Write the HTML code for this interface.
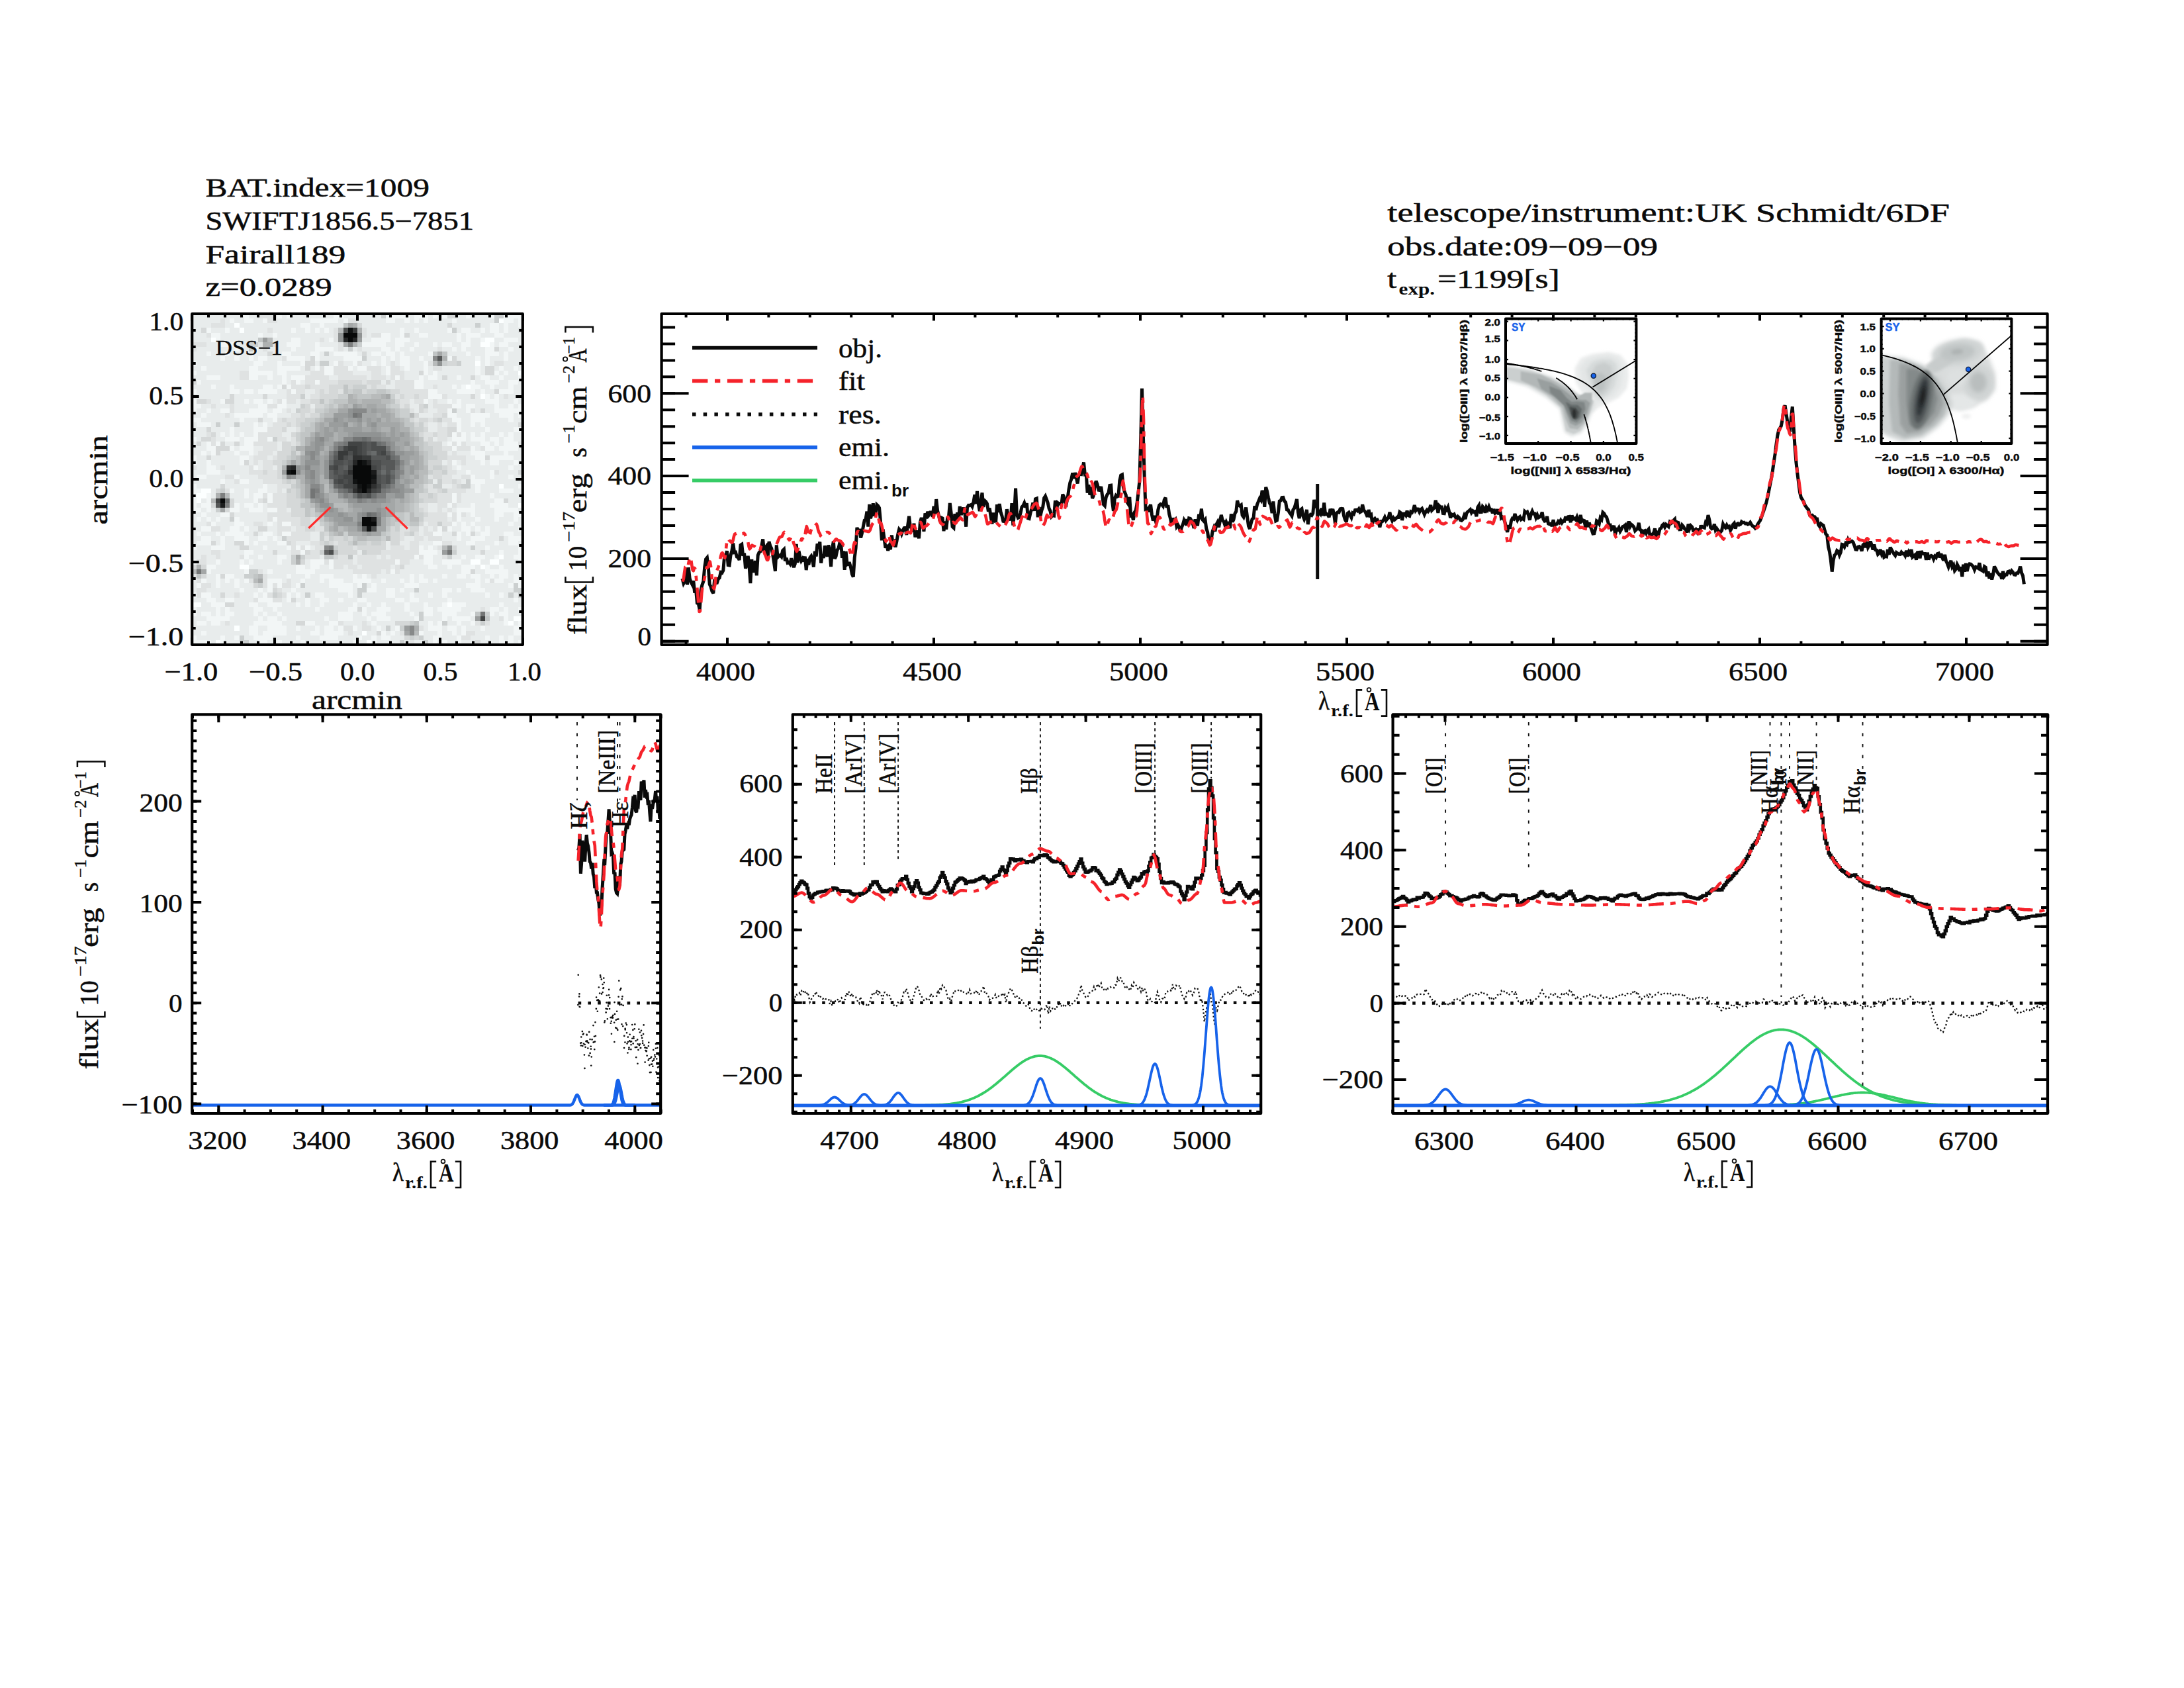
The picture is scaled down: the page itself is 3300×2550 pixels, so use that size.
<!DOCTYPE html>
<html><head><meta charset="utf-8"><title>spectrum</title>
<style>html,body{margin:0;padding:0;background:#fff}svg{display:block}</style>
</head><body>
<svg width="3300" height="2550" viewBox="0 0 3300 2550" font-family="Liberation Serif, serif" fill="#0a0a0a">
<rect width="3300" height="2550" fill="#fff"/>
<g shape-rendering="crispEdges">
<rect x="290.2" y="474" width="499.6" height="500" fill="#e8ecec"/>
<g transform="translate(290.2 474) scale(7.13714 7.14286)">
<path d="M65 1h1v1h-1zM9 2h1v1h-1zM10 3h1v1h-1zM4 5h1v1h-1zM62 5h2v1h-2zM61 6h2v1h-2zM60 10h1v1h-1zM69 12h1v1h-1zM58 15h1v1h-1zM61 17h1v1h-1zM65 36h1v1h-1zM2 37h2v1h-2zM1 38h2v1h-2zM1 39h1v1h-1zM69 40h1v1h-1zM65 51h1v1h-1zM59 52h2v1h-2zM63 52h2v1h-2zM10 53h2v1h-2zM61 53h1v1h-1zM0 61h2v1h-2zM54 61h1v1h-1zM68 64h2v1h-2zM67 65h1v1h-1zM9 66h1v1h-1zM36 67h1v1h-1zM5 69h1v1h-1zM37 69h1v1h-1z" fill="#fcffff"/>
<path d="M11 0h1v1h-1zM18 0h1v1h-1zM20 0h1v1h-1zM30 0h2v1h-2zM41 0h5v1h-5zM47 0h3v1h-3zM51 0h1v1h-1zM53 0h1v1h-1zM58 0h1v1h-1zM63 0h1v1h-1zM66 0h4v1h-4zM8 1h1v1h-1zM11 1h2v1h-2zM15 1h1v1h-1zM25 1h6v1h-6zM32 1h1v1h-1zM41 1h2v1h-2zM45 1h1v1h-1zM47 1h1v1h-1zM49 1h1v1h-1zM55 1h1v1h-1zM66 1h2v1h-2zM69 1h1v1h-1zM23 2h2v1h-2zM27 2h1v1h-1zM63 2h2v1h-2zM66 2h1v1h-1zM69 2h1v1h-1zM3 3h1v1h-1zM7 3h1v1h-1zM21 3h1v1h-1zM24 3h1v1h-1zM26 3h1v1h-1zM28 3h1v1h-1zM44 3h1v1h-1zM47 3h1v1h-1zM54 3h1v1h-1zM57 3h2v1h-2zM61 3h1v1h-1zM63 3h2v1h-2zM66 3h1v1h-1zM4 4h2v1h-2zM14 4h1v1h-1zM17 4h1v1h-1zM40 4h2v1h-2zM44 4h1v1h-1zM48 4h2v1h-2zM56 4h1v1h-1zM58 4h3v1h-3zM64 4h2v1h-2zM5 5h1v1h-1zM21 5h2v1h-2zM29 5h1v1h-1zM38 5h4v1h-4zM43 5h3v1h-3zM56 5h1v1h-1zM58 5h1v1h-1zM61 5h1v1h-1zM66 5h3v1h-3zM6 6h3v1h-3zM20 6h3v1h-3zM26 6h1v1h-1zM36 6h5v1h-5zM43 6h2v1h-2zM47 6h1v1h-1zM51 6h1v1h-1zM53 6h2v1h-2zM57 6h2v1h-2zM63 6h1v1h-1zM65 6h2v1h-2zM9 7h1v1h-1zM13 7h1v1h-1zM21 7h1v1h-1zM26 7h4v1h-4zM40 7h2v1h-2zM43 7h1v1h-1zM46 7h1v1h-1zM55 7h1v1h-1zM57 7h1v1h-1zM62 7h2v1h-2zM67 7h1v1h-1zM3 8h1v1h-1zM7 8h1v1h-1zM19 8h2v1h-2zM25 8h2v1h-2zM30 8h5v1h-5zM38 8h2v1h-2zM41 8h2v1h-2zM44 8h1v1h-1zM50 8h1v1h-1zM58 8h1v1h-1zM62 8h3v1h-3zM66 8h1v1h-1zM6 9h1v1h-1zM9 9h1v1h-1zM12 9h1v1h-1zM14 9h2v1h-2zM20 9h4v1h-4zM26 9h1v1h-1zM32 9h4v1h-4zM40 9h1v1h-1zM42 9h1v1h-1zM44 9h2v1h-2zM48 9h1v1h-1zM54 9h1v1h-1zM60 9h1v1h-1zM62 9h1v1h-1zM66 9h1v1h-1zM0 10h1v1h-1zM13 10h2v1h-2zM18 10h1v1h-1zM23 10h1v1h-1zM30 10h1v1h-1zM34 10h1v1h-1zM38 10h1v1h-1zM40 10h1v1h-1zM44 10h2v1h-2zM49 10h1v1h-1zM62 10h1v1h-1zM2 11h1v1h-1zM12 11h2v1h-2zM18 11h5v1h-5zM26 11h1v1h-1zM28 11h2v1h-2zM33 11h1v1h-1zM35 11h2v1h-2zM41 11h1v1h-1zM45 11h1v1h-1zM49 11h1v1h-1zM60 11h1v1h-1zM65 11h1v1h-1zM68 11h1v1h-1zM0 12h1v1h-1zM12 12h5v1h-5zM18 12h2v1h-2zM28 12h2v1h-2zM41 12h1v1h-1zM49 12h1v1h-1zM51 12h1v1h-1zM60 12h1v1h-1zM64 12h1v1h-1zM66 12h1v1h-1zM3 13h3v1h-3zM12 13h2v1h-2zM16 13h1v1h-1zM19 13h1v1h-1zM21 13h3v1h-3zM43 13h1v1h-1zM48 13h1v1h-1zM50 13h2v1h-2zM56 13h1v1h-1zM61 13h2v1h-2zM65 13h1v1h-1zM69 13h1v1h-1zM1 14h1v1h-1zM19 14h1v1h-1zM22 14h1v1h-1zM26 14h1v1h-1zM47 14h2v1h-2zM59 14h1v1h-1zM62 14h3v1h-3zM67 14h2v1h-2zM4 15h1v1h-1zM8 15h1v1h-1zM15 15h2v1h-2zM18 15h1v1h-1zM20 15h1v1h-1zM47 15h2v1h-2zM55 15h1v1h-1zM57 15h1v1h-1zM59 15h2v1h-2zM63 15h1v1h-1zM67 15h1v1h-1zM0 16h1v1h-1zM8 16h2v1h-2zM11 16h2v1h-2zM14 16h4v1h-4zM21 16h1v1h-1zM50 16h2v1h-2zM56 16h4v1h-4zM61 16h1v1h-1zM65 16h3v1h-3zM50 17h3v1h-3zM62 17h1v1h-1zM64 17h1v1h-1zM0 18h1v1h-1zM6 18h1v1h-1zM11 18h1v1h-1zM13 18h2v1h-2zM16 18h1v1h-1zM19 18h1v1h-1zM49 18h1v1h-1zM54 18h1v1h-1zM56 18h1v1h-1zM62 18h3v1h-3zM68 18h1v1h-1zM0 19h2v1h-2zM14 19h2v1h-2zM18 19h2v1h-2zM55 19h2v1h-2zM58 19h2v1h-2zM64 19h1v1h-1zM67 19h1v1h-1zM69 19h1v1h-1zM0 20h1v1h-1zM3 20h1v1h-1zM6 20h2v1h-2zM12 20h4v1h-4zM17 20h2v1h-2zM54 20h1v1h-1zM58 20h1v1h-1zM64 20h6v1h-6zM2 21h1v1h-1zM9 21h6v1h-6zM16 21h2v1h-2zM54 21h2v1h-2zM59 21h4v1h-4zM65 21h3v1h-3zM69 21h1v1h-1zM0 22h2v1h-2zM10 22h1v1h-1zM17 22h1v1h-1zM55 22h2v1h-2zM59 22h3v1h-3zM67 22h1v1h-1zM1 23h3v1h-3zM13 23h1v1h-1zM15 23h1v1h-1zM56 23h1v1h-1zM59 23h1v1h-1zM61 23h1v1h-1zM8 24h1v1h-1zM13 24h3v1h-3zM56 24h1v1h-1zM62 24h1v1h-1zM68 24h2v1h-2zM6 25h1v1h-1zM8 25h1v1h-1zM10 25h1v1h-1zM13 25h1v1h-1zM55 25h1v1h-1zM57 25h1v1h-1zM59 25h1v1h-1zM61 25h1v1h-1zM65 25h1v1h-1zM67 25h1v1h-1zM0 26h1v1h-1zM7 26h3v1h-3zM11 26h3v1h-3zM16 26h1v1h-1zM55 26h3v1h-3zM59 26h3v1h-3zM63 26h2v1h-2zM66 26h2v1h-2zM3 27h1v1h-1zM5 27h1v1h-1zM11 27h2v1h-2zM54 27h1v1h-1zM56 27h1v1h-1zM61 27h2v1h-2zM64 27h1v1h-1zM66 27h3v1h-3zM3 28h2v1h-2zM8 28h1v1h-1zM10 28h3v1h-3zM55 28h1v1h-1zM59 28h1v1h-1zM62 28h2v1h-2zM65 28h4v1h-4zM2 29h1v1h-1zM4 29h1v1h-1zM9 29h1v1h-1zM12 29h1v1h-1zM59 29h3v1h-3zM66 29h1v1h-1zM0 30h1v1h-1zM10 30h2v1h-2zM60 30h2v1h-2zM63 30h5v1h-5zM0 31h1v1h-1zM3 31h1v1h-1zM10 31h1v1h-1zM55 31h1v1h-1zM61 31h1v1h-1zM63 31h2v1h-2zM68 31h1v1h-1zM3 32h2v1h-2zM13 32h1v1h-1zM56 32h1v1h-1zM67 32h1v1h-1zM3 33h3v1h-3zM58 33h1v1h-1zM63 33h1v1h-1zM1 34h2v1h-2zM9 34h1v1h-1zM59 34h1v1h-1zM63 34h1v1h-1zM67 34h1v1h-1zM6 35h1v1h-1zM10 35h2v1h-2zM59 35h3v1h-3zM0 36h1v1h-1zM15 36h1v1h-1zM60 36h1v1h-1zM69 36h1v1h-1zM0 37h2v1h-2zM8 37h1v1h-1zM11 37h1v1h-1zM14 37h2v1h-2zM60 37h1v1h-1zM65 37h3v1h-3zM0 38h1v1h-1zM3 38h1v1h-1zM11 38h1v1h-1zM13 38h2v1h-2zM16 38h1v1h-1zM55 38h1v1h-1zM63 38h1v1h-1zM0 39h1v1h-1zM3 39h1v1h-1zM13 39h1v1h-1zM16 39h1v1h-1zM55 39h1v1h-1zM64 39h2v1h-2zM0 40h1v1h-1zM2 40h2v1h-2zM9 40h1v1h-1zM11 40h2v1h-2zM14 40h1v1h-1zM54 40h1v1h-1zM59 40h1v1h-1zM63 40h4v1h-4zM0 41h2v1h-2zM3 41h1v1h-1zM8 41h2v1h-2zM12 41h3v1h-3zM16 41h2v1h-2zM56 41h4v1h-4zM64 41h5v1h-5zM2 42h1v1h-1zM6 42h2v1h-2zM54 42h1v1h-1zM56 42h1v1h-1zM59 42h1v1h-1zM64 42h2v1h-2zM68 42h2v1h-2zM1 43h1v1h-1zM3 43h1v1h-1zM5 43h1v1h-1zM9 43h1v1h-1zM17 43h1v1h-1zM56 43h1v1h-1zM60 43h1v1h-1zM64 43h1v1h-1zM68 43h1v1h-1zM4 44h1v1h-1zM9 44h2v1h-2zM16 44h1v1h-1zM19 44h2v1h-2zM55 44h1v1h-1zM57 44h1v1h-1zM59 44h1v1h-1zM67 44h1v1h-1zM2 45h2v1h-2zM8 45h2v1h-2zM11 45h1v1h-1zM52 45h1v1h-1zM54 45h1v1h-1zM57 45h2v1h-2zM60 45h1v1h-1zM62 45h1v1h-1zM69 45h1v1h-1zM1 46h1v1h-1zM5 46h1v1h-1zM7 46h4v1h-4zM15 46h2v1h-2zM19 46h2v1h-2zM51 46h2v1h-2zM56 46h1v1h-1zM58 46h1v1h-1zM61 46h2v1h-2zM66 46h2v1h-2zM2 47h2v1h-2zM6 47h1v1h-1zM9 47h3v1h-3zM14 47h2v1h-2zM17 47h1v1h-1zM56 47h1v1h-1zM59 47h3v1h-3zM67 47h3v1h-3zM1 48h3v1h-3zM6 48h1v1h-1zM11 48h1v1h-1zM13 48h1v1h-1zM18 48h2v1h-2zM51 48h2v1h-2zM58 48h2v1h-2zM64 48h1v1h-1zM67 48h2v1h-2zM0 49h1v1h-1zM4 49h3v1h-3zM15 49h1v1h-1zM20 49h1v1h-1zM22 49h1v1h-1zM24 49h1v1h-1zM48 49h1v1h-1zM50 49h1v1h-1zM62 49h1v1h-1zM69 49h1v1h-1zM11 50h2v1h-2zM23 50h1v1h-1zM48 50h4v1h-4zM65 50h1v1h-1zM69 50h1v1h-1zM11 51h1v1h-1zM14 51h1v1h-1zM18 51h2v1h-2zM47 51h1v1h-1zM49 51h2v1h-2zM57 51h1v1h-1zM60 51h2v1h-2zM64 51h1v1h-1zM68 51h2v1h-2zM0 52h1v1h-1zM5 52h1v1h-1zM10 52h1v1h-1zM12 52h1v1h-1zM18 52h1v1h-1zM25 52h3v1h-3zM29 52h1v1h-1zM43 52h1v1h-1zM49 52h2v1h-2zM53 52h4v1h-4zM69 52h1v1h-1zM3 53h2v1h-2zM22 53h2v1h-2zM25 53h2v1h-2zM29 53h1v1h-1zM50 53h2v1h-2zM54 53h1v1h-1zM57 53h3v1h-3zM62 53h1v1h-1zM65 53h1v1h-1zM3 54h1v1h-1zM11 54h1v1h-1zM16 54h1v1h-1zM22 54h4v1h-4zM42 54h1v1h-1zM57 54h2v1h-2zM62 54h5v1h-5zM5 55h1v1h-1zM7 55h2v1h-2zM20 55h1v1h-1zM24 55h1v1h-1zM27 55h3v1h-3zM34 55h1v1h-1zM36 55h1v1h-1zM46 55h1v1h-1zM48 55h1v1h-1zM53 55h1v1h-1zM56 55h2v1h-2zM59 55h2v1h-2zM63 55h1v1h-1zM65 55h2v1h-2zM68 55h1v1h-1zM2 56h1v1h-1zM5 56h1v1h-1zM7 56h1v1h-1zM9 56h1v1h-1zM11 56h1v1h-1zM16 56h3v1h-3zM23 56h1v1h-1zM27 56h1v1h-1zM29 56h3v1h-3zM34 56h4v1h-4zM40 56h1v1h-1zM44 56h1v1h-1zM46 56h1v1h-1zM48 56h2v1h-2zM51 56h1v1h-1zM60 56h1v1h-1zM62 56h1v1h-1zM64 56h2v1h-2zM68 56h2v1h-2zM1 57h1v1h-1zM5 57h1v1h-1zM9 57h1v1h-1zM16 57h1v1h-1zM18 57h1v1h-1zM22 57h1v1h-1zM29 57h5v1h-5zM35 57h1v1h-1zM38 57h1v1h-1zM45 57h3v1h-3zM58 57h3v1h-3zM67 57h1v1h-1zM69 57h1v1h-1zM10 58h1v1h-1zM14 58h1v1h-1zM16 58h1v1h-1zM21 58h1v1h-1zM31 58h3v1h-3zM37 58h2v1h-2zM41 58h2v1h-2zM44 58h1v1h-1zM53 58h2v1h-2zM56 58h1v1h-1zM59 58h3v1h-3zM0 59h1v1h-1zM2 59h2v1h-2zM13 59h1v1h-1zM15 59h1v1h-1zM20 59h1v1h-1zM22 59h1v1h-1zM26 59h2v1h-2zM33 59h1v1h-1zM41 59h2v1h-2zM46 59h1v1h-1zM50 59h1v1h-1zM53 59h1v1h-1zM62 59h1v1h-1zM65 59h1v1h-1zM3 60h2v1h-2zM7 60h2v1h-2zM14 60h3v1h-3zM20 60h1v1h-1zM24 60h1v1h-1zM27 60h2v1h-2zM31 60h1v1h-1zM35 60h2v1h-2zM43 60h2v1h-2zM46 60h2v1h-2zM54 60h1v1h-1zM68 60h1v1h-1zM4 61h3v1h-3zM12 61h2v1h-2zM16 61h3v1h-3zM22 61h1v1h-1zM24 61h1v1h-1zM27 61h1v1h-1zM34 61h1v1h-1zM37 61h1v1h-1zM40 61h1v1h-1zM45 61h1v1h-1zM49 61h1v1h-1zM53 61h1v1h-1zM55 61h3v1h-3zM65 61h1v1h-1zM0 62h1v1h-1zM5 62h1v1h-1zM7 62h1v1h-1zM13 62h2v1h-2zM17 62h1v1h-1zM26 62h1v1h-1zM33 62h2v1h-2zM36 62h1v1h-1zM39 62h3v1h-3zM45 62h1v1h-1zM49 62h2v1h-2zM52 62h5v1h-5zM63 62h2v1h-2zM66 62h1v1h-1zM69 62h1v1h-1zM0 63h1v1h-1zM2 63h2v1h-2zM5 63h1v1h-1zM7 63h2v1h-2zM13 63h1v1h-1zM15 63h1v1h-1zM18 63h1v1h-1zM31 63h3v1h-3zM36 63h1v1h-1zM38 63h3v1h-3zM46 63h1v1h-1zM49 63h2v1h-2zM53 63h3v1h-3zM59 63h1v1h-1zM63 63h1v1h-1zM65 63h2v1h-2zM3 64h5v1h-5zM14 64h1v1h-1zM16 64h2v1h-2zM19 64h1v1h-1zM28 64h1v1h-1zM31 64h3v1h-3zM37 64h1v1h-1zM39 64h3v1h-3zM47 64h1v1h-1zM53 64h1v1h-1zM55 64h4v1h-4zM66 64h1v1h-1zM1 65h2v1h-2zM4 65h2v1h-2zM13 65h6v1h-6zM24 65h2v1h-2zM29 65h2v1h-2zM38 65h1v1h-1zM50 65h1v1h-1zM52 65h1v1h-1zM56 65h1v1h-1zM59 65h1v1h-1zM66 65h1v1h-1zM69 65h1v1h-1zM12 66h2v1h-2zM16 66h4v1h-4zM22 66h1v1h-1zM26 66h1v1h-1zM28 66h2v1h-2zM31 66h1v1h-1zM34 66h1v1h-1zM39 66h1v1h-1zM43 66h1v1h-1zM50 66h3v1h-3zM54 66h2v1h-2zM57 66h1v1h-1zM61 66h1v1h-1zM68 66h2v1h-2zM2 67h1v1h-1zM12 67h2v1h-2zM15 67h5v1h-5zM25 67h2v1h-2zM28 67h4v1h-4zM40 67h1v1h-1zM42 67h1v1h-1zM48 67h1v1h-1zM52 67h1v1h-1zM55 67h1v1h-1zM57 67h1v1h-1zM68 67h2v1h-2zM0 68h1v1h-1zM6 68h1v1h-1zM9 68h1v1h-1zM13 68h4v1h-4zM22 68h1v1h-1zM27 68h4v1h-4zM35 68h1v1h-1zM38 68h1v1h-1zM40 68h2v1h-2zM51 68h2v1h-2zM56 68h1v1h-1zM62 68h1v1h-1zM65 68h1v1h-1zM67 68h1v1h-1zM0 69h4v1h-4zM6 69h1v1h-1zM14 69h2v1h-2zM18 69h1v1h-1zM23 69h1v1h-1zM34 69h1v1h-1zM38 69h1v1h-1zM51 69h1v1h-1zM53 69h1v1h-1zM56 69h1v1h-1zM65 69h3v1h-3zM69 69h1v1h-1z" fill="#f2f6f6"/>
<path d="M14 0h4v1h-4zM6 1h1v1h-1zM16 1h2v1h-2zM33 1h2v1h-2zM4 2h3v1h-3zM16 3h1v1h-1zM30 3h1v1h-1zM36 3h1v1h-1zM69 3h1v1h-1zM3 4h1v1h-1zM30 4h1v1h-1zM36 4h1v1h-1zM38 4h2v1h-2zM27 5h1v1h-1zM30 5h1v1h-1zM0 6h3v1h-3zM14 6h1v1h-1zM17 6h1v1h-1zM31 6h1v1h-1zM0 7h1v1h-1zM15 7h1v1h-1zM31 7h1v1h-1zM35 7h1v1h-1zM52 7h1v1h-1zM19 9h1v1h-1zM31 10h1v1h-1zM35 10h1v1h-1zM42 10h1v1h-1zM50 10h1v1h-1zM64 10h2v1h-2zM27 11h1v1h-1zM30 11h3v1h-3zM37 11h3v1h-3zM42 11h2v1h-2zM51 11h2v1h-2zM10 12h2v1h-2zM25 12h3v1h-3zM30 12h4v1h-4zM38 12h2v1h-2zM42 12h3v1h-3zM10 13h2v1h-2zM24 13h5v1h-5zM31 13h6v1h-6zM38 13h3v1h-3zM42 13h1v1h-1zM44 13h1v1h-1zM21 14h1v1h-1zM24 14h2v1h-2zM27 14h4v1h-4zM36 14h1v1h-1zM43 14h4v1h-4zM21 15h3v1h-3zM25 15h4v1h-4zM37 15h1v1h-1zM39 15h2v1h-2zM43 15h4v1h-4zM51 15h1v1h-1zM20 16h1v1h-1zM22 16h2v1h-2zM26 16h1v1h-1zM28 16h1v1h-1zM31 16h1v1h-1zM44 16h6v1h-6zM20 17h3v1h-3zM25 17h2v1h-2zM43 17h1v1h-1zM45 17h2v1h-2zM48 17h2v1h-2zM53 17h1v1h-1zM66 17h1v1h-1zM3 18h1v1h-1zM18 18h1v1h-1zM20 18h2v1h-2zM23 18h2v1h-2zM44 18h2v1h-2zM47 18h2v1h-2zM51 18h1v1h-1zM4 19h1v1h-1zM8 19h1v1h-1zM16 19h2v1h-2zM44 19h1v1h-1zM51 19h4v1h-4zM8 20h1v1h-1zM20 20h1v1h-1zM25 20h1v1h-1zM46 20h1v1h-1zM49 20h1v1h-1zM52 20h2v1h-2zM59 20h1v1h-1zM7 21h1v1h-1zM21 21h2v1h-2zM24 21h1v1h-1zM51 21h2v1h-2zM18 22h1v1h-1zM20 22h2v1h-2zM47 22h1v1h-1zM50 22h1v1h-1zM53 22h2v1h-2zM17 23h3v1h-3zM21 23h1v1h-1zM49 23h1v1h-1zM52 23h1v1h-1zM54 23h2v1h-2zM16 24h3v1h-3zM22 24h1v1h-1zM52 24h2v1h-2zM3 25h1v1h-1zM14 25h5v1h-5zM49 25h2v1h-2zM52 25h2v1h-2zM56 25h1v1h-1zM4 26h1v1h-1zM14 26h2v1h-2zM18 26h2v1h-2zM21 26h1v1h-1zM49 26h1v1h-1zM52 26h2v1h-2zM4 27h1v1h-1zM13 27h5v1h-5zM21 27h1v1h-1zM55 27h1v1h-1zM57 27h1v1h-1zM69 27h1v1h-1zM15 28h3v1h-3zM53 28h2v1h-2zM56 28h3v1h-3zM61 28h1v1h-1zM14 29h3v1h-3zM55 29h1v1h-1zM13 30h3v1h-3zM17 30h1v1h-1zM54 30h4v1h-4zM13 31h1v1h-1zM15 31h2v1h-2zM54 31h1v1h-1zM57 31h1v1h-1zM0 32h1v1h-1zM6 32h1v1h-1zM12 32h1v1h-1zM15 32h2v1h-2zM54 32h1v1h-1zM12 33h3v1h-3zM16 33h2v1h-2zM54 33h2v1h-2zM64 33h1v1h-1zM7 34h2v1h-2zM14 34h4v1h-4zM50 34h1v1h-1zM53 34h2v1h-2zM57 34h2v1h-2zM9 35h1v1h-1zM15 35h4v1h-4zM53 35h2v1h-2zM56 35h1v1h-1zM18 36h3v1h-3zM50 36h1v1h-1zM55 36h1v1h-1zM7 37h1v1h-1zM18 37h1v1h-1zM50 37h2v1h-2zM54 37h4v1h-4zM15 38h1v1h-1zM17 38h3v1h-3zM52 38h3v1h-3zM56 38h1v1h-1zM14 39h1v1h-1zM17 39h3v1h-3zM52 39h3v1h-3zM56 39h1v1h-1zM16 40h4v1h-4zM48 40h2v1h-2zM52 40h2v1h-2zM55 40h1v1h-1zM18 41h2v1h-2zM49 41h1v1h-1zM52 41h1v1h-1zM54 41h1v1h-1zM16 42h5v1h-5zM50 42h4v1h-4zM55 42h1v1h-1zM57 42h1v1h-1zM16 43h1v1h-1zM18 43h5v1h-5zM25 43h1v1h-1zM49 43h5v1h-5zM55 43h1v1h-1zM3 44h1v1h-1zM13 44h2v1h-2zM18 44h1v1h-1zM21 44h2v1h-2zM25 44h2v1h-2zM50 44h2v1h-2zM53 44h2v1h-2zM4 45h2v1h-2zM18 45h3v1h-3zM22 45h2v1h-2zM26 45h2v1h-2zM44 45h2v1h-2zM49 45h1v1h-1zM51 45h1v1h-1zM18 46h1v1h-1zM21 46h4v1h-4zM44 46h1v1h-1zM47 46h1v1h-1zM49 46h2v1h-2zM20 47h5v1h-5zM28 47h1v1h-1zM44 47h1v1h-1zM47 47h2v1h-2zM50 47h3v1h-3zM21 48h1v1h-1zM25 48h2v1h-2zM30 48h1v1h-1zM46 48h2v1h-2zM53 48h2v1h-2zM21 49h1v1h-1zM23 49h1v1h-1zM26 49h2v1h-2zM34 49h1v1h-1zM42 49h3v1h-3zM46 49h2v1h-2zM52 49h1v1h-1zM4 50h2v1h-2zM21 50h2v1h-2zM25 50h2v1h-2zM40 50h8v1h-8zM2 51h1v1h-1zM5 51h1v1h-1zM10 51h1v1h-1zM24 51h3v1h-3zM31 51h2v1h-2zM35 51h4v1h-4zM40 51h1v1h-1zM42 51h5v1h-5zM48 51h1v1h-1zM53 51h1v1h-1zM1 52h2v1h-2zM28 52h1v1h-1zM30 52h4v1h-4zM35 52h8v1h-8zM44 52h2v1h-2zM30 53h2v1h-2zM33 53h2v1h-2zM36 53h6v1h-6zM43 53h1v1h-1zM14 54h1v1h-1zM34 54h6v1h-6zM41 54h1v1h-1zM43 54h1v1h-1zM0 55h1v1h-1zM15 55h1v1h-1zM38 55h1v1h-1zM1 56h1v1h-1zM12 56h1v1h-1zM15 56h1v1h-1zM20 56h1v1h-1zM63 56h1v1h-1zM2 57h2v1h-2zM15 57h1v1h-1zM17 57h1v1h-1zM19 57h2v1h-2zM1 58h2v1h-2zM18 58h1v1h-1zM1 59h1v1h-1zM9 59h1v1h-1zM16 59h1v1h-1zM19 59h1v1h-1zM13 60h1v1h-1zM17 60h2v1h-2zM61 62h1v1h-1zM65 64h1v1h-1zM7 65h1v1h-1zM31 65h1v1h-1zM36 65h1v1h-1zM60 65h1v1h-1zM62 65h1v1h-1zM32 66h2v1h-2zM36 66h2v1h-2zM48 66h1v1h-1zM33 67h1v1h-1zM44 67h1v1h-1zM58 67h2v1h-2zM57 68h2v1h-2zM46 69h1v1h-1z" fill="#dfe2e2"/>
<path d="M54 0h2v1h-2zM35 2h1v1h-1zM54 2h1v1h-1zM2 3h1v1h-1zM45 4h1v1h-1zM64 7h1v1h-1zM16 8h1v1h-1zM36 8h1v1h-1zM25 9h1v1h-1zM55 9h1v1h-1zM24 10h2v1h-2zM54 10h2v1h-2zM24 11h1v1h-1zM62 11h2v1h-2zM48 12h1v1h-1zM62 12h2v1h-2zM53 13h1v1h-1zM59 13h1v1h-1zM0 14h1v1h-1zM31 14h5v1h-5zM37 14h3v1h-3zM41 14h1v1h-1zM19 15h1v1h-1zM24 15h1v1h-1zM29 15h3v1h-3zM33 15h1v1h-1zM38 15h1v1h-1zM27 16h1v1h-1zM29 16h2v1h-2zM36 16h1v1h-1zM42 16h2v1h-2zM64 16h1v1h-1zM8 17h1v1h-1zM15 17h1v1h-1zM27 17h4v1h-4zM44 17h1v1h-1zM47 17h1v1h-1zM59 17h1v1h-1zM1 18h2v1h-2zM7 18h2v1h-2zM25 18h2v1h-2zM28 18h1v1h-1zM43 18h1v1h-1zM24 19h1v1h-1zM26 19h2v1h-2zM45 19h1v1h-1zM48 19h1v1h-1zM23 20h2v1h-2zM48 20h1v1h-1zM61 20h1v1h-1zM23 21h1v1h-1zM25 21h2v1h-2zM47 21h1v1h-1zM53 21h1v1h-1zM14 22h1v1h-1zM19 22h1v1h-1zM22 22h2v1h-2zM46 22h1v1h-1zM48 22h2v1h-2zM51 22h1v1h-1zM20 23h1v1h-1zM22 23h1v1h-1zM47 23h1v1h-1zM69 23h1v1h-1zM3 24h1v1h-1zM19 24h1v1h-1zM49 24h1v1h-1zM54 24h2v1h-2zM4 25h1v1h-1zM21 25h1v1h-1zM48 25h1v1h-1zM51 25h1v1h-1zM54 25h1v1h-1zM2 26h2v1h-2zM50 26h1v1h-1zM1 27h1v1h-1zM6 27h1v1h-1zM9 27h1v1h-1zM19 27h2v1h-2zM22 27h1v1h-1zM50 27h3v1h-3zM5 28h3v1h-3zM19 28h2v1h-2zM51 28h2v1h-2zM5 29h1v1h-1zM18 29h3v1h-3zM22 29h1v1h-1zM51 29h3v1h-3zM3 30h1v1h-1zM18 30h2v1h-2zM52 30h2v1h-2zM62 30h1v1h-1zM11 31h1v1h-1zM17 31h2v1h-2zM50 31h3v1h-3zM18 32h1v1h-1zM50 32h1v1h-1zM53 32h1v1h-1zM15 33h1v1h-1zM18 33h1v1h-1zM51 33h2v1h-2zM69 33h1v1h-1zM18 34h1v1h-1zM51 34h2v1h-2zM19 35h1v1h-1zM21 35h1v1h-1zM55 35h1v1h-1zM6 36h1v1h-1zM49 36h1v1h-1zM56 36h1v1h-1zM5 37h1v1h-1zM21 37h1v1h-1zM52 37h1v1h-1zM20 38h2v1h-2zM48 38h2v1h-2zM51 38h1v1h-1zM8 39h1v1h-1zM15 39h1v1h-1zM20 39h3v1h-3zM49 39h3v1h-3zM66 39h1v1h-1zM4 40h1v1h-1zM8 40h1v1h-1zM20 40h3v1h-3zM7 41h1v1h-1zM21 41h3v1h-3zM48 41h1v1h-1zM8 42h1v1h-1zM21 42h3v1h-3zM49 42h1v1h-1zM23 43h2v1h-2zM26 43h1v1h-1zM23 44h2v1h-2zM44 44h1v1h-1zM48 44h1v1h-1zM14 45h2v1h-2zM24 45h2v1h-2zM42 45h1v1h-1zM46 45h2v1h-2zM53 45h1v1h-1zM13 46h1v1h-1zM28 46h1v1h-1zM42 46h2v1h-2zM45 46h1v1h-1zM55 46h1v1h-1zM59 46h1v1h-1zM30 47h2v1h-2zM33 47h1v1h-1zM42 47h2v1h-2zM65 47h1v1h-1zM4 48h1v1h-1zM9 48h2v1h-2zM20 48h1v1h-1zM27 48h1v1h-1zM29 48h1v1h-1zM31 48h2v1h-2zM37 48h1v1h-1zM40 48h1v1h-1zM42 48h2v1h-2zM10 49h2v1h-2zM31 49h3v1h-3zM35 49h6v1h-6zM55 49h1v1h-1zM17 50h1v1h-1zM24 50h1v1h-1zM31 50h4v1h-4zM37 50h3v1h-3zM61 50h1v1h-1zM30 51h1v1h-1zM23 52h1v1h-1zM0 53h1v1h-1zM2 53h1v1h-1zM44 53h1v1h-1zM59 54h1v1h-1zM2 55h1v1h-1zM6 55h1v1h-1zM13 57h1v1h-1zM17 58h1v1h-1zM6 59h1v1h-1zM18 59h1v1h-1zM21 60h1v1h-1zM7 61h2v1h-2zM35 62h1v1h-1zM22 65h2v1h-2zM43 65h3v1h-3zM39 67h1v1h-1zM45 68h1v1h-1zM47 68h1v1h-1zM60 69h1v1h-1z" fill="#d5d8d8"/>
<path d="M40 0h1v1h-1zM64 0h2v1h-2zM64 1h1v1h-1zM60 2h1v1h-1zM55 3h1v1h-1zM12 6h2v1h-2zM35 6h1v1h-1zM12 7h1v1h-1zM33 7h1v1h-1zM28 8h1v1h-1zM36 9h1v1h-1zM27 10h2v1h-2zM53 10h1v1h-1zM56 10h1v1h-1zM34 15h3v1h-3zM33 16h1v1h-1zM37 16h2v1h-2zM41 16h1v1h-1zM23 17h1v1h-1zM31 17h2v1h-2zM42 17h1v1h-1zM29 18h1v1h-1zM23 19h1v1h-1zM28 19h1v1h-1zM30 19h1v1h-1zM42 19h2v1h-2zM49 19h1v1h-1zM22 20h1v1h-1zM26 20h2v1h-2zM44 20h2v1h-2zM55 20h1v1h-1zM44 21h2v1h-2zM24 22h2v1h-2zM52 22h1v1h-1zM5 23h1v1h-1zM9 23h1v1h-1zM23 23h2v1h-2zM48 23h1v1h-1zM23 24h1v1h-1zM47 24h2v1h-2zM22 25h1v1h-1zM17 26h1v1h-1zM22 26h1v1h-1zM49 27h1v1h-1zM21 28h1v1h-1zM49 28h2v1h-2zM50 29h1v1h-1zM20 30h1v1h-1zM50 30h2v1h-2zM19 31h1v1h-1zM51 32h2v1h-2zM50 33h1v1h-1zM53 33h1v1h-1zM20 35h1v1h-1zM50 35h1v1h-1zM52 35h1v1h-1zM58 35h1v1h-1zM21 36h1v1h-1zM51 36h2v1h-2zM57 36h2v1h-2zM6 37h1v1h-1zM20 37h1v1h-1zM22 37h1v1h-1zM49 37h1v1h-1zM53 37h1v1h-1zM22 38h1v1h-1zM50 38h1v1h-1zM23 39h1v1h-1zM48 39h1v1h-1zM47 40h1v1h-1zM5 41h1v1h-1zM25 41h1v1h-1zM47 41h1v1h-1zM25 42h1v1h-1zM45 42h1v1h-1zM47 42h2v1h-2zM8 43h1v1h-1zM45 43h1v1h-1zM48 43h1v1h-1zM27 44h1v1h-1zM43 44h1v1h-1zM45 44h1v1h-1zM52 44h1v1h-1zM43 45h1v1h-1zM27 46h1v1h-1zM32 46h1v1h-1zM41 46h1v1h-1zM46 46h1v1h-1zM19 47h1v1h-1zM27 47h1v1h-1zM29 47h1v1h-1zM32 47h1v1h-1zM40 47h1v1h-1zM28 48h1v1h-1zM33 48h1v1h-1zM35 48h2v1h-2zM38 48h2v1h-2zM30 49h1v1h-1zM59 49h1v1h-1zM27 50h1v1h-1zM36 50h1v1h-1zM55 50h1v1h-1zM21 51h1v1h-1zM23 51h1v1h-1zM54 51h1v1h-1zM21 52h1v1h-1zM12 54h2v1h-2zM11 55h2v1h-2zM14 57h1v1h-1zM23 57h1v1h-1zM36 57h1v1h-1zM68 57h1v1h-1zM35 58h2v1h-2zM47 58h1v1h-1zM68 58h2v1h-2zM17 59h1v1h-1zM24 59h1v1h-1zM35 59h1v1h-1zM67 59h1v1h-1zM69 59h1v1h-1zM48 63h1v1h-1zM62 63h1v1h-1zM48 64h1v1h-1zM46 65h1v1h-1zM53 65h1v1h-1zM61 65h1v1h-1zM41 66h1v1h-1zM44 66h1v1h-1zM10 68h1v1h-1zM46 68h1v1h-1zM48 68h1v1h-1zM10 69h2v1h-2zM44 69h1v1h-1zM49 69h1v1h-1z" fill="#cbcfcf"/>
<path d="M32 2h1v1h-1zM14 5h1v1h-1zM51 8h1v1h-1zM53 8h1v1h-1zM32 15h1v1h-1zM32 16h1v1h-1zM34 16h2v1h-2zM39 16h2v1h-2zM35 17h3v1h-3zM27 18h1v1h-1zM30 18h3v1h-3zM42 18h1v1h-1zM29 19h1v1h-1zM41 19h1v1h-1zM28 20h1v1h-1zM43 20h1v1h-1zM27 21h1v1h-1zM43 21h1v1h-1zM26 22h1v1h-1zM45 22h1v1h-1zM25 23h1v1h-1zM45 23h2v1h-2zM24 24h2v1h-2zM46 24h1v1h-1zM23 25h2v1h-2zM47 25h1v1h-1zM23 26h1v1h-1zM48 26h1v1h-1zM23 27h1v1h-1zM47 27h2v1h-2zM48 28h1v1h-1zM21 29h1v1h-1zM49 29h1v1h-1zM21 30h1v1h-1zM49 30h1v1h-1zM49 31h1v1h-1zM19 34h1v1h-1zM49 34h1v1h-1zM22 35h1v1h-1zM49 35h1v1h-1zM22 36h1v1h-1zM48 36h1v1h-1zM47 37h2v1h-2zM47 38h1v1h-1zM24 39h1v1h-1zM47 39h1v1h-1zM23 40h2v1h-2zM46 40h1v1h-1zM24 41h1v1h-1zM46 41h1v1h-1zM24 42h1v1h-1zM26 42h1v1h-1zM43 42h2v1h-2zM27 43h1v1h-1zM42 43h1v1h-1zM44 43h1v1h-1zM28 44h1v1h-1zM42 44h1v1h-1zM46 44h2v1h-2zM28 45h1v1h-1zM41 45h1v1h-1zM29 46h1v1h-1zM40 46h1v1h-1zM34 47h1v1h-1zM37 47h3v1h-3zM28 51h2v1h-2zM33 51h1v1h-1zM1 55h1v1h-1zM13 55h1v1h-1zM60 63h1v1h-1zM62 64h1v1h-1zM47 65h1v1h-1z" fill="#c1c5c5"/>
<path d="M31 3h1v1h-1zM16 5h1v1h-1zM51 10h1v1h-1zM34 17h1v1h-1zM38 17h2v1h-2zM35 18h1v1h-1zM40 18h2v1h-2zM31 19h1v1h-1zM33 19h1v1h-1zM29 20h2v1h-2zM42 20h1v1h-1zM28 21h2v1h-2zM46 21h1v1h-1zM27 22h1v1h-1zM44 22h1v1h-1zM46 25h1v1h-1zM47 26h1v1h-1zM23 29h1v1h-1zM48 29h1v1h-1zM22 30h1v1h-1zM20 31h1v1h-1zM22 31h1v1h-1zM49 32h1v1h-1zM48 33h2v1h-2zM48 34h1v1h-1zM47 35h2v1h-2zM23 36h1v1h-1zM28 36h1v1h-1zM46 36h2v1h-2zM23 37h1v1h-1zM28 37h1v1h-1zM7 38h1v1h-1zM23 38h1v1h-1zM46 38h1v1h-1zM4 39h1v1h-1zM46 39h1v1h-1zM25 40h1v1h-1zM30 40h3v1h-3zM45 40h1v1h-1zM32 41h1v1h-1zM45 41h1v1h-1zM27 42h1v1h-1zM46 42h1v1h-1zM41 43h1v1h-1zM43 43h1v1h-1zM46 43h2v1h-2zM29 44h1v1h-1zM41 44h1v1h-1zM31 45h1v1h-1zM30 46h1v1h-1zM35 47h2v1h-2zM41 47h1v1h-1zM34 48h1v1h-1zM53 49h1v1h-1zM30 50h1v1h-1zM0 54h1v1h-1zM14 55h1v1h-1zM13 56h1v1h-1zM47 67h1v1h-1z" fill="#b8bbbb"/>
<path d="M34 2h1v1h-1zM35 3h1v1h-1zM15 6h2v1h-2zM34 6h1v1h-1zM53 9h1v1h-1zM33 17h1v1h-1zM40 17h1v1h-1zM33 18h2v1h-2zM36 18h4v1h-4zM32 19h1v1h-1zM36 19h1v1h-1zM39 19h2v1h-2zM41 20h1v1h-1zM39 21h1v1h-1zM42 21h1v1h-1zM40 22h1v1h-1zM42 22h2v1h-2zM26 23h1v1h-1zM28 23h1v1h-1zM33 23h1v1h-1zM36 23h1v1h-1zM44 23h1v1h-1zM26 24h1v1h-1zM40 24h2v1h-2zM44 24h2v1h-2zM25 25h1v1h-1zM30 25h1v1h-1zM24 26h1v1h-1zM30 26h1v1h-1zM46 26h1v1h-1zM24 27h1v1h-1zM46 27h1v1h-1zM22 28h2v1h-2zM28 28h1v1h-1zM45 28h1v1h-1zM47 28h1v1h-1zM27 29h1v1h-1zM48 30h1v1h-1zM46 31h1v1h-1zM48 31h1v1h-1zM19 32h1v1h-1zM48 32h1v1h-1zM47 33h1v1h-1zM22 34h2v1h-2zM27 34h1v1h-1zM46 34h1v1h-1zM23 35h1v1h-1zM27 35h2v1h-2zM5 38h1v1h-1zM29 38h2v1h-2zM45 38h1v1h-1zM29 39h3v1h-3zM43 39h1v1h-1zM45 39h1v1h-1zM43 40h2v1h-2zM26 41h1v1h-1zM31 41h1v1h-1zM33 41h1v1h-1zM43 41h2v1h-2zM28 43h1v1h-1zM29 45h1v1h-1zM32 45h1v1h-1zM31 46h1v1h-1zM33 46h3v1h-3zM22 52h1v1h-1zM1 53h1v1h-1zM47 66h1v1h-1z" fill="#aeb1b1"/>
<path d="M33 2h1v1h-1zM32 6h1v1h-1zM52 8h1v1h-1zM41 17h1v1h-1zM35 19h1v1h-1zM37 19h2v1h-2zM31 20h2v1h-2zM37 20h1v1h-1zM39 20h2v1h-2zM36 21h3v1h-3zM40 21h2v1h-2zM28 22h2v1h-2zM32 22h1v1h-1zM36 22h1v1h-1zM38 22h1v1h-1zM41 22h1v1h-1zM27 23h1v1h-1zM34 23h1v1h-1zM39 23h5v1h-5zM27 24h1v1h-1zM29 24h1v1h-1zM31 24h1v1h-1zM36 24h2v1h-2zM39 24h1v1h-1zM43 24h1v1h-1zM27 25h1v1h-1zM31 25h2v1h-2zM41 25h1v1h-1zM43 25h1v1h-1zM45 25h1v1h-1zM25 26h1v1h-1zM29 26h1v1h-1zM31 26h1v1h-1zM44 26h2v1h-2zM28 27h2v1h-2zM43 27h2v1h-2zM44 28h1v1h-1zM46 28h1v1h-1zM28 29h1v1h-1zM47 29h1v1h-1zM23 30h1v1h-1zM27 30h1v1h-1zM46 30h2v1h-2zM21 31h1v1h-1zM23 31h1v1h-1zM27 31h1v1h-1zM47 31h1v1h-1zM27 32h1v1h-1zM45 32h1v1h-1zM47 32h1v1h-1zM23 33h1v1h-1zM27 33h1v1h-1zM45 33h1v1h-1zM45 34h1v1h-1zM47 34h1v1h-1zM44 35h1v1h-1zM46 35h1v1h-1zM24 36h1v1h-1zM45 36h1v1h-1zM24 37h1v1h-1zM29 37h1v1h-1zM24 38h1v1h-1zM28 38h1v1h-1zM32 39h1v1h-1zM42 39h1v1h-1zM44 39h1v1h-1zM26 40h1v1h-1zM33 40h1v1h-1zM40 40h3v1h-3zM6 41h1v1h-1zM27 41h1v1h-1zM34 41h2v1h-2zM41 41h2v1h-2zM33 42h2v1h-2zM41 42h2v1h-2zM29 43h1v1h-1zM34 43h1v1h-1zM40 43h1v1h-1zM30 44h1v1h-1zM40 44h1v1h-1zM30 45h1v1h-1zM33 45h2v1h-2zM39 45h2v1h-2zM36 46h1v1h-1zM38 46h2v1h-2zM22 51h1v1h-1zM2 54h1v1h-1zM14 56h1v1h-1zM45 67h1v1h-1z" fill="#a4a7a7"/>
<path d="M15 5h1v1h-1zM35 5h1v1h-1zM34 19h1v1h-1zM38 20h1v1h-1zM30 21h3v1h-3zM31 22h1v1h-1zM33 22h2v1h-2zM37 22h1v1h-1zM39 22h1v1h-1zM29 23h3v1h-3zM35 23h1v1h-1zM37 23h1v1h-1zM28 24h1v1h-1zM30 24h1v1h-1zM32 24h4v1h-4zM38 24h1v1h-1zM42 24h1v1h-1zM26 25h1v1h-1zM28 25h2v1h-2zM33 25h1v1h-1zM40 25h1v1h-1zM42 25h1v1h-1zM44 25h1v1h-1zM28 26h1v1h-1zM42 26h2v1h-2zM25 27h1v1h-1zM45 27h1v1h-1zM24 28h2v1h-2zM27 28h1v1h-1zM29 28h1v1h-1zM43 28h1v1h-1zM45 29h2v1h-2zM24 30h1v1h-1zM26 30h1v1h-1zM28 30h1v1h-1zM44 30h2v1h-2zM45 31h1v1h-1zM23 32h1v1h-1zM25 32h2v1h-2zM46 32h1v1h-1zM19 33h1v1h-1zM26 33h1v1h-1zM46 33h1v1h-1zM26 34h1v1h-1zM44 34h1v1h-1zM24 35h1v1h-1zM26 35h1v1h-1zM45 35h1v1h-1zM27 36h1v1h-1zM29 36h1v1h-1zM27 37h1v1h-1zM45 37h2v1h-2zM41 38h2v1h-2zM25 39h1v1h-1zM28 39h1v1h-1zM41 39h1v1h-1zM29 40h1v1h-1zM34 40h6v1h-6zM28 41h1v1h-1zM30 41h1v1h-1zM36 41h3v1h-3zM40 41h1v1h-1zM28 42h3v1h-3zM32 42h1v1h-1zM40 42h1v1h-1zM30 43h2v1h-2zM31 44h4v1h-4zM37 46h1v1h-1zM53 50h1v1h-1zM60 64h1v1h-1zM45 66h1v1h-1z" fill="#9a9d9d"/>
<path d="M31 4h1v1h-1zM35 4h1v1h-1zM31 5h1v1h-1zM52 10h1v1h-1zM33 20h1v1h-1zM33 21h1v1h-1zM30 22h1v1h-1zM35 22h1v1h-1zM32 23h1v1h-1zM38 23h1v1h-1zM34 25h6v1h-6zM26 26h1v1h-1zM40 26h2v1h-2zM26 27h2v1h-2zM42 27h1v1h-1zM26 28h1v1h-1zM42 28h1v1h-1zM24 29h1v1h-1zM26 29h1v1h-1zM43 29h2v1h-2zM24 31h3v1h-3zM28 31h1v1h-1zM22 32h1v1h-1zM28 32h1v1h-1zM44 32h1v1h-1zM24 33h1v1h-1zM28 33h1v1h-1zM21 34h1v1h-1zM24 34h1v1h-1zM28 34h1v1h-1zM25 35h1v1h-1zM43 35h1v1h-1zM43 36h2v1h-2zM30 37h1v1h-1zM44 37h1v1h-1zM27 38h1v1h-1zM31 38h1v1h-1zM43 38h2v1h-2zM26 39h1v1h-1zM33 39h2v1h-2zM37 39h1v1h-1zM39 39h2v1h-2zM27 40h2v1h-2zM29 41h1v1h-1zM39 41h1v1h-1zM31 42h1v1h-1zM35 42h1v1h-1zM32 43h2v1h-2zM35 43h1v1h-1zM35 45h1v1h-1zM54 49h1v1h-1z" fill="#909393"/>
<path d="M51 9h1v1h-1zM34 20h3v1h-3zM27 26h1v1h-1zM32 26h2v1h-2zM38 26h2v1h-2zM30 27h1v1h-1zM41 27h1v1h-1zM25 29h1v1h-1zM25 30h1v1h-1zM44 31h1v1h-1zM24 32h1v1h-1zM22 33h1v1h-1zM25 33h1v1h-1zM44 33h1v1h-1zM20 34h1v1h-1zM25 34h1v1h-1zM29 35h1v1h-1zM25 36h2v1h-2zM42 37h2v1h-2zM26 38h1v1h-1zM33 38h1v1h-1zM27 39h1v1h-1zM36 39h1v1h-1zM38 39h1v1h-1zM36 42h1v1h-1zM39 42h1v1h-1zM28 49h1v1h-1zM46 66h1v1h-1zM46 67h1v1h-1z" fill="#878989"/>
<path d="M33 6h1v1h-1zM35 21h1v1h-1zM31 27h1v1h-1zM30 28h1v1h-1zM29 29h1v1h-1zM43 33h1v1h-1zM43 34h1v1h-1zM42 36h1v1h-1zM26 37h1v1h-1zM41 37h1v1h-1zM6 38h1v1h-1zM32 38h1v1h-1zM39 38h2v1h-2zM35 39h1v1h-1zM7 40h1v1h-1zM39 43h1v1h-1zM35 44h1v1h-1zM39 44h1v1h-1zM29 49h1v1h-1z" fill="#7d7f7f"/>
<path d="M34 21h1v1h-1zM34 26h2v1h-2zM37 26h1v1h-1zM32 27h1v1h-1zM40 27h1v1h-1zM41 28h1v1h-1zM42 29h1v1h-1zM29 30h1v1h-1zM43 30h1v1h-1zM43 32h1v1h-1zM25 37h1v1h-1zM31 37h1v1h-1zM40 37h1v1h-1zM25 38h1v1h-1zM38 42h1v1h-1zM54 50h1v1h-1zM1 54h1v1h-1zM61 63h1v1h-1z" fill="#737575"/>
<path d="M36 26h1v1h-1zM39 27h1v1h-1zM38 29h1v1h-1zM42 30h1v1h-1zM29 31h1v1h-1zM43 31h1v1h-1zM40 33h1v1h-1zM42 33h1v1h-1zM42 35h1v1h-1zM41 36h1v1h-1zM32 37h1v1h-1zM34 38h1v1h-1zM38 38h1v1h-1zM7 39h1v1h-1zM37 42h1v1h-1z" fill="#696c6c"/>
<path d="M31 28h1v1h-1zM30 29h1v1h-1zM37 29h1v1h-1zM41 29h1v1h-1zM32 32h1v1h-1zM40 32h1v1h-1zM29 33h1v1h-1zM29 34h1v1h-1zM42 34h1v1h-1zM30 36h1v1h-1zM40 36h1v1h-1zM28 50h1v1h-1z" fill="#606262"/>
<path d="M52 9h1v1h-1zM37 27h1v1h-1zM37 28h1v1h-1zM30 30h1v1h-1zM33 30h1v1h-1zM38 30h3v1h-3zM32 31h1v1h-1zM40 31h3v1h-3zM31 32h1v1h-1zM41 32h2v1h-2zM31 33h1v1h-1zM39 33h1v1h-1zM41 33h1v1h-1zM30 34h1v1h-1zM40 34h1v1h-1zM40 35h1v1h-1zM31 36h1v1h-1zM33 37h1v1h-1zM36 38h1v1h-1zM5 40h1v1h-1zM36 45h1v1h-1z" fill="#565858"/>
<path d="M32 3h1v1h-1zM36 27h1v1h-1zM38 27h1v1h-1zM36 28h1v1h-1zM38 28h3v1h-3zM33 29h1v1h-1zM36 29h1v1h-1zM39 29h1v1h-1zM32 30h1v1h-1zM41 30h1v1h-1zM30 31h2v1h-2zM33 31h1v1h-1zM38 31h2v1h-2zM29 32h1v1h-1zM39 32h1v1h-1zM30 33h1v1h-1zM32 33h1v1h-1zM31 34h1v1h-1zM39 34h1v1h-1zM41 34h1v1h-1zM30 35h1v1h-1zM32 35h1v1h-1zM39 35h1v1h-1zM41 35h1v1h-1zM39 37h1v1h-1zM35 38h1v1h-1zM37 38h1v1h-1zM38 45h1v1h-1zM29 50h1v1h-1z" fill="#4c4e4e"/>
<path d="M33 27h3v1h-3zM32 28h1v1h-1zM35 28h1v1h-1zM35 29h1v1h-1zM40 29h1v1h-1zM30 32h1v1h-1zM33 32h1v1h-1zM38 32h1v1h-1zM32 34h2v1h-2zM31 35h1v1h-1zM33 35h1v1h-1zM32 36h2v1h-2zM39 36h1v1h-1zM38 37h1v1h-1zM5 39h1v1h-1zM61 64h1v1h-1z" fill="#424444"/>
<path d="M34 3h1v1h-1zM33 28h2v1h-2zM31 29h2v1h-2zM34 29h1v1h-1zM31 30h1v1h-1zM36 30h2v1h-2zM34 36h1v1h-1z" fill="#383a3a"/>
<path d="M34 30h2v1h-2zM20 32h1v1h-1zM33 33h1v1h-1zM38 36h1v1h-1zM34 37h1v1h-1z" fill="#2f3030"/>
<path d="M32 5h1v1h-1zM34 5h1v1h-1zM34 31h1v1h-1zM37 31h1v1h-1zM21 32h1v1h-1zM37 37h1v1h-1z" fill="#252626"/>
<path d="M38 33h1v1h-1zM38 35h1v1h-1zM35 37h1v1h-1zM6 40h1v1h-1zM38 43h1v1h-1z" fill="#1b1c1c"/>
<path d="M33 3h1v1h-1zM36 31h1v1h-1zM20 33h1v1h-1zM38 34h1v1h-1zM34 35h1v1h-1zM35 36h1v1h-1zM37 36h1v1h-1zM37 45h1v1h-1z" fill="#111313"/>
<path d="M32 4h3v1h-3zM33 5h1v1h-1zM35 31h1v1h-1zM34 32h4v1h-4zM21 33h1v1h-1zM34 33h4v1h-4zM34 34h4v1h-4zM35 35h3v1h-3zM36 36h1v1h-1zM36 37h1v1h-1zM6 39h1v1h-1zM36 43h2v1h-2zM36 44h3v1h-3z" fill="#080909"/>
</g></g>
<line x1="466.3" y1="797.8" x2="499.5" y2="766.1" stroke="#ff2a2a" stroke-width="3.2" />
<line x1="582.6" y1="766.1" x2="615.8" y2="798.7" stroke="#ff2a2a" stroke-width="3.2" />
<path d="M290 974v-10.5M290 474v10.5M415 974v-10.5M415 474v10.5M540 974v-10.5M540 474v10.5M665 974v-10.5M665 474v10.5M790 974v-10.5M790 474v10.5" stroke="#000" stroke-width="4" fill="none"/>
<path d="M290 974v-5.5M290 474v5.5M315 974v-5.5M315 474v5.5M340 974v-5.5M340 474v5.5M365 974v-5.5M365 474v5.5M390 974v-5.5M390 474v5.5M415 974v-5.5M415 474v5.5M440 974v-5.5M440 474v5.5M465 974v-5.5M465 474v5.5M490 974v-5.5M490 474v5.5M515 974v-5.5M515 474v5.5M540 974v-5.5M540 474v5.5M565 974v-5.5M565 474v5.5M590 974v-5.5M590 474v5.5M615 974v-5.5M615 474v5.5M640 974v-5.5M640 474v5.5M665 974v-5.5M665 474v5.5M690 974v-5.5M690 474v5.5M715 974v-5.5M715 474v5.5M740 974v-5.5M740 474v5.5M765 974v-5.5M765 474v5.5M790 974v-5.5M790 474v5.5" stroke="#000" stroke-width="4" fill="none"/>
<path d="M290.2 974h10.5M789.8 974h-10.5M290.2 849h10.5M789.8 849h-10.5M290.2 724h10.5M789.8 724h-10.5M290.2 599h10.5M789.8 599h-10.5M290.2 474h10.5M789.8 474h-10.5" stroke="#000" stroke-width="4" fill="none"/>
<path d="M290.2 974h5.5M789.8 974h-5.5M290.2 949h5.5M789.8 949h-5.5M290.2 924h5.5M789.8 924h-5.5M290.2 899h5.5M789.8 899h-5.5M290.2 874h5.5M789.8 874h-5.5M290.2 849h5.5M789.8 849h-5.5M290.2 824h5.5M789.8 824h-5.5M290.2 799h5.5M789.8 799h-5.5M290.2 774h5.5M789.8 774h-5.5M290.2 749h5.5M789.8 749h-5.5M290.2 724h5.5M789.8 724h-5.5M290.2 699h5.5M789.8 699h-5.5M290.2 674h5.5M789.8 674h-5.5M290.2 649h5.5M789.8 649h-5.5M290.2 624h5.5M789.8 624h-5.5M290.2 599h5.5M789.8 599h-5.5M290.2 574h5.5M789.8 574h-5.5M290.2 549h5.5M789.8 549h-5.5M290.2 524h5.5M789.8 524h-5.5M290.2 499h5.5M789.8 499h-5.5M290.2 474h5.5M789.8 474h-5.5" stroke="#000" stroke-width="4" fill="none"/>
<rect x="290.2" y="474" width="499.6" height="500" fill="none" stroke="#000" stroke-width="4.2" stroke-linejoin="round"/>
<path d="M1031 874.1L1032.9 881.4L1034.7 878.2L1036.6 857.5L1038.5 883.4L1040.3 857.3L1042.2 874.1L1044.1 879.6L1046 883.1L1047.8 877.4L1049.7 895.4L1051.6 891.5L1053.4 911L1055.3 911.9L1057.2 921L1059.1 891.3L1060.9 883.8L1062.8 878.4L1064.7 856.8L1066.6 844.5L1068.4 842.4L1070.3 857.1L1072.2 882.7L1074 886.5L1075.9 893.3L1077.8 896.2L1079.7 875.6L1081.5 880.6L1083.4 880.4L1085.3 874.4L1087.1 873.1L1089 864.5L1090.9 865.4L1092.8 861.7L1094.6 840.6L1096.5 840.5L1098.4 832.3L1100.2 853.7L1102.1 854.1L1104 838.8L1105.9 832L1107.7 820.6L1109.6 834.7L1111.5 834.2L1113.4 841.1L1115.2 841.8L1117.1 846.1L1119 823.4L1120.8 822.3L1122.7 839.5L1124.6 835.8L1126.5 858.7L1128.3 853.7L1130.2 839.9L1132.1 855.6L1133.9 881.1L1135.8 845.1L1137.7 864.7L1139.6 859.7L1141.4 847.2L1143.3 869.4L1145.2 838.8L1147 834.5L1148.9 833L1150.8 824.4L1152.7 814.6L1154.5 832.9L1156.4 827.4L1158.3 824.8L1160.2 840.9L1162 818.3L1163.9 824.9L1165.8 828.5L1167.6 837.7L1169.5 849.7L1171.4 862.8L1173.3 823.4L1175.1 841.8L1177 840L1178.9 838.7L1180.7 840.9L1182.6 831.7L1184.5 829.9L1186.4 847.6L1188.2 843L1190.1 850.3L1192 849.6L1193.8 852L1195.7 843.4L1197.6 850.5L1199.5 857L1201.3 851.8L1203.2 821.8L1205.1 850L1207 832.2L1208.8 841.3L1210.7 847.1L1212.6 844.1L1214.4 848.1L1216.3 840.7L1218.2 861.1L1220.1 844.1L1221.9 853.4L1223.8 842.5L1225.7 840.1L1227.5 845.1L1229.4 856.6L1231.3 832.9L1233.2 840.5L1235 821.5L1236.9 828.3L1238.8 818.6L1240.6 850.7L1242.5 837.5L1244.4 843L1246.3 824.5L1248.1 835L1250 840.7L1251.9 823.5L1253.8 832.9L1255.6 856L1257.5 828.7L1259.4 817.3L1261.2 844.2L1263.1 840.4L1265 830.9L1266.9 828.4L1268.7 820.7L1270.6 820.4L1272.5 842.8L1274.3 832.4L1276.2 860.8L1278.1 833.1L1280 852.5L1281.8 851L1283.7 851L1285.6 857.5L1287.4 867.2L1289.3 871.6L1291.2 842.8L1293.1 827.8L1294.9 797L1296.8 802.3L1298.7 799L1300.6 812.4L1302.4 805.8L1304.3 795.7L1306.2 786L1308 785L1309.9 772.6L1311.8 795.6L1313.7 762L1315.5 783.2L1317.4 775.2L1319.3 760.2L1321.1 779.4L1323 776.3L1324.9 762.5L1326.8 764.3L1328.6 767.4L1330.5 787.7L1332.4 816.3L1334.2 799.7L1336.1 814L1338 827.7L1339.9 822.9L1341.7 831.8L1343.6 825.7L1345.5 830.1L1347.4 808.5L1349.2 821.5L1351.1 814.6L1353 826.6L1354.8 818.2L1356.7 807.3L1358.6 799.5L1360.5 801.7L1362.3 806.4L1364.2 801L1366.1 797.7L1367.9 797.5L1369.8 808L1371.7 793.2L1373.6 779.9L1375.4 795.9L1377.3 797.8L1379.2 803.5L1381 790.8L1382.9 811.5L1384.8 803.4L1386.7 803.4L1388.5 813.4L1390.4 788.9L1392.3 782.1L1394.2 791.5L1396 802.8L1397.9 775.4L1399.8 783.3L1401.6 772.8L1403.5 777.6L1405.4 774L1407.3 773.9L1409.1 780.6L1411 764.8L1412.9 776.2L1414.7 754.1L1416.6 771.4L1418.5 779.2L1420.4 787.7L1422.2 782L1424.1 782.9L1426 802.3L1427.8 787.6L1429.7 799.7L1431.6 782.4L1433.5 780.3L1435.3 760L1437.2 775.2L1439.1 795.6L1441 797.4L1442.8 776.2L1444.7 786.8L1446.6 774.3L1448.4 783.3L1450.3 765.1L1452.2 777.9L1454.1 773.4L1455.9 766.7L1457.8 773.9L1459.7 795.7L1461.5 766.8L1463.4 763.3L1465.3 763.4L1467.2 762.5L1469 765.2L1470.9 758.9L1472.8 747.4L1474.6 761.1L1476.5 742L1478.4 761.1L1480.3 772.2L1482.1 759.1L1484 744.4L1485.9 765.8L1487.8 756.1L1489.6 757.8L1491.5 760.9L1493.4 772.7L1495.2 767.5L1497.1 780.4L1499 791.6L1500.9 774.4L1502.7 785.4L1504.6 788.9L1506.5 762.3L1508.3 773.8L1510.2 761L1512.1 773.6L1514 779.4L1515.8 787.3L1517.7 787.6L1519.6 786.3L1521.4 769.3L1523.3 778.3L1525.2 780L1527.1 786.3L1528.9 760.1L1530.8 793.6L1532.7 774.3L1534.6 737.7L1536.4 777L1538.3 782.4L1540.2 781.4L1542 775.1L1543.9 766.2L1545.8 764L1547.7 759.9L1549.5 766.5L1551.4 760.3L1553.3 782.9L1555.1 783.5L1557 774.9L1558.9 768.3L1560.8 759.4L1562.6 771.8L1564.5 753.8L1566.4 753.1L1568.2 781.3L1570.1 766.2L1572 779.5L1573.9 771.1L1575.7 766.2L1577.6 752.5L1579.5 749.5L1581.4 754.4L1583.2 759.4L1585.1 768.2L1587 772.1L1588.8 780.4L1590.7 778.5L1592.6 779L1594.5 756.3L1596.3 771.7L1598.2 759.5L1600.1 760.9L1601.9 760.4L1603.8 763.4L1605.7 746.9L1607.6 750.5L1609.4 758.4L1611.3 760.9L1613.2 751.8L1615 739.2L1616.9 729L1618.8 723.8L1620.7 714.6L1622.5 723L1624.4 714.2L1626.3 721.7L1628.2 730.4L1630 717L1631.9 716.2L1633.8 716.6L1635.6 709.3L1637.5 698.5L1639.4 717.1L1641.3 716.9L1643.1 744.5L1645 732.4L1646.9 747.8L1648.7 735.4L1650.6 752.9L1652.5 748.2L1654.4 732.6L1656.2 726.7L1658.1 731.8L1660 740.3L1661.8 740.5L1663.7 735.1L1665.6 748.8L1667.5 762.1L1669.3 764L1671.2 751.1L1673.1 746.9L1675 744.9L1676.8 733.4L1678.7 733.1L1680.6 757.4L1682.4 771.9L1684.3 753.4L1686.2 748.5L1688.1 750.2L1689.9 749.2L1691.8 726L1693.7 718L1695.5 717.1L1697.4 736.4L1699.3 743.1L1701.2 747.6L1703 758.5L1704.9 761.5L1706.8 751L1708.6 778.8L1710.5 777.6L1712.4 785.6L1714.3 773.7L1716.1 771.4L1718 760.7L1719.9 744.9L1721.8 727.2L1723.6 666.2L1725.5 586.8L1727.4 658.7L1729.2 721.1L1731.1 769.1L1733 768.4L1734.9 773.2L1736.7 766.9L1738.6 762.4L1740.5 777.9L1742.3 786.6L1744.2 779.1L1746.1 786.5L1748 783.5L1749.8 770.3L1751.7 763.1L1753.6 761.6L1755.4 762.1L1757.3 764.5L1759.2 755.2L1761.1 751.8L1762.9 766.7L1764.8 763.3L1766.7 776.7L1768.6 783.8L1770.4 793.3L1772.3 782.8L1774.2 786.7L1776 784.8L1777.9 795.6L1779.8 792.8L1781.7 796.4L1783.5 803.7L1785.4 796.9L1787.3 792.3L1789.1 785.8L1791 789.3L1792.9 784.4L1794.8 794L1796.6 782.9L1798.5 783.4L1800.4 786.6L1802.2 790.7L1804.1 797.9L1806 784.3L1807.9 792.1L1809.7 792.2L1811.6 777L1813.5 784.2L1815.4 768.6L1817.2 785.3L1819.1 787.4L1821 785L1822.8 798.6L1824.7 804.2L1826.6 818.1L1828.5 820.3L1830.3 814.1L1832.2 802.3L1834.1 797.3L1835.9 802.7L1837.8 792.6L1839.7 789L1841.6 796.4L1843.4 787.2L1845.3 777.9L1847.2 785.8L1849 787.8L1850.9 793.4L1852.8 788.6L1854.7 792.9L1856.5 791L1858.4 798L1860.3 776.4L1862.2 788.4L1864 785L1865.9 775.8L1867.8 772.6L1869.6 756.2L1871.5 763.1L1873.4 764.4L1875.3 762.9L1877.1 778.4L1879 781.1L1880.9 774.3L1882.7 766.5L1884.6 780.8L1886.5 794.6L1888.4 799L1890.2 790.8L1892.1 784.1L1894 782.8L1895.8 764.4L1897.7 770.6L1899.6 761.9L1901.5 757.4L1903.3 753L1905.2 755.5L1907.1 741L1909 747.6L1910.8 765.8L1912.7 736L1914.6 742.2L1916.4 751.5L1918.3 760L1920.2 762.9L1922.1 775.1L1923.9 757.5L1925.8 775.6L1927.7 787.1L1929.5 786.2L1931.4 774.4L1933.3 757L1935.2 756.2L1937 751.6L1938.9 751.4L1940.8 757.2L1942.6 758.8L1944.5 770L1946.4 770.4L1948.3 774.2L1950.1 776.4L1952 779.4L1953.9 770.1L1955.8 767.5L1957.6 761.5L1959.5 754L1961.4 773.8L1963.2 783.1L1965.1 770.3L1967 768.7L1968.9 779.8L1970.7 784.3L1972.6 779.8L1974.5 769.9L1976.3 792.1L1978.2 779.9L1980.1 777.4L1982 778.6L1983.8 775.4L1985.7 755L1987.6 767.1L1989.4 760.8L1991.3 778L1993.2 773.4L1995.1 776L1996.9 767.7L1998.8 779L2000.7 759.4L2002.6 776.9L2004.4 776.3L2006.3 777.7L2008.2 781.5L2010 768.9L2011.9 773.3L2013.8 768.9L2015.7 777.9L2017.5 791L2019.4 775.3L2021.3 773.8L2023.1 774.2L2025 768.9L2026.9 768.4L2028.8 768.7L2030.6 779.4L2032.5 785.3L2034.4 788.5L2036.2 775.6L2038.1 774.1L2040 778.2L2041.9 781.8L2043.7 775L2045.6 776.3L2047.5 770.6L2049.4 770.4L2051.2 771.7L2053.1 769L2055 773.9L2056.8 772.8L2058.7 762.3L2060.6 770.6L2062.5 772.6L2064.3 776.2L2066.2 780.8L2068.1 770.1L2069.9 778.6L2071.8 777.4L2073.7 791L2075.6 785L2077.4 783.4L2079.3 786.5L2081.2 785.5L2083 789L2084.9 796.4L2086.8 787.7L2088.7 787.7L2090.5 785.3L2092.4 781.4L2094.3 786.2L2096.2 783.8L2098 782.2L2099.9 773.7L2101.8 782.4L2103.6 786.5L2105.5 782.4L2107.4 785L2109.3 783.3L2111.1 781.3L2113 781.4L2114.9 773.6L2116.7 775L2118.6 785.9L2120.5 776.2L2122.4 776L2124.2 778.4L2126.1 771.7L2128 778.7L2129.8 779.5L2131.7 773L2133.6 774.1L2135.5 770.3L2137.3 763.1L2139.2 771.3L2141.1 769L2143 769.2L2144.8 773.4L2146.7 769.9L2148.6 768.3L2150.4 772.5L2152.3 777.1L2154.2 772.9L2156.1 770.3L2157.9 772.6L2159.8 770L2161.7 763L2163.5 771L2165.4 769.1L2167.3 767.2L2169.2 755.8L2171 762.9L2172.9 774.9L2174.8 764.2L2176.6 766.1L2178.5 766L2180.4 775.5L2182.3 775.7L2184.1 767.3L2186 769.9L2187.9 766.1L2189.8 773.5L2191.6 782.3L2193.5 777.1L2195.4 778.4L2197.2 777L2199.1 781.1L2201 783.7L2202.9 780.4L2204.7 782.1L2206.6 785.7L2208.5 786.4L2210.3 784.7L2212.2 779.3L2214.1 784.1L2216 775.2L2217.8 773.1L2219.7 771.6L2221.6 769.8L2223.4 774.4L2225.3 771.7L2227.2 773.4L2229.1 772.8L2230.9 780.2L2232.8 766.3L2234.7 763.4L2236.6 773.6L2238.4 773.5L2240.3 765.3L2242.2 767.4L2244 774.7L2245.9 766.7L2247.8 770L2249.7 765.5L2251.5 770.2L2253.4 769.8L2255.3 775.3L2257.1 769.1L2259 775.2L2260.9 774.3L2262.8 769.4L2264.6 777.3L2266.5 770.5L2268.4 782.7L2270.2 781.4L2272.1 783.5L2274 788.9L2275.9 797.9L2277.7 803.9L2279.6 793.3L2281.5 798.6L2283.4 787.1L2285.2 783.2L2287.1 784L2289 776.2L2290.8 781.7L2292.7 785.8L2294.6 782.2L2296.5 780.7L2298.3 784.8L2300.2 783.3L2302.1 784.5L2303.9 772.7L2305.8 774.5L2307.7 773.3L2309.6 778.5L2311.4 785.6L2313.3 776.7L2315.2 772.2L2317 776.1L2318.9 776.1L2320.8 782L2322.7 777.8L2324.5 782L2326.4 780.9L2328.3 779.5L2330.2 773.7L2332 784.3L2333.9 787.2L2335.8 786.7L2337.6 780.2L2339.5 791.1L2341.4 792L2343.3 791.4L2345.1 795L2347 785.3L2348.9 794.3L2350.7 791.9L2352.6 791.6L2354.5 787.7L2356.4 789.6L2358.2 786.1L2360.1 789.7L2362 786.9L2363.8 787.2L2365.7 780.3L2367.6 785.9L2369.5 780.6L2371.3 780.3L2373.2 789.1L2375.1 778.6L2377 784.1L2378.8 783.2L2380.7 785L2382.6 781.1L2384.4 786.9L2386.3 790.8L2388.2 777.9L2390.1 787.4L2391.9 785.9L2393.8 786.6L2395.7 796.5L2397.5 786.5L2399.4 796L2401.3 789.6L2403.2 795.8L2405 800.4L2406.9 806.1L2408.8 805.8L2410.6 798.7L2412.5 786.9L2414.4 788.3L2416.3 791.2L2418.1 782.2L2420 784.6L2421.9 774.2L2423.8 775.9L2425.6 779.4L2427.5 781.1L2429.4 787.5L2431.2 793.9L2433.1 793.4L2435 799.6L2436.9 797.9L2438.7 794L2440.6 807.5L2442.5 799.6L2444.3 800.4L2446.2 797.2L2448.1 802.6L2450 799.3L2451.8 795.6L2453.7 794.8L2455.6 793.2L2457.4 803.9L2459.3 794.1L2461.2 787.7L2463.1 795.5L2464.9 792.3L2466.8 793.9L2468.7 796.1L2470.6 801.8L2472.4 800L2474.3 798.7L2476.2 789.9L2478 800.2L2479.9 801.1L2481.8 809.9L2483.7 802.4L2485.5 801.7L2487.4 805.6L2489.3 801.3L2491.1 799.3L2493 808.6L2494.9 808.8L2496.8 806.9L2498.6 805.4L2500.5 798.4L2502.4 811.2L2504.2 805L2506.1 807.1L2508 799.1L2509.9 797.9L2511.7 793.6L2513.6 791.9L2515.5 796.1L2517.4 792.3L2519.2 793.9L2521.1 795.5L2523 788.9L2524.8 790.7L2526.7 789.4L2528.6 786.3L2530.5 784.4L2532.3 796.7L2534.2 788.8L2536.1 789.5L2537.9 799.8L2539.8 799.7L2541.7 793.3L2543.6 795.5L2545.4 798.9L2547.3 800.3L2549.2 804.3L2551 791.8L2552.9 798.5L2554.8 794.1L2556.7 796L2558.5 801.6L2560.4 801.4L2562.3 799.7L2564.2 803.4L2566 798.5L2567.9 807L2569.8 795.3L2571.6 795.2L2573.5 796.6L2575.4 797.3L2577.3 789.1L2579.1 791L2581 778.2L2582.9 785.8L2584.7 796.8L2586.6 798.8L2588.5 798.1L2590.4 791.8L2592.2 800.9L2594.1 798.5L2596 801.3L2597.8 802.8L2599.7 803.6L2601.6 801.3L2603.5 791.7L2605.3 795.1L2607.2 797.2L2609.1 793.3L2611 796.4L2612.8 795.4L2614.7 801.2L2616.6 797.9L2618.4 792.5L2620.3 790.4L2622.2 798.5L2624.1 792L2625.9 790.9L2627.8 793L2629.7 792.1L2631.5 788.2L2633.4 789.7L2635.3 789.2L2637.2 791L2639 790.5L2640.9 792.2L2642.8 791.4L2644.6 789.2L2646.5 792.6L2648.4 794.8L2650.3 795.6L2652.1 797.9L2654 795.9L2655.9 792L2657.8 788.9L2659.6 786.4L2661.5 781.4L2663.4 776L2665.2 770.6L2667.1 765.2L2669 758.6L2670.9 750.6L2672.7 741.4L2674.6 731.7L2676.5 722.2L2678.3 711.9L2680.2 698.1L2682.1 685.9L2684 670.7L2685.8 658.3L2687.7 649.3L2689.6 646.9L2691.4 643.1L2693.3 633.2L2695.2 617.4L2697.1 612.3L2698.9 624.6L2700.8 637.2L2702.7 646.3L2704.6 652.6L2706.4 631L2708.3 614.3L2710.2 645.9L2712 674.1L2713.9 697.9L2715.8 714.6L2717.7 729.4L2719.5 743.9L2721.4 751.5L2723.3 754.6L2725.1 757.7L2727 762.6L2728.9 765.5L2730.8 768.2L2732.6 770.1L2734.5 778.3L2736.4 778.8L2738.2 778.3L2740.1 780.4L2742 780.7L2743.9 783.9L2745.7 783.9L2747.6 792.8L2749.5 795.5L2751.4 791.2L2753.2 792.5L2755.1 793.8L2757 800.6L2758.8 806.6L2760.7 808.6L2762.6 826.3L2764.5 833.6L2766.3 846.2L2768.2 863.6L2770.1 846.8L2771.9 838.8L2773.8 836.9L2775.7 831.8L2777.6 833.2L2779.4 838.5L2781.3 834.2L2783.2 822.5L2785 823L2786.9 826.1L2788.8 820.8L2790.7 822.4L2792.5 815.4L2794.4 819.1L2796.3 818.3L2798.2 817.4L2800 819L2801.9 824L2803.8 830L2805.6 830.2L2807.5 826.2L2809.4 825.6L2811.3 827.6L2813.1 832.4L2815 823.2L2816.9 821.5L2818.7 826.9L2820.6 818.2L2822.5 827L2824.4 823.5L2826.2 817.7L2828.1 823.2L2830 830.3L2831.8 822.5L2833.7 830.7L2835.6 831.1L2837.5 837.4L2839.3 835.7L2841.2 830.1L2843.1 836.5L2845 832L2846.8 841.7L2848.7 840.3L2850.6 840.8L2852.4 830.2L2854.3 837.8L2856.2 826.8L2858.1 830.4L2859.9 833.7L2861.8 836.9L2863.7 839.3L2865.5 834.7L2867.4 836L2869.3 837.4L2871.2 837.5L2873 834.2L2874.9 836.4L2876.8 836.2L2878.6 839.3L2880.5 831.8L2882.4 840.6L2884.3 833.8L2886.1 836.5L2888 830.1L2889.9 841.4L2891.8 839.8L2893.6 838.4L2895.5 845.6L2897.4 834.7L2899.2 834.5L2901.1 843.2L2903 832.4L2904.9 836.1L2906.7 836.6L2908.6 836.6L2910.5 845.8L2912.3 834.8L2914.2 845.3L2916.1 840.6L2918 839.4L2919.8 840.3L2921.7 844.7L2923.6 840.3L2925.4 842.1L2927.3 836.6L2929.2 835.9L2931.1 842.2L2932.9 836.5L2934.8 842.5L2936.7 846.8L2938.6 838.1L2940.4 847.3L2942.3 851.3L2944.2 856.5L2946 851.7L2947.9 847L2949.8 856.3L2951.7 853.5L2953.5 862.2L2955.4 859.7L2957.3 852.8L2959.1 856.3L2961 862.8L2962.9 856.6L2964.8 871.2L2966.6 852.8L2968.5 863.6L2970.4 851.1L2972.2 863L2974.1 855.4L2976 851.8L2977.9 852.2L2979.7 853.9L2981.6 856.3L2983.5 860.9L2985.4 856.5L2987.2 857.1L2989.1 858.4L2991 850.3L2992.8 860.8L2994.7 861.7L2996.6 863L2998.5 855.9L3000.3 857.2L3002.2 871L3004.1 863.4L3005.9 874.2L3007.8 865.9L3009.7 875.4L3011.6 868.1L3013.4 855.7L3015.3 859L3017.2 863.2L3019 866L3020.9 868.1L3022.8 868L3024.7 874.5L3026.5 863.1L3028.4 870.7L3030.3 868.2L3032.2 868.1L3034 863.6L3035.9 863L3037.8 865.5L3039.6 862.3L3041.5 864.4L3043.4 868L3045.3 868.4L3047.1 865.9L3049 866L3050.9 861.8L3052.7 855.7L3054.6 865.5L3056.5 869.6L3058.4 882.4" fill="none" stroke="#0a0a0a" stroke-width="5" stroke-linejoin="miter" stroke-miterlimit="3"/>
<path d="M1990.7 731V875.1" stroke="#0a0a0a" stroke-width="5" fill="none"/>
<path d="M1031.6 878.7L1032.9 874.2L1034.1 864.8L1035.4 856.6L1036.6 855.8L1037.8 858.6L1039.1 857.2L1040.3 851.2L1041.6 844.4L1042.8 841.3L1044.1 845.2L1045.3 853.6L1046.6 861.1L1047.8 862.2L1049.1 857.9L1050.3 859L1051.6 869.4L1052.8 882.4L1054.1 896L1055.3 911.5L1056.6 924L1057.8 923.4L1059.1 911.2L1060.3 896.3L1061.6 884L1062.8 879.1L1064.1 876.1L1065.3 869.3L1066.6 862L1067.8 857L1069 857.1L1070.3 856.1L1071.5 851.4L1072.8 848.5L1074 855.2L1075.3 868.9L1076.5 880.6L1077.8 887.8L1079 889.5L1080.3 883.8L1081.5 872.6L1082.8 863.1L1084 860.1L1085.3 857.2L1086.5 852.8L1087.8 846.8L1089 840.4L1090.3 836.1L1091.5 835.2L1092.8 837.5L1094 841.7L1095.3 842.7L1096.5 834.7L1097.8 821.9L1099 813.9L1100.2 813.8L1101.5 816L1102.7 817.1L1104 818L1105.2 819.4L1106.5 819.5L1107.7 815.9L1109 810L1110.2 806.7L1111.5 806.3L1112.7 806L1114 805.3L1115.2 804.8L1116.5 804.4L1117.7 803.8L1119 804L1120.2 805.2L1121.5 806.2L1122.7 806L1124 805.4L1125.2 806.4L1126.5 809.2L1127.7 812.3L1129 814.3L1130.2 818.4L1131.4 825.2L1132.7 829.3L1133.9 828L1135.2 824.9L1136.4 823.7L1137.7 824.5L1138.9 825L1140.2 825.3L1141.4 826.6L1142.7 829.4L1143.9 831.2L1145.2 831.7L1146.4 831.9L1147.7 832.3L1148.9 830L1150.2 824.9L1151.4 823.3L1152.7 827.2L1153.9 832.3L1155.2 836.2L1156.4 838.8L1157.7 842.2L1158.9 845.9L1160.2 845.9L1161.4 842.5L1162.6 839.4L1163.9 840.4L1165.1 843.1L1166.4 841.8L1167.6 835.3L1168.9 830L1170.1 827.8L1171.4 826.1L1172.6 823.3L1173.9 820.8L1175.1 818.2L1176.4 814.9L1177.6 812.1L1178.9 811.1L1180.1 811.1L1181.4 810.7L1182.6 808.3L1183.9 805.2L1185.1 804L1186.4 805.7L1187.6 808.7L1188.9 810.9L1190.1 812.5L1191.4 814.3L1192.6 815.7L1193.8 814.7L1195.1 811.8L1196.3 810.1L1197.6 813.4L1198.8 819.4L1200.1 822.9L1201.3 825.7L1202.6 830.3L1203.8 833L1205.1 831.1L1206.3 827L1207.6 824.4L1208.8 821.7L1210.1 817.1L1211.3 813.8L1212.6 813.9L1213.8 815.5L1215.1 815.9L1216.3 810L1217.6 800.4L1218.8 795.2L1220.1 799.4L1221.3 807.5L1222.6 811.3L1223.8 807.8L1225 802.4L1226.3 799.1L1227.5 798.5L1228.8 798.3L1230 798.4L1231.3 796.7L1232.5 793.3L1233.8 791.7L1235 795.1L1236.3 801L1237.5 804.3L1238.8 806.3L1240 809.6L1241.3 811.1L1242.5 810.1L1243.8 808.7L1245 807.6L1246.3 806.3L1247.5 804.8L1248.8 804.1L1250 804L1251.3 804L1252.5 804.5L1253.8 806.3L1255 808.9L1256.2 810.5L1257.5 812.5L1258.7 815.7L1260 817.8L1261.2 817L1262.5 815L1263.7 814.3L1265 815.3L1266.2 816.1L1267.5 816.5L1268.7 816.9L1270 817.6L1271.2 818.6L1272.5 820.3L1273.7 822.3L1275 823.7L1276.2 824.1L1277.5 824.1L1278.7 825.9L1280 827L1281.2 826.6L1282.5 827.2L1283.7 830.3L1285 835.7L1286.2 841L1287.4 840.7L1288.7 834.2L1289.9 823.7L1291.2 819.1L1292.4 821.2L1293.7 814.2L1294.9 804.4L1296.2 802.8L1297.4 802.9L1298.7 803.8L1299.9 805.3L1301.2 806.2L1302.4 805.2L1303.7 803.1L1304.9 801.9L1306.2 802L1307.4 802.1L1308.7 802.3L1309.9 802.6L1311.2 802.9L1312.4 803.1L1313.7 802.4L1314.9 800.4L1316.2 796.3L1317.4 792.9L1318.6 791L1319.9 789.3L1321.1 789.5L1322.4 786L1323.6 779.5L1324.9 774.1L1326.1 775.4L1327.4 782.3L1328.6 789L1329.9 790.2L1331.1 790L1332.4 793.9L1333.6 799.5L1334.9 805.4L1336.1 810.5L1337.4 814.7L1338.6 817.7L1339.9 816.4L1341.1 811.4L1342.4 808.2L1343.6 810.7L1344.9 815.9L1346.1 818.4L1347.4 819.4L1348.6 822.3L1349.8 823.7L1351.1 820L1352.3 813.4L1353.6 809.3L1354.8 808.5L1356.1 808L1357.3 807.3L1358.6 806.6L1359.8 806.3L1361.1 806.2L1362.3 804.5L1363.6 801.3L1364.8 799.4L1366.1 800.8L1367.3 803.8L1368.6 805.1L1369.8 804.6L1371.1 804.2L1372.3 803.7L1373.6 803.9L1374.8 805L1376.1 805.3L1377.3 800.6L1378.6 792.2L1379.8 787.7L1381 790.7L1382.3 796.2L1383.5 798.9L1384.8 796.8L1386 793.2L1387.3 790.9L1388.5 790.2L1389.8 789.5L1391 788.8L1392.3 791L1393.5 795.5L1394.8 797.8L1396 796.9L1397.3 795.6L1398.5 794.9L1399.8 794.4L1401 793.3L1402.3 792.1L1403.5 790.2L1404.8 787.4L1406 785.3L1407.3 784.5L1408.5 784.3L1409.8 783.7L1411 780L1412.2 774.1L1413.5 771L1414.7 771.8L1416 773.8L1417.2 775.5L1418.5 779.4L1419.7 785.8L1421 789.9L1422.2 791L1423.5 791.8L1424.7 792.5L1426 790.5L1427.2 785.7L1428.5 782.9L1429.7 782.4L1431 781.6L1432.2 780.8L1433.5 783.5L1434.7 789.1L1436 791.8L1437.2 790.8L1438.5 789.6L1439.7 788.8L1441 789.2L1442.2 790.4L1443.4 791L1444.7 789.8L1445.9 787.7L1447.2 786.3L1448.4 785.1L1449.7 783.3L1450.9 782.1L1452.2 782.8L1453.4 784.7L1454.7 785.4L1455.9 780.3L1457.2 771.3L1458.4 766.3L1459.7 769.1L1460.9 774.5L1462.2 777.5L1463.4 777L1464.7 776.1L1465.9 775.5L1467.2 775L1468.4 774.4L1469.7 773.8L1470.9 775.4L1472.2 778.8L1473.4 780.5L1474.6 778.7L1475.9 775.8L1477.1 774.1L1478.4 774.3L1479.6 775L1480.9 775.6L1482.1 773.1L1483.4 768.5L1484.6 766.5L1485.9 769.3L1487.1 773.5L1488.4 776.5L1489.6 780.7L1490.9 787.4L1492.1 791.5L1493.4 791.3L1494.6 789.7L1495.9 789.1L1497.1 788.9L1498.4 788L1499.6 787.5L1500.9 787L1502.1 785.8L1503.4 785.6L1504.6 787.3L1505.8 789.5L1507.1 791.2L1508.3 792.4L1509.6 793.7L1510.8 794.6L1512.1 795.7L1513.3 796.9L1514.6 797.3L1515.8 796.7L1517.1 795.6L1518.3 793.9L1519.6 791.7L1520.8 789.3L1522.1 787.1L1523.3 783.3L1524.6 778.2L1525.8 775.5L1527.1 776L1528.3 777.9L1529.6 780L1530.8 784.8L1532.1 792.1L1533.3 797L1534.6 799.8L1535.8 800.8L1537 802L1538.3 800L1539.5 795.7L1540.8 791.9L1542 788.2L1543.3 783.9L1544.5 780.6L1545.8 781.3L1547 785.1L1548.3 787.3L1549.5 784.2L1550.8 778.7L1552 775L1553.3 774.5L1554.5 774.8L1555.8 774.1L1557 771.8L1558.3 769.1L1559.5 767.1L1560.8 765.1L1562 762.7L1563.3 761.6L1564.5 760.8L1565.8 759.9L1567 761.2L1568.2 765L1569.5 769.3L1570.7 773.4L1572 780.2L1573.2 789.2L1574.5 794.7L1575.7 794.8L1577 792.6L1578.2 790.8L1579.5 787.5L1580.7 781.7L1582 777.9L1583.2 780.1L1584.5 785.5L1585.7 788L1587 784.6L1588.2 779.7L1589.5 777.2L1590.7 777.5L1592 778L1593.2 777.7L1594.5 774.9L1595.7 770.5L1597 767.5L1598.2 771.2L1599.4 779L1600.7 782.9L1601.9 777.2L1603.2 767.5L1604.4 762.4L1605.7 765.1L1606.9 769.6L1608.2 770.5L1609.4 766.6L1610.7 761.4L1611.9 757.2L1613.2 754.4L1614.4 752.2L1615.7 750.7L1616.9 749.9L1618.2 748.4L1619.4 745L1620.7 740.8L1621.9 736.2L1623.2 731.6L1624.4 726.4L1625.7 721.6L1626.9 719.8L1628.2 719L1629.4 717.9L1630.6 715.4L1631.9 711.5L1633.1 707.6L1634.4 704.6L1635.6 705L1636.9 708.7L1638.1 712.6L1639.4 714L1640.6 714.2L1641.9 715.1L1643.1 718.1L1644.4 723L1645.6 728.4L1646.9 730.1L1648.1 728.7L1649.4 727.6L1650.6 730.2L1651.9 736.1L1653.1 742.3L1654.4 746.8L1655.6 749.9L1656.9 751.9L1658.1 752.5L1659.4 753.8L1660.6 755.6L1661.8 760.1L1663.1 766.7L1664.3 770.4L1665.6 769.9L1666.8 772L1668.1 777.9L1669.3 786.4L1670.6 794L1671.8 797.3L1673.1 794.4L1674.3 788.7L1675.6 785.3L1676.8 785.7L1678.1 787.4L1679.3 786.9L1680.6 784L1681.8 780.8L1683.1 776.8L1684.3 773L1685.6 771.6L1686.8 769.7L1688.1 764.5L1689.3 758L1690.6 752.8L1691.8 753.3L1693 753.4L1694.3 745.9L1695.5 734.2L1696.8 726.6L1698 732.5L1699.3 746.3L1700.5 757.8L1701.8 762.6L1703 768.4L1704.3 780.8L1705.5 792.5L1706.8 798.3L1708 797.3L1709.3 794.8L1710.5 791.8L1711.8 787.9L1713 784.1L1714.3 781.5L1715.5 780.3L1716.8 780L1718 772L1719.3 754.4L1720.5 737L1721.8 730.7L1723 712.7L1724.2 668.3L1725.5 621L1726.7 597.5L1728 634L1729.2 703.6L1730.5 740.3L1731.7 753L1733 777.6L1734.2 790.7L1735.5 791.2L1736.7 795.1L1738 801.8L1739.2 806.2L1740.5 803.9L1741.7 797.7L1743 793.4L1744.2 793.8L1745.5 795.4L1746.7 794.7L1748 789.9L1749.2 784.1L1750.5 780.9L1751.7 781L1753 782.3L1754.2 784.4L1755.4 788.5L1756.7 794.3L1757.9 798.3L1759.2 799.5L1760.4 799.3L1761.7 798.6L1762.9 796.8L1764.2 793.7L1765.4 791.2L1766.7 791.3L1767.9 793.1L1769.2 793.4L1770.4 792.1L1771.7 791.2L1772.9 790.9L1774.2 788.8L1775.4 785.2L1776.7 784.1L1777.9 787.8L1779.2 793.5L1780.4 797.3L1781.7 799.3L1782.9 801.5L1784.2 802.9L1785.4 803.1L1786.6 803L1787.9 802.8L1789.1 801.4L1790.4 798.9L1791.6 797.4L1792.9 796.6L1794.1 795.4L1795.4 794.7L1796.6 792.8L1797.9 789.4L1799.1 787.6L1800.4 788.2L1801.6 789.4L1802.9 790.2L1804.1 792.2L1805.4 795.7L1806.6 797.7L1807.9 798.6L1809.1 800L1810.4 800.7L1811.6 801.6L1812.9 803L1814.1 803.9L1815.4 803.2L1816.6 801.8L1817.8 802.6L1819.1 806.5L1820.3 811L1821.6 814L1822.8 814.4L1824.1 815L1825.3 816.9L1826.6 820.2L1827.8 823.4L1829.1 822.7L1830.3 818.3L1831.6 812.7L1832.8 806.9L1834.1 800.5L1835.3 795.3L1836.6 793.7L1837.8 794.1L1839.1 794.6L1840.3 795.4L1841.6 798L1842.8 802.1L1844.1 804.6L1845.3 804.7L1846.6 804.1L1847.8 803.7L1849 802.5L1850.3 800.1L1851.5 797.8L1852.8 797.2L1854 797.3L1855.3 796.6L1856.5 795.1L1857.8 794.3L1859 793.6L1860.3 791.9L1861.5 789.8L1862.8 789.2L1864 791.8L1865.3 796L1866.5 799L1867.8 797.2L1869 792.7L1870.3 790.7L1871.5 791.9L1872.8 793.1L1874 794.3L1875.3 796.5L1876.5 800L1877.8 803.2L1879 805.8L1880.2 808.2L1881.5 809.6L1882.7 811.1L1884 814.9L1885.2 818.6L1886.5 819.5L1887.7 817.8L1889 814.2L1890.2 810.9L1891.5 807.8L1892.7 803.7L1894 800.2L1895.2 800L1896.5 799.4L1897.7 794.1L1899 785.3L1900.2 779.5L1901.5 782L1902.7 788.6L1904 792.3L1905.2 789L1906.5 783L1907.7 779.9L1909 780.4L1910.2 781L1911.4 781.5L1912.7 782.4L1913.9 783.6L1915.2 784.4L1916.4 783.8L1917.7 783.1L1918.9 783.8L1920.2 786.3L1921.4 789.6L1922.7 792.7L1923.9 794.6L1925.2 795.6L1926.4 796.8L1927.7 797.4L1928.9 796.4L1930.2 795.1L1931.4 795.5L1932.7 796.8L1933.9 796.1L1935.2 794.3L1936.4 793.3L1937.7 791.7L1938.9 789.8L1940.2 788.9L1941.4 788.6L1942.6 787.7L1943.9 786.1L1945.1 785.5L1946.4 788.4L1947.6 793.3L1948.9 796.3L1950.1 794.8L1951.4 791.2L1952.6 789.5L1953.9 789.9L1955.1 790L1956.4 790.1L1957.6 791.8L1958.9 795.2L1960.1 797.6L1961.4 798.1L1962.6 798.2L1963.9 799.1L1965.1 801.5L1966.4 804.7L1967.6 807L1968.9 806.7L1970.1 805L1971.4 804.2L1972.6 805L1973.8 805.9L1975.1 805.7L1976.3 805.2L1977.6 805.1L1978.8 804L1980.1 801.9L1981.3 799.6L1982.6 797.5L1983.8 796.6L1985.1 796.8L1986.3 796.6L1987.6 792.3L1988.8 785.3L1990.1 781.8L1991.3 783.7L1992.6 787.2L1993.8 789.3L1995.1 791L1996.3 793.7L1997.6 795.5L1998.8 793.5L2000.1 789.3L2001.3 787.3L2002.6 788.3L2003.8 789.5L2005 790.3L2006.3 792.1L2007.5 794.9L2008.8 796.4L2010 797.5L2011.3 799.3L2012.5 800L2013.8 798.8L2015 797L2016.3 795.6L2017.5 793.3L2018.8 789.8L2020 787.6L2021.3 789.3L2022.5 793.2L2023.8 795.4L2025 795.1L2026.3 794.6L2027.5 794.5L2028.8 794.1L2030 793.3L2031.3 793L2032.5 792.5L2033.8 791.4L2035 791.6L2036.2 792.1L2037.5 793.1L2038.7 794L2040 794.2L2041.2 794.1L2042.5 794.3L2043.7 796.4L2045 799.6L2046.2 801.5L2047.5 800.6L2048.7 798.6L2050 797.3L2051.2 797.1L2052.5 797.1L2053.7 796.9L2055 797.1L2056.2 798.2L2057.5 798.6L2058.7 798.9L2060 799.8L2061.2 800.3L2062.5 798.4L2063.7 794.7L2065 792.7L2066.2 793.8L2067.4 796L2068.7 797.1L2069.9 795.5L2071.2 792.7L2072.4 791.1L2073.7 792.9L2074.9 796.5L2076.2 798.3L2077.4 796.4L2078.7 792.9L2079.9 791.1L2081.2 790.3L2082.4 789.1L2083.7 788.5L2084.9 789L2086.2 790L2087.4 790.6L2088.7 791.2L2089.9 792.1L2091.2 792.9L2092.4 793.1L2093.7 793.1L2094.9 793.5L2096.2 794.3L2097.4 795.4L2098.6 796.3L2099.9 795.7L2101.1 794.1L2102.4 793.5L2103.6 794.7L2104.9 796.4L2106.1 797.5L2107.4 798.5L2108.6 800.3L2109.9 801.1L2111.1 800L2112.4 797.8L2113.6 796.5L2114.9 796.8L2116.1 797.4L2117.4 797.5L2118.6 797.2L2119.9 796.8L2121.1 796.5L2122.4 796.5L2123.6 797L2124.9 797.1L2126.1 797.5L2127.4 798.5L2128.6 798.9L2129.8 797.2L2131.1 794.2L2132.3 792.6L2133.6 793.2L2134.8 794.5L2136.1 795.3L2137.3 794.4L2138.6 792.6L2139.8 791.8L2141.1 793.1L2142.3 795.2L2143.6 796.6L2144.8 797.5L2146.1 798.8L2147.3 799.7L2148.6 800.6L2149.8 801.6L2151.1 802.4L2152.3 802.4L2153.6 802L2154.8 801.9L2156.1 802.5L2157.3 803.3L2158.6 803.8L2159.8 803.7L2161 803L2162.3 801.8L2163.5 800.6L2164.8 799.3L2166 797.6L2167.3 795L2168.5 791.9L2169.8 789.8L2171 787.9L2172.3 785.9L2173.5 785.1L2174.8 786.4L2176 789L2177.3 790.3L2178.5 790.7L2179.8 791.3L2181 791.6L2182.3 791.2L2183.5 790.5L2184.8 790L2186 789.1L2187.3 787.4L2188.5 786.5L2189.8 787.3L2191 788.8L2192.2 789.6L2193.5 789.7L2194.7 789.8L2196 789.8L2197.2 788.7L2198.5 786.8L2199.7 786.4L2201 788.4L2202.2 791.3L2203.5 793.6L2204.7 794.7L2206 795.2L2207.2 795.9L2208.5 797.2L2209.7 798.4L2211 798.9L2212.2 799L2213.5 799.4L2214.7 799.3L2216 798.4L2217.2 797.2L2218.5 796.2L2219.7 794L2221 790.7L2222.2 788.5L2223.4 788.8L2224.7 790.1L2225.9 790.5L2227.2 789.6L2228.4 788.5L2229.7 787.7L2230.9 787.3L2232.2 787L2233.4 786.7L2234.7 786.4L2235.9 785.8L2237.2 785.5L2238.4 785.3L2239.7 785L2240.9 784.9L2242.2 785.3L2243.4 786.2L2244.7 786.6L2245.9 787.2L2247.2 788.3L2248.4 788.8L2249.7 788.9L2250.9 788.9L2252.2 788.9L2253.4 789.5L2254.6 790.5L2255.9 791.1L2257.1 788.4L2258.4 783.5L2259.6 780.9L2260.9 781.4L2262.1 781.6L2263.4 779.7L2264.6 776.2L2265.9 772.9L2267.1 769.8L2268.4 767.9L2269.6 767.8L2270.9 770.5L2272.1 776.7L2273.4 785.5L2274.6 795.7L2275.9 806.1L2277.1 815.4L2278.4 821.9L2279.6 823.6L2280.9 820.9L2282.1 816.4L2283.4 811.2L2284.6 805.5L2285.8 800.8L2287.1 797.9L2288.3 797.4L2289.6 797.2L2290.8 799.1L2292.1 802.8L2293.3 804.6L2294.6 803.2L2295.8 800.6L2297.1 799.1L2298.3 799.5L2299.6 800.4L2300.8 800.9L2302.1 800.6L2303.3 800.1L2304.6 799.8L2305.8 799.6L2307.1 799.3L2308.3 799.1L2309.6 798.6L2310.8 797.8L2312.1 797.3L2313.3 797.8L2314.6 798.7L2315.8 799.2L2317 798.5L2318.3 797.1L2319.5 796.5L2320.8 796.1L2322 795.4L2323.3 795.1L2324.5 795.1L2325.8 795.1L2327 795.1L2328.3 794.1L2329.5 792.1L2330.8 791.1L2332 794L2333.3 799.3L2334.5 802.2L2335.8 802.3L2337 802.3L2338.3 802.3L2339.5 801.7L2340.8 800.4L2342 799.8L2343.3 800.6L2344.5 801.9L2345.8 802.6L2347 801.1L2348.2 798.3L2349.5 796.8L2350.7 798.3L2352 801.3L2353.2 802.8L2354.5 801.4L2355.7 798.8L2357 797.3L2358.2 796.4L2359.5 795L2360.7 794.1L2362 794.4L2363.2 795.3L2364.5 795.7L2365.7 795.7L2367 796L2368.2 796.1L2369.5 797.1L2370.7 799.2L2372 800.2L2373.2 799.8L2374.5 799L2375.7 798.7L2377 798L2378.2 796.7L2379.4 796.1L2380.7 794.8L2381.9 792.2L2383.2 790.9L2384.4 792.5L2385.7 795.3L2386.9 796.9L2388.2 796.9L2389.4 796.6L2390.7 796.6L2391.9 797.2L2393.2 798.2L2394.4 798.8L2395.7 798.9L2396.9 799L2398.2 799.1L2399.4 799.8L2400.7 801.1L2401.9 801.7L2403.2 799.8L2404.4 796.2L2405.7 794.2L2406.9 794.4L2408.2 794.9L2409.4 795.1L2410.6 796.8L2411.9 799.8L2413.1 801.4L2414.4 801L2415.6 800.3L2416.9 799.9L2418.1 800.4L2419.4 801.4L2420.6 801.9L2421.9 801L2423.1 799.3L2424.4 798.4L2425.6 797.1L2426.9 794.7L2428.1 793.5L2429.4 794.9L2430.6 797.7L2431.9 799.7L2433.1 800.7L2434.4 802L2435.6 803.3L2436.9 804.5L2438.1 805.7L2439.4 806.9L2440.6 809L2441.8 811.8L2443.1 813.7L2444.3 813.3L2445.6 811.7L2446.8 810.8L2448.1 810.9L2449.3 811L2450.6 810.9L2451.8 811.3L2453.1 812.2L2454.3 812.4L2455.6 811.8L2456.8 810.9L2458.1 810.3L2459.3 809.1L2460.6 807.2L2461.8 806.1L2463.1 807L2464.3 808.8L2465.6 809.8L2466.8 810L2468.1 810.2L2469.3 810.4L2470.6 809.4L2471.8 807.4L2473 806.4L2474.3 806.5L2475.5 806.6L2476.8 806.7L2478 807.7L2479.3 809.2L2480.5 810.1L2481.8 809L2483 806.5L2484.3 805.3L2485.5 807.3L2486.8 810.8L2488 812.7L2489.3 812.2L2490.5 811.3L2491.8 810.8L2493 811.2L2494.3 811.8L2495.5 812.2L2496.8 812L2498 811.8L2499.3 811.6L2500.5 812.2L2501.8 813.3L2503 813.9L2504.2 813.1L2505.5 811.6L2506.7 810.7L2508 811.4L2509.2 812.5L2510.5 812.8L2511.7 811.8L2513 810.2L2514.2 808.5L2515.5 806.9L2516.7 805.2L2518 803.2L2519.2 800.3L2520.5 796.6L2521.7 793.8L2523 791.4L2524.2 788.9L2525.5 787L2526.7 787.2L2528 788.9L2529.2 789.9L2530.5 790.1L2531.7 791L2533 792.7L2534.2 795.6L2535.4 798.8L2536.7 801.6L2537.9 803.5L2539.2 804.5L2540.4 804.8L2541.7 804.4L2542.9 803.9L2544.2 804.2L2545.4 806.3L2546.7 809L2547.9 810.2L2549.2 810.1L2550.4 810L2551.7 809.8L2552.9 810L2554.2 810.7L2555.4 810.9L2556.7 809.6L2557.9 807.7L2559.2 806.4L2560.4 805.4L2561.7 803.8L2562.9 802.7L2564.2 803.6L2565.4 805.6L2566.6 806.6L2567.9 805.3L2569.1 803.1L2570.4 801.9L2571.6 803.5L2572.9 806.7L2574.1 808.5L2575.4 808.3L2576.6 807.7L2577.9 807.6L2579.1 807.2L2580.4 806.1L2581.6 805.7L2582.9 805.1L2584.1 803.6L2585.4 802.9L2586.6 804.5L2587.9 807.1L2589.1 808.7L2590.4 808.9L2591.6 809L2592.9 809.1L2594.1 808L2595.4 805.9L2596.6 804.7L2597.8 806.1L2599.1 808.6L2600.3 810L2601.6 811.2L2602.8 813.4L2604.1 814.6L2605.3 813L2606.6 810.1L2607.8 808.5L2609.1 808.4L2610.3 808.2L2611.6 808.2L2612.8 807.7L2614.1 806.8L2615.3 806.3L2616.6 807.9L2617.8 810.9L2619.1 812.5L2620.3 811.5L2621.6 809.4L2622.8 808.3L2624.1 809.2L2625.3 810.9L2626.6 811.7L2627.8 808.5L2629 808.2L2630.3 807.8L2631.5 807.3L2632.8 806.6L2634 806.1L2635.3 805.9L2636.5 805.9L2637.8 805.8L2639 805.3L2640.3 804.8L2641.5 804.4L2642.8 804.2L2644 803.9L2645.3 803.8L2646.5 803.8L2647.8 803.6L2649 802.8L2650.3 801.6L2651.5 800.1L2652.8 798.8L2654 797.7L2655.3 797.2L2656.5 796.4L2657.8 792.1L2659 786.2L2660.2 781.9L2661.5 780.9L2662.7 777.7L2664 772.3L2665.2 766L2666.5 760.3L2667.7 756.8L2669 755.7L2670.2 751.4L2671.5 744.6L2672.7 737L2674 730.4L2675.2 726.2L2676.5 724.4L2677.7 716.8L2679 705.2L2680.2 693.7L2681.5 686.1L2682.7 684L2684 677.6L2685.2 668L2686.5 658.3L2687.7 651.7L2689 649.5L2690.2 643.9L2691.4 638.7L2692.7 636.3L2693.9 627.1L2695.2 616L2696.4 610.7L2697.7 616.5L2698.9 629.1L2700.2 641.5L2701.4 647.2L2702.7 649.7L2703.9 654.4L2705.2 657L2706.4 644.8L2707.7 625.8L2708.9 625.6L2710.2 645.6L2711.4 665.7L2712.7 672.1L2713.9 689L2715.2 709.4L2716.4 719.3L2717.7 722.9L2718.9 731.6L2720.2 741.8L2721.4 750.2L2722.6 753.7L2723.9 755.2L2725.1 758.6L2726.4 762.6L2727.6 766.1L2728.9 767.7L2730.1 768.7L2731.4 771.1L2732.6 773.9L2733.9 776.9L2735.1 779.5L2736.4 781.2L2737.6 781.7L2738.9 782.9L2740.1 784.9L2741.4 787.2L2742.6 789.6L2743.9 792L2745.1 793.8L2746.4 794.5L2747.6 795L2748.9 796.4L2750.1 798.3L2751.4 800.4L2752.6 801.7L2753.8 802.6L2755.1 804L2756.3 805L2757.6 806.1L2758.8 807.1L2760.1 808L2761.3 809.3L2762.6 811.6L2763.8 814.4L2765.1 815.7L2766.3 814.8L2767.6 813.2L2768.8 812.6L2770.1 813.3L2771.3 814.3L2772.6 815.1L2773.8 815.5L2775.1 815.8L2776.3 816L2777.6 816.2L2778.8 816.4L2780.1 816.6L2781.3 816.4L2782.6 815.9L2783.8 815.8L2785 816.4L2786.3 817.2L2787.5 817.7L2788.8 817L2790 815.5L2791.3 814.5L2792.5 814.6L2793.8 814.8L2795 814.8L2796.3 814.8L2797.5 815.1L2798.8 815.3L2800 815L2801.3 814.6L2802.5 814.3L2803.8 813.9L2805 813L2806.3 812.6L2807.5 813.4L2808.8 814.9L2810 815.7L2811.3 815.8L2812.5 816L2813.8 816.1L2815 816.5L2816.2 817.1L2817.5 817.5L2818.7 816.4L2820 814.4L2821.2 813.3L2822.5 814.1L2823.7 815.7L2825 816.5L2826.2 816.4L2827.5 816.3L2828.7 816.2L2830 816.4L2831.2 816.8L2832.5 817L2833.7 816.8L2835 816.4L2836.2 816.2L2837.5 816.3L2838.7 816.4L2840 816.5L2841.2 816.3L2842.5 815.8L2843.7 815.5L2845 815.3L2846.2 815L2847.4 814.8L2848.7 815.5L2849.9 816.8L2851.2 817.6L2852.4 816.5L2853.7 814.5L2854.9 813.5L2856.2 814.4L2857.4 815.8L2858.7 816.7L2859.9 817.4L2861.2 818.5L2862.4 819.1L2863.7 818.6L2864.9 817.4L2866.2 816.9L2867.4 817.3L2868.7 817.9L2869.9 818.3L2871.2 818.5L2872.4 819L2873.7 819.2L2874.9 818.6L2876.2 817.5L2877.4 817L2878.6 817.9L2879.9 819.5L2881.1 820.4L2882.4 819.7L2883.6 818.4L2884.9 817.6L2886.1 818L2887.4 818.7L2888.6 819L2889.9 818.9L2891.1 818.7L2892.4 818.5L2893.6 818.5L2894.9 818.4L2896.1 818.3L2897.4 818.7L2898.6 819.3L2899.9 819.6L2901.1 819.2L2902.4 818.5L2903.6 818L2904.9 818.5L2906.1 819.4L2907.4 819.9L2908.6 819L2909.8 817.4L2911.1 816.5L2912.3 816.8L2913.6 817.4L2914.8 817.7L2916.1 817.2L2917.3 816.4L2918.6 815.9L2919.8 816.4L2921.1 817.4L2922.3 818L2923.6 818.1L2924.8 818.4L2926.1 818.6L2927.3 818.4L2928.6 818.2L2929.8 818L2931.1 818.5L2932.3 819.3L2933.6 819.8L2934.8 819.9L2936.1 819.9L2937.3 820L2938.6 819.8L2939.8 819.4L2941 819.1L2942.3 819L2943.5 818.6L2944.8 818.3L2946 818.9L2947.3 820L2948.5 820.7L2949.8 820L2951 818.9L2952.3 818.3L2953.5 818.3L2954.8 818.2L2956 818.2L2957.3 818.4L2958.5 818.7L2959.8 818.9L2961 819L2962.3 819L2963.5 819.1L2964.8 819.7L2966 820.6L2967.3 821.1L2968.5 820.7L2969.8 819.9L2971 819.4L2972.2 819.2L2973.5 818.7L2974.7 818.3L2976 818.4L2977.2 818.8L2978.5 818.8L2979.7 818.1L2981 817.2L2982.2 816.6L2983.5 817.1L2984.7 818.3L2986 819L2987.2 818.6L2988.5 817.5L2989.7 816.2L2991 815.3L2992.2 814.7L2993.5 814.7L2994.7 815.5L2996 816.8L2997.2 818L2998.5 818.3L2999.7 818L3001 817.9L3002.2 818.4L3003.4 818.9L3004.7 819.3L3005.9 819L3007.2 818.5L3008.4 818.3L3009.7 818.9L3010.9 819.8L3012.2 820.5L3013.4 820.6L3014.7 820.6L3015.9 820.6L3017.2 821.1L3018.4 821.8L3019.7 822.1L3020.9 822L3022.2 821.8L3023.4 821.7L3024.7 820.7L3025.9 818.7L3027.2 817.7L3028.4 819.4L3029.7 822.4L3030.9 824.1L3032.2 824.6L3033.4 825.4L3034.6 825.9L3035.9 825.7L3037.1 825L3038.4 824.7L3039.6 824.6L3040.9 824.6L3042.1 824.6L3043.4 824.1L3044.6 823.3L3045.9 822.9L3047.1 823.1L3048.4 823.6L3049.6 823.8L3050.9 824.1L3052.1 824.6" fill="none" stroke="#f5222a" stroke-width="4.6" stroke-dasharray="23 10 8 10" stroke-linejoin="round"/>
<line x1="1046" y1="525.6" x2="1235" y2="525.6" stroke="#0a0a0a" stroke-width="5.5" />
<line x1="1046" y1="575.6" x2="1235" y2="575.6" stroke="#f5222a" stroke-width="5.5" stroke-dasharray="23.4 10.6 8.3 10.6"/>
<line x1="1046" y1="626" x2="1235" y2="626" stroke="#0a0a0a" stroke-width="5.5" stroke-dasharray="5.5 11.2"/>
<line x1="1046" y1="675.8" x2="1235" y2="675.8" stroke="#1763ea" stroke-width="5.5" />
<line x1="1046" y1="725.7" x2="1235" y2="725.7" stroke="#36cc66" stroke-width="5.5" />
<path d="M1099 974v-10.5M1099 474v10.5M1411 974v-10.5M1411 474v10.5M1723 974v-10.5M1723 474v10.5M2035 974v-10.5M2035 474v10.5M2347 974v-10.5M2347 474v10.5M2659 974v-10.5M2659 474v10.5M2971 974v-10.5M2971 474v10.5" stroke="#000" stroke-width="4" fill="none"/>
<path d="M1036.6 974v-5.5M1036.6 474v5.5M1099 974v-5.5M1099 474v5.5M1161.4 974v-5.5M1161.4 474v5.5M1223.8 974v-5.5M1223.8 474v5.5M1286.2 974v-5.5M1286.2 474v5.5M1348.6 974v-5.5M1348.6 474v5.5M1411 974v-5.5M1411 474v5.5M1473.4 974v-5.5M1473.4 474v5.5M1535.8 974v-5.5M1535.8 474v5.5M1598.2 974v-5.5M1598.2 474v5.5M1660.6 974v-5.5M1660.6 474v5.5M1723 974v-5.5M1723 474v5.5M1785.4 974v-5.5M1785.4 474v5.5M1847.8 974v-5.5M1847.8 474v5.5M1910.2 974v-5.5M1910.2 474v5.5M1972.6 974v-5.5M1972.6 474v5.5M2035 974v-5.5M2035 474v5.5M2097.4 974v-5.5M2097.4 474v5.5M2159.8 974v-5.5M2159.8 474v5.5M2222.2 974v-5.5M2222.2 474v5.5M2284.6 974v-5.5M2284.6 474v5.5M2347 974v-5.5M2347 474v5.5M2409.4 974v-5.5M2409.4 474v5.5M2471.8 974v-5.5M2471.8 474v5.5M2534.2 974v-5.5M2534.2 474v5.5M2596.6 974v-5.5M2596.6 474v5.5M2659 974v-5.5M2659 474v5.5M2721.4 974v-5.5M2721.4 474v5.5M2783.8 974v-5.5M2783.8 474v5.5M2846.2 974v-5.5M2846.2 474v5.5M2908.6 974v-5.5M2908.6 474v5.5M2971 974v-5.5M2971 474v5.5M3033.4 974v-5.5M3033.4 474v5.5" stroke="#000" stroke-width="4" fill="none"/>
<path d="M999.6 968.7h41M3093.6 968.7h-41M999.6 843.9h41M3093.6 843.9h-41M999.6 719.1h41M3093.6 719.1h-41M999.6 594.3h41M3093.6 594.3h-41" stroke="#000" stroke-width="4" fill="none"/>
<path d="M999.6 968.7h20.5M3093.6 968.7h-20.5M999.6 943.7h20.5M3093.6 943.7h-20.5M999.6 918.8h20.5M3093.6 918.8h-20.5M999.6 893.8h20.5M3093.6 893.8h-20.5M999.6 868.9h20.5M3093.6 868.9h-20.5M999.6 843.9h20.5M3093.6 843.9h-20.5M999.6 818.9h20.5M3093.6 818.9h-20.5M999.6 794h20.5M3093.6 794h-20.5M999.6 769h20.5M3093.6 769h-20.5M999.6 744.1h20.5M3093.6 744.1h-20.5M999.6 719.1h20.5M3093.6 719.1h-20.5M999.6 694.1h20.5M3093.6 694.1h-20.5M999.6 669.2h20.5M3093.6 669.2h-20.5M999.6 644.2h20.5M3093.6 644.2h-20.5M999.6 619.3h20.5M3093.6 619.3h-20.5M999.6 594.3h20.5M3093.6 594.3h-20.5M999.6 569.3h20.5M3093.6 569.3h-20.5M999.6 544.4h20.5M3093.6 544.4h-20.5M999.6 519.4h20.5M3093.6 519.4h-20.5M999.6 494.5h20.5M3093.6 494.5h-20.5" stroke="#000" stroke-width="4" fill="none"/>
<rect x="999.6" y="474" width="2094" height="500" fill="none" stroke="#000" stroke-width="4.2" stroke-linejoin="round"/>
<defs>
<filter id="b2" filterUnits="userSpaceOnUse" x="2200" y="430" width="900" height="300"><feGaussianBlur stdDeviation="2"/></filter>
<filter id="b3" filterUnits="userSpaceOnUse" x="2200" y="430" width="900" height="300"><feGaussianBlur stdDeviation="3"/></filter>
<filter id="b5" filterUnits="userSpaceOnUse" x="2200" y="430" width="900" height="300"><feGaussianBlur stdDeviation="5"/></filter>
<clipPath id="c1"><rect x="2275" y="481.5" width="197.4" height="188.5"/></clipPath>
<clipPath id="c2"><rect x="2842.6" y="481.5" width="196.8" height="188.5"/></clipPath>
</defs>
<filter id="b1" filterUnits="userSpaceOnUse" x="2200" y="430" width="900" height="300"><feGaussianBlur stdDeviation="1.2"/></filter>
<g clip-path="url(#c1)">
<path d="M2379.4 556.2L2388.7 540.8L2405.6 534.7L2430.2 531.6L2448.7 536.2L2459.5 550.1L2461 568.6L2458 587L2445.6 600.9L2430.2 608.6L2414.8 616.3L2405.6 624L2390.2 593.2L2381 577.8Z" fill="#eaecec" filter="url(#b2)"/>
<path d="M2273.2 550.9L2313.2 557.8L2344 568.6L2367.1 580.9L2382.5 593.2L2411.8 608.6L2405.6 624L2397.9 642.5L2388.7 654.8L2374.8 659.4L2364 653.3L2360.9 639.4L2356.3 617.8L2336.3 600.9L2307 584L2273.2 574.7Z" fill="#dfe2e2" filter="url(#b2)"/>
<path d="M2387.1 556.2L2396.4 543.9L2411.8 538.5L2430.2 536.2L2444.1 540.8L2451.8 553.2L2451.8 568.6L2448.7 584L2439.5 596.3L2424.1 605.5L2411.8 608.6L2402.5 593.2L2390.2 577.8Z" fill="#e3e6e6" filter="url(#b2)"/>
<path d="M2276.2 554.7L2313.2 560.1L2344 570.9L2367.1 583.2L2384 595.5L2408.7 605.5L2404.8 618.6L2397.1 637.1L2388.7 650.2L2377.9 655.6L2366.3 651L2363.3 637.1L2357.6 615.5L2336.3 597.1L2310.1 581.7L2276.2 572.4Z" fill="#cbcfcf" filter="url(#b1)"/>
<path d="M2396.4 559.3L2405.6 547L2417.9 542.4L2433.3 542.4L2442.6 550.1L2444.1 565.5L2439.5 584L2430.2 596.3L2417.9 604L2408.7 596.3L2402.5 577.8Z" fill="#d6dada" filter="url(#b2)"/>
<path d="M2297.8 560.9L2328.6 566.3L2351.7 577.8L2374.8 591.7L2384 599.4L2394.8 593.2L2405.6 593.2L2405.6 608.6L2401 624L2393.3 639.4L2384 648.6L2371.7 647.1L2365.6 633.2L2360.9 616.3L2344 599.4L2320.9 584.7L2297.8 574.7Z" fill="#b2b7b7" filter="url(#b1)"/>
<path d="M2405.6 562.4L2411.8 551.6L2424.1 547L2434.9 553.2L2436.4 568.6L2430.2 587L2421 597.8L2411.8 593.2L2407.1 577.8Z" fill="#c9cdcd" filter="url(#b2)"/>
<path d="M2408.7 568.6L2417.9 562.4L2427.2 568.6L2424.1 587L2416.4 593.2L2410.2 584Z" fill="#bcc1c1" filter="url(#b2)"/>
<path d="M2322.4 571.6L2344 577.8L2360.9 587.8L2376.3 599.4L2388.7 604L2396.4 604L2402.5 608.6L2397.9 624L2390.2 637.9L2381 643.3L2372.5 639.4L2367.1 625.5L2362.5 611.7L2348.6 599.4L2328.6 587Z" fill="#999f9f" filter="url(#b1)"/>
<path d="M2340.9 583.2L2357.9 589.4L2367.1 600.9L2374.8 607.1L2384 606.3L2394.1 607.8L2395.6 617.8L2390.2 630.9L2382.5 638.6L2374 635.6L2368.6 624L2364 613.2L2353.2 602.4L2342.5 593.2Z" fill="#7f8585" filter="url(#b1)"/>
<path d="M2365.6 607.1L2374.8 611.7L2384 611.7L2390.2 617.8L2387.1 630.2L2381 634.8L2374.8 630.2L2370.2 617.8Z" fill="#646a6a" filter="url(#b1)"/>
<path d="M2371.7 614.8L2381 616.3L2385.6 622.5L2383.3 631.7L2377.9 633.2L2374 625.5Z" fill="#474c4c" filter="url(#b1)"/>
<ellipse cx="2378.7" cy="624.8" rx="2.6" ry="6.5" fill="#2a2e2e" filter="url(#b1)"/>
</g>
<g clip-path="url(#c1)">
<path d="M2274.8 550L2277.7 550.2L2280.5 550.5L2283.3 550.8L2286.1 551.1L2289 551.4L2291.8 551.7L2294.6 552L2297.4 552.3L2300.3 552.6L2303.1 553L2305.9 553.3L2308.7 553.7L2311.6 554.1L2314.4 554.5L2317.2 554.9L2320 555.3L2322.9 555.8L2325.7 556.3L2328.5 556.7L2331.3 557.2L2334.1 557.8L2337 558.3L2339.8 558.9L2342.6 559.5L2345.4 560.1L2348.3 560.7L2351.1 561.4L2353.9 562.1L2356.7 562.9L2359.6 563.7L2362.4 564.5L2365.2 565.4L2368 566.3L2370.9 567.3L2373.7 568.3L2376.5 569.4L2379.3 570.6L2382.1 571.9L2385 573.2L2387.8 574.6L2390.6 576.1L2393.4 577.8L2396.3 579.5L2399.1 581.4L2401.9 583.5L2404.7 585.7L2407.6 588.2L2410.4 590.9L2413.2 593.8L2416 597.1L2418.9 600.7L2421.7 604.8L2424.5 609.4L2427.3 614.6L2430.2 620.5L2433 627.4L2435.8 635.4L2438.6 644.9L2441.4 656.3L2444.3 670.3" fill="none" stroke="#000" stroke-width="1.8" />
<path d="M2274.8 548.5L2275.8 548.6L2276.7 548.7L2277.6 548.9L2278.5 549L2279.4 549.2L2280.3 549.3L2281.2 549.5L2282.1 549.6L2283 549.7L2283.9 549.9L2284.9 550.1L2285.8 550.2L2286.7 550.4L2287.6 550.5L2288.5 550.7L2289.4 550.8L2290.3 551L2291.2 551.2L2292.1 551.3L2293 551.5L2294 551.7L2294.9 551.9L2295.8 552L2296.7 552.2L2297.6 552.4L2298.5 552.6L2299.4 552.8L2300.3 553L2301.2 553.2L2302.1 553.4L2303.1 553.6L2304 553.8L2304.9 554L2305.8 554.2L2306.7 554.4L2307.6 554.6L2308.5 554.8L2309.4 555.1L2310.3 555.3L2311.2 555.5L2312.1 555.8L2313.1 556L2314 556.2L2314.9 556.5L2315.8 556.7L2316.7 557L2317.6 557.2L2318.5 557.5L2319.4 557.8L2320.3 558L2321.2 558.3L2322.2 558.6L2323.1 558.9L2324 559.2L2324.9 559.4L2325.8 559.7L2326.7 560.1L2327.6 560.4L2328.5 560.7L2329.4 561" fill="none" stroke="#000" stroke-width="1.8" />
<path d="M2351.2 571L2351.8 571.3L2352.3 571.6L2352.8 572L2353.4 572.3L2353.9 572.6L2354.4 573L2355 573.3L2355.5 573.7L2356 574L2356.6 574.4L2357.1 574.7L2357.6 575.1L2358.2 575.5L2358.7 575.9L2359.2 576.2L2359.7 576.6L2360.3 577L2360.8 577.4L2361.3 577.9L2361.9 578.3L2362.4 578.7L2362.9 579.1L2363.5 579.6L2364 580L2364.5 580.5L2365.1 580.9L2365.6 581.4L2366.1 581.9L2366.7 582.4L2367.2 582.9L2367.7 583.4L2368.2 583.9L2368.8 584.4L2369.3 584.9L2369.8 585.5L2370.4 586L2370.9 586.6L2371.4 587.2L2372 587.7L2372.5 588.3L2373 588.9L2373.6 589.6L2374.1 590.2L2374.6 590.8L2375.2 591.5L2375.7 592.1L2376.2 592.8L2376.7 593.5L2377.3 594.2L2377.8 595L2378.3 595.7L2378.9 596.5L2379.4 597.2L2379.9 598L2380.5 598.8L2381 599.7L2381.5 600.5L2382.1 601.4L2382.6 602.3L2383.1 603.2" fill="none" stroke="#000" stroke-width="1.8" />
<path d="M2393.3 625.9L2393.5 626.4L2393.6 626.9L2393.8 627.4L2394 628L2394.2 628.5L2394.3 629L2394.5 629.5L2394.7 630.1L2394.8 630.6L2395 631.2L2395.2 631.7L2395.4 632.3L2395.5 632.9L2395.7 633.4L2395.9 634L2396.1 634.6L2396.2 635.2L2396.4 635.8L2396.6 636.4L2396.7 637L2396.9 637.7L2397.1 638.3L2397.3 638.9L2397.4 639.6L2397.6 640.2L2397.8 640.9L2398 641.5L2398.1 642.2L2398.3 642.9L2398.5 643.6L2398.6 644.3L2398.8 645L2399 645.7L2399.2 646.4L2399.3 647.1L2399.5 647.9L2399.7 648.6L2399.9 649.4L2400 650.2L2400.2 650.9L2400.4 651.7L2400.5 652.5L2400.7 653.3L2400.9 654.1L2401.1 655L2401.2 655.8L2401.4 656.7L2401.6 657.5L2401.8 658.4L2401.9 659.3L2402.1 660.2L2402.3 661.1L2402.4 662L2402.6 662.9L2402.8 663.9L2403 664.8L2403.1 665.8L2403.3 666.8L2403.5 667.8L2403.7 668.8" fill="none" stroke="#000" stroke-width="1.8" />
<path d="M2406.5 584.7L2472.2 544.5" fill="none" stroke="#000" stroke-width="1.8" />
</g>
<circle cx="2407.8" cy="567.8" r="3.6" fill="#1763ea" stroke="#0b1a3a" stroke-width="1.3"/>
<g clip-path="url(#c2)">
<path d="M2918.1 547.8L2936.8 522.9L2967.9 511.3L2992.9 516.7L3005.3 540.1L3014.7 563.4L3014.7 588.3L3002.2 603.9L2983.5 613.2L2960.2 619.5L2944.6 610.1L2933.7 591.4Z" fill="#d9dcdc" filter="url(#b3)"/>
<ellipse cx="2960.2" cy="607" rx="28" ry="12.5" fill="#e4e7e7" transform="rotate(0 2960.2 607)" filter="url(#b3)"/>
<ellipse cx="2971.1" cy="628.8" rx="7" ry="3.9" fill="#eff0f0" transform="rotate(0 2971.1 628.8)" filter="url(#b2)"/>
<ellipse cx="2957.8" cy="532.3" rx="39.7" ry="19.5" fill="#d0d4d4" transform="rotate(-8 2957.8 532.3)" filter="url(#b3)"/>
<path d="M2918.1 557.2L2944.6 540.1" fill="none" stroke="#c8cccc" stroke-width="18.7" stroke-linecap="round" stroke-linejoin="round" filter="url(#b2)" />
<ellipse cx="2957.8" cy="532.3" rx="26.5" ry="12.5" fill="#bfc4c4" transform="rotate(-6 2957.8 532.3)" filter="url(#b3)"/>
<ellipse cx="2957.1" cy="531.5" rx="9.3" ry="3.9" fill="#adb2b2" transform="rotate(-6 2957.1 531.5)" filter="url(#b2)"/>
<ellipse cx="2989.7" cy="577.4" rx="23.4" ry="27.2" fill="#d0d4d4" transform="rotate(0 2989.7 577.4)" filter="url(#b3)"/>
<ellipse cx="2989" cy="577.4" rx="12.5" ry="15.6" fill="#b9bebe" transform="rotate(0 2989 577.4)" filter="url(#b3)"/>
<ellipse cx="2957.1" cy="569.6" rx="14.8" ry="12.5" fill="#dde0e0" transform="rotate(0 2957.1 569.6)" filter="url(#b3)"/>
<path d="M2837.2 536.9L2874.5 540.1L2905.7 551L2929 566.5L2942.3 588.3L2950 610.1L2944.6 625.7L2929 644.4L2905.7 661.5L2874.5 666.9L2851.2 658.4L2837.2 649Z" fill="#cdd1d1" filter="url(#b3)"/>
<path d="M2855.9 543.2L2877.7 544.7L2905.7 555.6L2925.9 571.2L2938.4 591.4L2943 610.1L2936.8 627.2L2922.8 642.8L2902.6 656.8L2877.7 661.5L2859 652.1L2854.3 610.1Z" fill="#b4b9b9" filter="url(#b2)"/>
<path d="M2869.9 549.4L2890.1 551L2908.8 561.9L2922.8 575.9L2933.7 594.5L2936 610.1L2929 627.2L2916.6 641.2L2899.5 652.1L2880.8 654.5L2871.4 641.2L2868.3 594.5Z" fill="#9ba0a0" filter="url(#b2)"/>
<path d="M2880.8 557.2L2896.3 557.2L2911.9 568.1L2922.8 583.6L2927.5 602.3L2922.8 622.6L2911.9 636.6L2897.9 645.9L2885.4 642.8L2880.8 610.1Z" fill="#848a8a" filter="url(#b2)"/>
<ellipse cx="2903.3" cy="603.9" rx="16.3" ry="45.1" fill="#6c7272" transform="rotate(10 2903.3 603.9)" filter="url(#b2)"/>
<ellipse cx="2903.8" cy="603.1" rx="10.3" ry="36.6" fill="#4f5456" transform="rotate(10 2903.8 603.1)" filter="url(#b2)"/>
<ellipse cx="2904.1" cy="600.8" rx="5.9" ry="28" fill="#33373a" transform="rotate(11 2904.1 600.8)" filter="url(#b2)"/>
<ellipse cx="2904.9" cy="599.2" rx="2.6" ry="14.8" fill="#1a1c1e" transform="rotate(11 2904.9 599.2)" filter="url(#b2)"/>
</g>
<g clip-path="url(#c2)">
<path d="M2842.6 536.3L2844.5 536.7L2846.4 537.2L2848.4 537.6L2850.3 538.1L2852.2 538.6L2854.1 539.1L2856.1 539.6L2858 540.1L2859.9 540.7L2861.8 541.2L2863.8 541.8L2865.7 542.4L2867.6 543L2869.5 543.7L2871.5 544.3L2873.4 545L2875.3 545.7L2877.2 546.5L2879.2 547.2L2881.1 548L2883 548.8L2884.9 549.7L2886.9 550.5L2888.8 551.5L2890.7 552.4L2892.6 553.4L2894.6 554.4L2896.5 555.5L2898.4 556.6L2900.3 557.8L2902.3 559.1L2904.2 560.3L2906.1 561.7L2908 563.1L2910 564.6L2911.9 566.2L2913.8 567.8L2915.7 569.6L2917.7 571.4L2919.6 573.4L2921.5 575.5L2923.4 577.7L2925.4 580L2927.3 582.5L2929.2 585.2L2931.1 588L2933.1 591.1L2935 594.4L2936.9 597.9L2938.8 601.8L2940.8 606L2942.7 610.5L2944.6 615.5L2946.5 621L2948.5 627.1L2950.4 633.8L2952.3 641.3L2954.2 649.8L2956.2 659.3L2958.1 670.2" fill="none" stroke="#000" stroke-width="1.8" />
<path d="M2936.8 595.9L3039.6 506.6" fill="none" stroke="#000" stroke-width="1.8" />
</g>
<circle cx="2974.1" cy="558" r="3.6" fill="#1763ea" stroke="#0b1a3a" stroke-width="1.3"/>
<path d="M2274.8 670v-4M2274.8 481.5v4M2324.2 670v-4M2324.2 481.5v4M2373.6 670v-4M2373.6 481.5v4M2422.9 670v-4M2422.9 481.5v4M2472.2 670v-4M2472.2 481.5v4" stroke="#000" stroke-width="2.2" fill="none"/>
<path d="M2275 657.9h4M2472.4 657.9h-4M2275 629.2h4M2472.4 629.2h-4M2275 600.5h4M2472.4 600.5h-4M2275 571.8h4M2472.4 571.8h-4M2275 543.1h4M2472.4 543.1h-4M2275 514.4h4M2472.4 514.4h-4M2275 485.7h4M2472.4 485.7h-4" stroke="#000" stroke-width="2.2" fill="none"/>
<path d="M2274.9 670v-2M2274.9 481.5v2M2284.7 670v-2M2284.7 481.5v2M2294.6 670v-2M2294.6 481.5v2M2304.5 670v-2M2304.5 481.5v2M2314.3 670v-2M2314.3 481.5v2M2324.2 670v-2M2324.2 481.5v2M2334.1 670v-2M2334.1 481.5v2M2343.9 670v-2M2343.9 481.5v2M2353.8 670v-2M2353.8 481.5v2M2363.7 670v-2M2363.7 481.5v2M2373.6 670v-2M2373.6 481.5v2M2383.4 670v-2M2383.4 481.5v2M2393.3 670v-2M2393.3 481.5v2M2403.2 670v-2M2403.2 481.5v2M2413 670v-2M2413 481.5v2M2422.9 670v-2M2422.9 481.5v2M2432.8 670v-2M2432.8 481.5v2M2442.6 670v-2M2442.6 481.5v2M2452.5 670v-2M2452.5 481.5v2M2462.4 670v-2M2462.4 481.5v2M2472.2 670v-2M2472.2 481.5v2" stroke="#000" stroke-width="1.6" fill="none"/>
<path d="M2275 669.4h2M2472.4 669.4h-2M2275 663.6h2M2472.4 663.6h-2M2275 657.9h2M2472.4 657.9h-2M2275 652.2h2M2472.4 652.2h-2M2275 646.4h2M2472.4 646.4h-2M2275 640.7h2M2472.4 640.7h-2M2275 634.9h2M2472.4 634.9h-2M2275 629.2h2M2472.4 629.2h-2M2275 623.5h2M2472.4 623.5h-2M2275 617.7h2M2472.4 617.7h-2M2275 612h2M2472.4 612h-2M2275 606.2h2M2472.4 606.2h-2M2275 600.5h2M2472.4 600.5h-2M2275 594.8h2M2472.4 594.8h-2M2275 589h2M2472.4 589h-2M2275 583.3h2M2472.4 583.3h-2M2275 577.5h2M2472.4 577.5h-2M2275 571.8h2M2472.4 571.8h-2M2275 566.1h2M2472.4 566.1h-2M2275 560.3h2M2472.4 560.3h-2M2275 554.6h2M2472.4 554.6h-2M2275 548.8h2M2472.4 548.8h-2M2275 543.1h2M2472.4 543.1h-2M2275 537.4h2M2472.4 537.4h-2M2275 531.6h2M2472.4 531.6h-2M2275 525.9h2M2472.4 525.9h-2M2275 520.1h2M2472.4 520.1h-2M2275 514.4h2M2472.4 514.4h-2M2275 508.7h2M2472.4 508.7h-2M2275 502.9h2M2472.4 502.9h-2M2275 497.2h2M2472.4 497.2h-2M2275 491.4h2M2472.4 491.4h-2M2275 485.7h2M2472.4 485.7h-2" stroke="#000" stroke-width="1.6" fill="none"/>
<rect x="2275" y="481.5" width="197.4" height="188.5" fill="none" stroke="#000" stroke-width="4" stroke-linejoin="round"/>
<path d="M2856 670v-4M2856 481.5v4M2901.9 670v-4M2901.9 481.5v4M2947.8 670v-4M2947.8 481.5v4M2993.7 670v-4M2993.7 481.5v4M3039.6 670v-4M3039.6 481.5v4" stroke="#000" stroke-width="2.2" fill="none"/>
<path d="M2842.6 662.1h4M3039.4 662.1h-4M2842.6 628.3h4M3039.4 628.3h-4M2842.6 594.5h4M3039.4 594.5h-4M2842.6 560.7h4M3039.4 560.7h-4M2842.6 526.9h4M3039.4 526.9h-4M2842.6 493.1h4M3039.4 493.1h-4" stroke="#000" stroke-width="2.2" fill="none"/>
<path d="M2846.8 670v-2M2846.8 481.5v2M2856 670v-2M2856 481.5v2M2865.2 670v-2M2865.2 481.5v2M2874.4 670v-2M2874.4 481.5v2M2883.5 670v-2M2883.5 481.5v2M2892.7 670v-2M2892.7 481.5v2M2901.9 670v-2M2901.9 481.5v2M2911.1 670v-2M2911.1 481.5v2M2920.3 670v-2M2920.3 481.5v2M2929.4 670v-2M2929.4 481.5v2M2938.6 670v-2M2938.6 481.5v2M2947.8 670v-2M2947.8 481.5v2M2957 670v-2M2957 481.5v2M2966.2 670v-2M2966.2 481.5v2M2975.3 670v-2M2975.3 481.5v2M2984.5 670v-2M2984.5 481.5v2M2993.7 670v-2M2993.7 481.5v2M3002.9 670v-2M3002.9 481.5v2M3012.1 670v-2M3012.1 481.5v2M3021.2 670v-2M3021.2 481.5v2M3030.4 670v-2M3030.4 481.5v2M3039.6 670v-2M3039.6 481.5v2" stroke="#000" stroke-width="1.6" fill="none"/>
<path d="M2842.6 668.9h2M3039.4 668.9h-2M2842.6 662.1h2M3039.4 662.1h-2M2842.6 655.3h2M3039.4 655.3h-2M2842.6 648.6h2M3039.4 648.6h-2M2842.6 641.8h2M3039.4 641.8h-2M2842.6 635.1h2M3039.4 635.1h-2M2842.6 628.3h2M3039.4 628.3h-2M2842.6 621.5h2M3039.4 621.5h-2M2842.6 614.8h2M3039.4 614.8h-2M2842.6 608h2M3039.4 608h-2M2842.6 601.3h2M3039.4 601.3h-2M2842.6 594.5h2M3039.4 594.5h-2M2842.6 587.7h2M3039.4 587.7h-2M2842.6 581h2M3039.4 581h-2M2842.6 574.2h2M3039.4 574.2h-2M2842.6 567.5h2M3039.4 567.5h-2M2842.6 560.7h2M3039.4 560.7h-2M2842.6 553.9h2M3039.4 553.9h-2M2842.6 547.2h2M3039.4 547.2h-2M2842.6 540.4h2M3039.4 540.4h-2M2842.6 533.7h2M3039.4 533.7h-2M2842.6 526.9h2M3039.4 526.9h-2M2842.6 520.1h2M3039.4 520.1h-2M2842.6 513.4h2M3039.4 513.4h-2M2842.6 506.6h2M3039.4 506.6h-2M2842.6 499.9h2M3039.4 499.9h-2M2842.6 493.1h2M3039.4 493.1h-2M2842.6 486.3h2M3039.4 486.3h-2" stroke="#000" stroke-width="1.6" fill="none"/>
<rect x="2842.6" y="481.5" width="196.8" height="188.5" fill="none" stroke="#000" stroke-width="4" stroke-linejoin="round"/>
<text x="2284" y="499.8" font-size="17" textLength="20.5" lengthAdjust="spacingAndGlyphs" font-weight="bold" font-family="Liberation Sans" fill="#1763ea" stroke="#1763ea" stroke-width="0.45">SY</text>
<text x="2848.5" y="499.8" font-size="17" textLength="22" lengthAdjust="spacingAndGlyphs" font-weight="bold" font-family="Liberation Sans" fill="#1763ea" stroke="#1763ea" stroke-width="0.45">SY</text>
<text x="2267" y="492.2" font-size="14.8" textLength="23.5" lengthAdjust="spacingAndGlyphs" text-anchor="end" font-weight="bold" font-family="Liberation Sans" stroke="#0a0a0a" stroke-width="0.45">2.0</text>
<text x="2267" y="517.2" font-size="14.8" textLength="23.5" lengthAdjust="spacingAndGlyphs" text-anchor="end" font-weight="bold" font-family="Liberation Sans" stroke="#0a0a0a" stroke-width="0.45">1.5</text>
<text x="2267" y="547.6" font-size="14.8" textLength="23.5" lengthAdjust="spacingAndGlyphs" text-anchor="end" font-weight="bold" font-family="Liberation Sans" stroke="#0a0a0a" stroke-width="0.45">1.0</text>
<text x="2267" y="576.4" font-size="14.8" textLength="23.5" lengthAdjust="spacingAndGlyphs" text-anchor="end" font-weight="bold" font-family="Liberation Sans" stroke="#0a0a0a" stroke-width="0.45">0.5</text>
<text x="2267" y="605.2" font-size="14.8" textLength="23.5" lengthAdjust="spacingAndGlyphs" text-anchor="end" font-weight="bold" font-family="Liberation Sans" stroke="#0a0a0a" stroke-width="0.45">0.0</text>
<text x="2267" y="635.5" font-size="14.8" textLength="32" lengthAdjust="spacingAndGlyphs" text-anchor="end" font-weight="bold" font-family="Liberation Sans" stroke="#0a0a0a" stroke-width="0.45">−0.5</text>
<text x="2267" y="664.2" font-size="14.8" textLength="32" lengthAdjust="spacingAndGlyphs" text-anchor="end" font-weight="bold" font-family="Liberation Sans" stroke="#0a0a0a" stroke-width="0.45">−1.0</text>
<text x="2834" y="499.3" font-size="14.8" textLength="23.5" lengthAdjust="spacingAndGlyphs" text-anchor="end" font-weight="bold" font-family="Liberation Sans" stroke="#0a0a0a" stroke-width="0.45">1.5</text>
<text x="2834" y="532" font-size="14.8" textLength="23.5" lengthAdjust="spacingAndGlyphs" text-anchor="end" font-weight="bold" font-family="Liberation Sans" stroke="#0a0a0a" stroke-width="0.45">1.0</text>
<text x="2834" y="565.5" font-size="14.8" textLength="23.5" lengthAdjust="spacingAndGlyphs" text-anchor="end" font-weight="bold" font-family="Liberation Sans" stroke="#0a0a0a" stroke-width="0.45">0.5</text>
<text x="2834" y="599.7" font-size="14.8" textLength="23.5" lengthAdjust="spacingAndGlyphs" text-anchor="end" font-weight="bold" font-family="Liberation Sans" stroke="#0a0a0a" stroke-width="0.45">0.0</text>
<text x="2834" y="634" font-size="14.8" textLength="32" lengthAdjust="spacingAndGlyphs" text-anchor="end" font-weight="bold" font-family="Liberation Sans" stroke="#0a0a0a" stroke-width="0.45">−0.5</text>
<text x="2834" y="668.2" font-size="14.8" textLength="32" lengthAdjust="spacingAndGlyphs" text-anchor="end" font-weight="bold" font-family="Liberation Sans" stroke="#0a0a0a" stroke-width="0.45">−1.0</text>
<text x="2269.8" y="696.3" font-size="14.8" textLength="36" lengthAdjust="spacingAndGlyphs" text-anchor="middle" font-weight="bold" font-family="Liberation Sans" stroke="#0a0a0a" stroke-width="0.45">−1.5</text>
<text x="2319.2" y="696.3" font-size="14.8" textLength="36" lengthAdjust="spacingAndGlyphs" text-anchor="middle" font-weight="bold" font-family="Liberation Sans" stroke="#0a0a0a" stroke-width="0.45">−1.0</text>
<text x="2368.6" y="696.3" font-size="14.8" textLength="36" lengthAdjust="spacingAndGlyphs" text-anchor="middle" font-weight="bold" font-family="Liberation Sans" stroke="#0a0a0a" stroke-width="0.45">−0.5</text>
<text x="2422.9" y="696.3" font-size="14.8" textLength="23.5" lengthAdjust="spacingAndGlyphs" text-anchor="middle" font-weight="bold" font-family="Liberation Sans" stroke="#0a0a0a" stroke-width="0.45">0.0</text>
<text x="2472.2" y="696.3" font-size="14.8" textLength="23.5" lengthAdjust="spacingAndGlyphs" text-anchor="middle" font-weight="bold" font-family="Liberation Sans" stroke="#0a0a0a" stroke-width="0.45">0.5</text>
<text x="2851" y="696.3" font-size="14.8" textLength="36" lengthAdjust="spacingAndGlyphs" text-anchor="middle" font-weight="bold" font-family="Liberation Sans" stroke="#0a0a0a" stroke-width="0.45">−2.0</text>
<text x="2896.9" y="696.3" font-size="14.8" textLength="36" lengthAdjust="spacingAndGlyphs" text-anchor="middle" font-weight="bold" font-family="Liberation Sans" stroke="#0a0a0a" stroke-width="0.45">−1.5</text>
<text x="2942.8" y="696.3" font-size="14.8" textLength="36" lengthAdjust="spacingAndGlyphs" text-anchor="middle" font-weight="bold" font-family="Liberation Sans" stroke="#0a0a0a" stroke-width="0.45">−1.0</text>
<text x="2988.7" y="696.3" font-size="14.8" textLength="36" lengthAdjust="spacingAndGlyphs" text-anchor="middle" font-weight="bold" font-family="Liberation Sans" stroke="#0a0a0a" stroke-width="0.45">−0.5</text>
<text x="3039.6" y="696.3" font-size="14.8" textLength="23.5" lengthAdjust="spacingAndGlyphs" text-anchor="middle" font-weight="bold" font-family="Liberation Sans" stroke="#0a0a0a" stroke-width="0.45">0.0</text>
<text x="2373.5" y="716.3" font-size="14.5" textLength="182" lengthAdjust="spacingAndGlyphs" text-anchor="middle" font-weight="bold" font-family="Liberation Sans" stroke="#0a0a0a" stroke-width="0.45">log([NII] λ 6583/Hα)</text>
<text x="2940.5" y="716.3" font-size="14.5" textLength="176" lengthAdjust="spacingAndGlyphs" text-anchor="middle" font-weight="bold" font-family="Liberation Sans" stroke="#0a0a0a" stroke-width="0.45">log([OI] λ 6300/Hα)</text>
<text transform="translate(2216.5 576) rotate(-90)" font-size="14.5" textLength="186" lengthAdjust="spacingAndGlyphs" text-anchor="middle" font-weight="bold" font-family="Liberation Sans" stroke="#0a0a0a" stroke-width="0.45">log([OIII] λ 5007/Hβ)</text>
<text transform="translate(2782.5 576) rotate(-90)" font-size="14.5" textLength="186" lengthAdjust="spacingAndGlyphs" text-anchor="middle" font-weight="bold" font-family="Liberation Sans" stroke="#0a0a0a" stroke-width="0.45">log([OIII] λ 5007/Hβ)</text>
<defs>
<clipPath id="kp3"><rect x="290.2" y="1079.3" width="708" height="602.7"/></clipPath>
<clipPath id="kp4"><rect x="1197.8" y="1079.3" width="707.4" height="602.7"/></clipPath>
<clipPath id="kp5"><rect x="2104.6" y="1079.3" width="989.4" height="602.7"/></clipPath>
</defs>
<g clip-path="url(#kp3)">
<path d="M873.7 1472.8h0.1M873.3 1518h0.1M875.4 1501.4h0.1M875.1 1505.4h0.1M876.2 1521.3h0.1M875.6 1520.8h0.1M877.2 1575.8h0.1M877.8 1579.5h0.1M878.3 1575.2h0.1M878.2 1566.5h0.1M880.3 1580.1h0.1M879.8 1558.1h0.1M881.6 1561.5h0.1M880.8 1562.7h0.1M882.9 1593.5h0.1M881.9 1576.8h0.1M883.4 1613.9h0.1M883.6 1578h0.1M885.4 1573.1h0.1M884.5 1581.7h0.1M886.5 1562.8h0.1M886.7 1563.4h0.1M887.5 1574.1h0.1M887 1572.2h0.1M889.2 1575.4h0.1M888.3 1583.5h0.1M889.9 1594.6h0.1M890.2 1558.9h0.1M891.6 1590.9h0.1M891.5 1570.1h0.1M892.7 1580.7h0.1M892.9 1584.6h0.1M893.7 1596.5h0.1M893.2 1609.8h0.1M894.5 1570.4h0.1M894.6 1570.3h0.1M896.4 1549.1h0.1M896.6 1574.6h0.1M897.5 1574.1h0.1M897.9 1565.8h0.1M898.9 1573.6h0.1M898.2 1585.3h0.1M899.9 1565h0.1M899.4 1544.2h0.1M900.8 1523.9h0.1M901 1506.6h0.1M902.8 1527.7h0.1M902.2 1511.1h0.1M903.7 1510.3h0.1M904.1 1510.7h0.1M905 1513h0.1M904.8 1491.5h0.1M906.1 1512.4h0.1M906.1 1500.6h0.1M907.4 1475.9h0.1M907 1473.3h0.1M909 1501.4h0.1M908.8 1479.4h0.1M910.5 1487h0.1M910.5 1499h0.1M911.9 1492.4h0.1M911.4 1492.9h0.1M912.7 1484.3h0.1M912.2 1477.6h0.1M913.9 1542.3h0.1M913.3 1544.5h0.1M915.6 1523.8h0.1M915.6 1529.4h0.1M916.4 1514.6h0.1M916.8 1503.7h0.1M917.6 1524.4h0.1M917.8 1539.2h0.1M918.9 1519.6h0.1M919.5 1516h0.1M920.1 1494.9h0.1M920 1503.3h0.1M921.2 1507.1h0.1M921 1524h0.1M922.6 1537.1h0.1M922.8 1545.8h0.1M923.7 1542.8h0.1M923.9 1561.7h0.1M925.1 1535.9h0.1M925 1537.7h0.1M926.2 1533.9h0.1M926.1 1537.5h0.1M928.1 1544.7h0.1M928.3 1574h0.1M928.9 1531.9h0.1M928.5 1514.1h0.1M930.7 1540.7h0.1M930.2 1552.6h0.1M931.9 1553.6h0.1M932.1 1527.7h0.1M932.7 1539.7h0.1M933.2 1555.9h0.1M934.6 1505.7h0.1M934.2 1539.5h0.1M935.5 1514.5h0.1M935.2 1481.6h0.1M937.1 1495.5h0.1M936.3 1517.9h0.1M937.3 1494.9h0.1M938.2 1493h0.1M939.4 1547.3h0.1M939 1517.4h0.1M940.4 1505.4h0.1M939.7 1509.2h0.1M941.6 1518.9h0.1M941.2 1550.3h0.1M943 1583.1h0.1M943.2 1564.9h0.1M944.4 1574.6h0.1M944.6 1553.9h0.1M945.7 1545.5h0.1M944.7 1555.5h0.1M946.8 1548.1h0.1M947 1560.2h0.1M947.5 1576.5h0.1M948.4 1590.5h0.1M948.8 1566.6h0.1M948.8 1574h0.1M950.4 1582.6h0.1M950.3 1585h0.1M951.6 1562.7h0.1M951.2 1572.4h0.1M952.7 1573.6h0.1M953.3 1585.2h0.1M953.5 1578.2h0.1M954 1573.3h0.1M955.2 1548h0.1M955.3 1568.8h0.1M956.3 1555.9h0.1M956.6 1576.4h0.1M957.4 1566h0.1M957.5 1568.5h0.1M959.3 1547.4h0.1M958.7 1554.3h0.1M960.7 1572.3h0.1M959.8 1582.1h0.1M962.1 1581.9h0.1M961.2 1597.2h0.1M963.1 1570.6h0.1M963.4 1606.7h0.1M964.4 1586.1h0.1M963.7 1577.2h0.1M965.3 1554.8h0.1M965.8 1579.1h0.1M966.9 1577.3h0.1M966.9 1559.5h0.1M968.1 1583h0.1M967.7 1583.3h0.1M968.9 1556.9h0.1M969.2 1564.3h0.1M970.1 1568.1h0.1M971 1572.5h0.1M972 1562.1h0.1M971.1 1575.9h0.1M973.2 1578.8h0.1M972.6 1548.4h0.1M974.4 1582.6h0.1M974.6 1604.6h0.1M975.5 1587h0.1M975.2 1582.6h0.1M976.9 1587.8h0.1M976.5 1588.2h0.1M977.6 1594.7h0.1M977.4 1583.4h0.1M979.8 1580.3h0.1M979.6 1601.6h0.1M980.8 1599.3h0.1M980.2 1574.9h0.1M981.3 1609.1h0.1M981.9 1620.1h0.1M983 1598.5h0.1M983.5 1619.9h0.1M984 1607.7h0.1M984.1 1596.8h0.1M985.9 1602.7h0.1M985 1607.6h0.1M987.2 1586h0.1M986.3 1610.8h0.1M988.2 1599.5h0.1M987.5 1601.8h0.1M989.3 1593.6h0.1M989.9 1596.4h0.1M990.8 1583.8h0.1M990.9 1576.9h0.1M992.2 1599.5h0.1M991.4 1619.6h0.1M992.8 1575.7h0.1M993.3 1583h0.1M994 1612.4h0.1M994.1 1628h0.1M996.2 1594.3h0.1M995.9 1611.1h0.1M996.7 1628.2h0.1M996.5 1632.6h0.1M998.3 1608.1h0.1M998.1 1584.9h0.1" stroke="#111" stroke-width="2.6" stroke-linecap="round" fill="none"/>
<path d="M873.6 1515.2H998.2" stroke="#0a0a0a" stroke-width="4.6" fill="none" stroke-dasharray="4.6 10.2"/>
<path d="M873.6 1284.7L874.9 1280.4L876.1 1260.1L877.4 1319.8L878.6 1304.9L879.9 1269.8L881.1 1278.2L882.4 1285.1L883.7 1301.5L884.9 1277.8L886.2 1261.1L887.4 1273.7L888.7 1278.3L890 1287.9L891.2 1301.6L892.5 1303.5L893.7 1312.5L895 1303.8L896.2 1320.2L897.5 1324.3L898.8 1341.9L900 1329.8L901.3 1348.2L902.5 1348.4L903.8 1359L905 1364.5L906.3 1383.3L907.6 1377.4L908.8 1368L910.1 1341L911.3 1323.5L912.6 1302.1L913.9 1303L915.1 1277.8L916.4 1257.9L917.6 1259.7L918.9 1240.3L920.1 1222.4L921.4 1240.7L922.7 1261.1L923.9 1289.7L925.2 1288.7L926.4 1292.4L927.7 1320.4L929 1317.6L930.2 1343L931.5 1348.7L932.7 1350L934 1340.7L935.2 1323.1L936.5 1338L937.8 1305.8L939 1301.4L940.3 1285.5L941.5 1284.6L942.8 1283.4L944 1260.3L945.3 1254.2L946.6 1246.8L947.8 1252.2L949.1 1244.2L950.3 1246.4L951.6 1237.6L952.9 1233.5L954.1 1231L955.4 1220L956.6 1206.4L957.9 1207.2L959.1 1200.9L960.4 1224.7L961.7 1227.2L962.9 1215.2L964.2 1216.7L965.4 1197.6L966.7 1197.6L967.9 1208.9L969.2 1180.6L970.5 1186.8L971.7 1186.2L973 1178.5L974.2 1204.8L975.5 1193.1L976.8 1202.3L978 1201.2L979.3 1216.1L980.5 1209.2L981.8 1227.9L983 1241.2L984.3 1214.8L985.6 1221.8L986.8 1214.4L988.1 1210.2L989.3 1207.3L990.6 1195L991.9 1210.9L993.1 1203L994.4 1228.2L995.6 1221L996.9 1236.9L998.1 1214" fill="none" stroke="#0a0a0a" stroke-width="5" stroke-linejoin="miter" stroke-miterlimit="3"/>
<path d="M873.6 1300.5L874.9 1281.2L876.1 1251.3L877.4 1245L878.6 1240.7L879.9 1234.2L881.1 1227.7L882.4 1223.4L883.7 1222.3L884.9 1219.5L886.2 1215.4L887.4 1211.9L888.7 1210.7L890 1215.5L891.2 1224.3L892.5 1231.8L893.7 1234.5L895 1245L896.2 1259.9L897.5 1270.5L898.8 1277.2L900 1302L901.3 1331.2L902.5 1347.4L903.8 1355.2L905 1375.1L906.3 1394.9L907.6 1402.2L908.8 1384L910.1 1355.1L911.3 1340.1L912.6 1321.7L913.9 1286.4L915.1 1264.3L916.4 1257.5L917.6 1244.6L918.9 1240.7L920.1 1237.6L921.4 1235L922.7 1240L923.9 1253.2L925.2 1266.5L926.4 1271.7L927.7 1281.4L929 1298.9L930.2 1313.8L931.5 1318L932.7 1325.6L934 1336.3L935.2 1343.9L936.5 1338.6L937.8 1314L939 1290.7L940.3 1281.9L941.5 1253.8L942.8 1224L944 1216L945.3 1208.8L946.6 1197.8L947.8 1187.6L949.1 1183.2L950.3 1180.6L951.6 1174.6L952.9 1168L954.1 1163.8L955.4 1162.9L956.6 1160.5L957.9 1157.5L959.1 1155L960.4 1154.2L961.7 1152.4L962.9 1149.5L964.2 1146.6L965.4 1145.1L966.7 1143.6L967.9 1139.8L969.2 1135.9L970.5 1134.4L971.7 1132.8L973 1129.9L974.2 1127.4L975.5 1127L976.8 1128.2L978 1130L979.3 1131.3L980.5 1131.6L981.8 1132.6L983 1133.8L984.3 1134.4L985.6 1132.6L986.8 1127.6L988.1 1122.6L989.3 1120.8L990.6 1123.7L991.9 1129L993.1 1133.4L994.4 1134.1L995.6 1130.7L996.9 1126.6L998.1 1125.3" fill="none" stroke="#f5222a" stroke-width="4.6" stroke-dasharray="23 10 8 10" stroke-linejoin="round"/>
<path d="M291 1669.6L291.8 1669.6L292.6 1669.6L293.3 1669.6L294.1 1669.6L294.9 1669.6L295.7 1669.6L296.5 1669.6L297.3 1669.6L298.1 1669.6L298.9 1669.6L299.6 1669.6L300.4 1669.6L301.2 1669.6L302 1669.6L302.8 1669.6L303.6 1669.6L304.4 1669.6L305.1 1669.6L305.9 1669.6L306.7 1669.6L307.5 1669.6L308.3 1669.6L309.1 1669.6L309.9 1669.6L310.6 1669.6L311.4 1669.6L312.2 1669.6L313 1669.6L313.8 1669.6L314.6 1669.6L315.4 1669.6L316.1 1669.6L316.9 1669.6L317.7 1669.6L318.5 1669.6L319.3 1669.6L320.1 1669.6L320.9 1669.6L321.7 1669.6L322.4 1669.6L323.2 1669.6L324 1669.6L324.8 1669.6L325.6 1669.6L326.4 1669.6L327.2 1669.6L327.9 1669.6L328.7 1669.6L329.5 1669.6L330.3 1669.6L331.1 1669.6L331.9 1669.6L332.7 1669.6L333.4 1669.6L334.2 1669.6L335 1669.6L335.8 1669.6L336.6 1669.6L337.4 1669.6L338.2 1669.6L338.9 1669.6L339.7 1669.6L340.5 1669.6L341.3 1669.6L342.1 1669.6L342.9 1669.6L343.7 1669.6L344.5 1669.6L345.2 1669.6L346 1669.6L346.8 1669.6L347.6 1669.6L348.4 1669.6L349.2 1669.6L350 1669.6L350.7 1669.6L351.5 1669.6L352.3 1669.6L353.1 1669.6L353.9 1669.6L354.7 1669.6L355.5 1669.6L356.2 1669.6L357 1669.6L357.8 1669.6L358.6 1669.6L359.4 1669.6L360.2 1669.6L361 1669.6L361.8 1669.6L362.5 1669.6L363.3 1669.6L364.1 1669.6L364.9 1669.6L365.7 1669.6L366.5 1669.6L367.3 1669.6L368 1669.6L368.8 1669.6L369.6 1669.6L370.4 1669.6L371.2 1669.6L372 1669.6L372.8 1669.6L373.5 1669.6L374.3 1669.6L375.1 1669.6L375.9 1669.6L376.7 1669.6L377.5 1669.6L378.3 1669.6L379 1669.6L379.8 1669.6L380.6 1669.6L381.4 1669.6L382.2 1669.6L383 1669.6L383.8 1669.6L384.6 1669.6L385.3 1669.6L386.1 1669.6L386.9 1669.6L387.7 1669.6L388.5 1669.6L389.3 1669.6L390.1 1669.6L390.8 1669.6L391.6 1669.6L392.4 1669.6L393.2 1669.6L394 1669.6L394.8 1669.6L395.6 1669.6L396.3 1669.6L397.1 1669.6L397.9 1669.6L398.7 1669.6L399.5 1669.6L400.3 1669.6L401.1 1669.6L401.8 1669.6L402.6 1669.6L403.4 1669.6L404.2 1669.6L405 1669.6L405.8 1669.6L406.6 1669.6L407.4 1669.6L408.1 1669.6L408.9 1669.6L409.7 1669.6L410.5 1669.6L411.3 1669.6L412.1 1669.6L412.9 1669.6L413.6 1669.6L414.4 1669.6L415.2 1669.6L416 1669.6L416.8 1669.6L417.6 1669.6L418.4 1669.6L419.1 1669.6L419.9 1669.6L420.7 1669.6L421.5 1669.6L422.3 1669.6L423.1 1669.6L423.9 1669.6L424.6 1669.6L425.4 1669.6L426.2 1669.6L427 1669.6L427.8 1669.6L428.6 1669.6L429.4 1669.6L430.2 1669.6L430.9 1669.6L431.7 1669.6L432.5 1669.6L433.3 1669.6L434.1 1669.6L434.9 1669.6L435.7 1669.6L436.4 1669.6L437.2 1669.6L438 1669.6L438.8 1669.6L439.6 1669.6L440.4 1669.6L441.2 1669.6L441.9 1669.6L442.7 1669.6L443.5 1669.6L444.3 1669.6L445.1 1669.6L445.9 1669.6L446.7 1669.6L447.5 1669.6L448.2 1669.6L449 1669.6L449.8 1669.6L450.6 1669.6L451.4 1669.6L452.2 1669.6L453 1669.6L453.7 1669.6L454.5 1669.6L455.3 1669.6L456.1 1669.6L456.9 1669.6L457.7 1669.6L458.5 1669.6L459.2 1669.6L460 1669.6L460.8 1669.6L461.6 1669.6L462.4 1669.6L463.2 1669.6L464 1669.6L464.7 1669.6L465.5 1669.6L466.3 1669.6L467.1 1669.6L467.9 1669.6L468.7 1669.6L469.5 1669.6L470.3 1669.6L471 1669.6L471.8 1669.6L472.6 1669.6L473.4 1669.6L474.2 1669.6L475 1669.6L475.8 1669.6L476.5 1669.6L477.3 1669.6L478.1 1669.6L478.9 1669.6L479.7 1669.6L480.5 1669.6L481.3 1669.6L482 1669.6L482.8 1669.6L483.6 1669.6L484.4 1669.6L485.2 1669.6L486 1669.6L486.8 1669.6L487.6 1669.6L488.3 1669.6L489.1 1669.6L489.9 1669.6L490.7 1669.6L491.5 1669.6L492.3 1669.6L493.1 1669.6L493.8 1669.6L494.6 1669.6L495.4 1669.6L496.2 1669.6L497 1669.6L497.8 1669.6L498.6 1669.6L499.3 1669.6L500.1 1669.6L500.9 1669.6L501.7 1669.6L502.5 1669.6L503.3 1669.6L504.1 1669.6L504.8 1669.6L505.6 1669.6L506.4 1669.6L507.2 1669.6L508 1669.6L508.8 1669.6L509.6 1669.6L510.4 1669.6L511.1 1669.6L511.9 1669.6L512.7 1669.6L513.5 1669.6L514.3 1669.6L515.1 1669.6L515.9 1669.6L516.6 1669.6L517.4 1669.6L518.2 1669.6L519 1669.6L519.8 1669.6L520.6 1669.6L521.4 1669.6L522.1 1669.6L522.9 1669.6L523.7 1669.6L524.5 1669.6L525.3 1669.6L526.1 1669.6L526.9 1669.6L527.6 1669.6L528.4 1669.6L529.2 1669.6L530 1669.6L530.8 1669.6L531.6 1669.6L532.4 1669.6L533.2 1669.6L533.9 1669.6L534.7 1669.6L535.5 1669.6L536.3 1669.6L537.1 1669.6L537.9 1669.6L538.7 1669.6L539.4 1669.6L540.2 1669.6L541 1669.6L541.8 1669.6L542.6 1669.6L543.4 1669.6L544.2 1669.6L544.9 1669.6L545.7 1669.6L546.5 1669.6L547.3 1669.6L548.1 1669.6L548.9 1669.6L549.7 1669.6L550.5 1669.6L551.2 1669.6L552 1669.6L552.8 1669.6L553.6 1669.6L554.4 1669.6L555.2 1669.6L556 1669.6L556.7 1669.6L557.5 1669.6L558.3 1669.6L559.1 1669.6L559.9 1669.6L560.7 1669.6L561.5 1669.6L562.2 1669.6L563 1669.6L563.8 1669.6L564.6 1669.6L565.4 1669.6L566.2 1669.6L567 1669.6L567.7 1669.6L568.5 1669.6L569.3 1669.6L570.1 1669.6L570.9 1669.6L571.7 1669.6L572.5 1669.6L573.3 1669.6L574 1669.6L574.8 1669.6L575.6 1669.6L576.4 1669.6L577.2 1669.6L578 1669.6L578.8 1669.6L579.5 1669.6L580.3 1669.6L581.1 1669.6L581.9 1669.6L582.7 1669.6L583.5 1669.6L584.3 1669.6L585 1669.6L585.8 1669.6L586.6 1669.6L587.4 1669.6L588.2 1669.6L589 1669.6L589.8 1669.6L590.5 1669.6L591.3 1669.6L592.1 1669.6L592.9 1669.6L593.7 1669.6L594.5 1669.6L595.3 1669.6L596.1 1669.6L596.8 1669.6L597.6 1669.6L598.4 1669.6L599.2 1669.6L600 1669.6L600.8 1669.6L601.6 1669.6L602.3 1669.6L603.1 1669.6L603.9 1669.6L604.7 1669.6L605.5 1669.6L606.3 1669.6L607.1 1669.6L607.8 1669.6L608.6 1669.6L609.4 1669.6L610.2 1669.6L611 1669.6L611.8 1669.6L612.6 1669.6L613.4 1669.6L614.1 1669.6L614.9 1669.6L615.7 1669.6L616.5 1669.6L617.3 1669.6L618.1 1669.6L618.9 1669.6L619.6 1669.6L620.4 1669.6L621.2 1669.6L622 1669.6L622.8 1669.6L623.6 1669.6L624.4 1669.6L625.1 1669.6L625.9 1669.6L626.7 1669.6L627.5 1669.6L628.3 1669.6L629.1 1669.6L629.9 1669.6L630.6 1669.6L631.4 1669.6L632.2 1669.6L633 1669.6L633.8 1669.6L634.6 1669.6L635.4 1669.6L636.2 1669.6L636.9 1669.6L637.7 1669.6L638.5 1669.6L639.3 1669.6L640.1 1669.6L640.9 1669.6L641.7 1669.6L642.4 1669.6L643.2 1669.6L644 1669.6L644.8 1669.6L645.6 1669.6L646.4 1669.6L647.2 1669.6L647.9 1669.6L648.7 1669.6L649.5 1669.6L650.3 1669.6L651.1 1669.6L651.9 1669.6L652.7 1669.6L653.4 1669.6L654.2 1669.6L655 1669.6L655.8 1669.6L656.6 1669.6L657.4 1669.6L658.2 1669.6L659 1669.6L659.7 1669.6L660.5 1669.6L661.3 1669.6L662.1 1669.6L662.9 1669.6L663.7 1669.6L664.5 1669.6L665.2 1669.6L666 1669.6L666.8 1669.6L667.6 1669.6L668.4 1669.6L669.2 1669.6L670 1669.6L670.7 1669.6L671.5 1669.6L672.3 1669.6L673.1 1669.6L673.9 1669.6L674.7 1669.6L675.5 1669.6L676.2 1669.6L677 1669.6L677.8 1669.6L678.6 1669.6L679.4 1669.6L680.2 1669.6L681 1669.6L681.8 1669.6L682.5 1669.6L683.3 1669.6L684.1 1669.6L684.9 1669.6L685.7 1669.6L686.5 1669.6L687.3 1669.6L688 1669.6L688.8 1669.6L689.6 1669.6L690.4 1669.6L691.2 1669.6L692 1669.6L692.8 1669.6L693.5 1669.6L694.3 1669.6L695.1 1669.6L695.9 1669.6L696.7 1669.6L697.5 1669.6L698.3 1669.6L699.1 1669.6L699.8 1669.6L700.6 1669.6L701.4 1669.6L702.2 1669.6L703 1669.6L703.8 1669.6L704.6 1669.6L705.3 1669.6L706.1 1669.6L706.9 1669.6L707.7 1669.6L708.5 1669.6L709.3 1669.6L710.1 1669.6L710.8 1669.6L711.6 1669.6L712.4 1669.6L713.2 1669.6L714 1669.6L714.8 1669.6L715.6 1669.6L716.3 1669.6L717.1 1669.6L717.9 1669.6L718.7 1669.6L719.5 1669.6L720.3 1669.6L721.1 1669.6L721.9 1669.6L722.6 1669.6L723.4 1669.6L724.2 1669.6L725 1669.6L725.8 1669.6L726.6 1669.6L727.4 1669.6L728.1 1669.6L728.9 1669.6L729.7 1669.6L730.5 1669.6L731.3 1669.6L732.1 1669.6L732.9 1669.6L733.6 1669.6L734.4 1669.6L735.2 1669.6L736 1669.6L736.8 1669.6L737.6 1669.6L738.4 1669.6L739.2 1669.6L739.9 1669.6L740.7 1669.6L741.5 1669.6L742.3 1669.6L743.1 1669.6L743.9 1669.6L744.7 1669.6L745.4 1669.6L746.2 1669.6L747 1669.6L747.8 1669.6L748.6 1669.6L749.4 1669.6L750.2 1669.6L750.9 1669.6L751.7 1669.6L752.5 1669.6L753.3 1669.6L754.1 1669.6L754.9 1669.6L755.7 1669.6L756.4 1669.6L757.2 1669.6L758 1669.6L758.8 1669.6L759.6 1669.6L760.4 1669.6L761.2 1669.6L762 1669.6L762.7 1669.6L763.5 1669.6L764.3 1669.6L765.1 1669.6L765.9 1669.6L766.7 1669.6L767.5 1669.6L768.2 1669.6L769 1669.6L769.8 1669.6L770.6 1669.6L771.4 1669.6L772.2 1669.6L773 1669.6L773.7 1669.6L774.5 1669.6L775.3 1669.6L776.1 1669.6L776.9 1669.6L777.7 1669.6L778.5 1669.6L779.2 1669.6L780 1669.6L780.8 1669.6L781.6 1669.6L782.4 1669.6L783.2 1669.6L784 1669.6L784.8 1669.6L785.5 1669.6L786.3 1669.6L787.1 1669.6L787.9 1669.6L788.7 1669.6L789.5 1669.6L790.3 1669.6L791 1669.6L791.8 1669.6L792.6 1669.6L793.4 1669.6L794.2 1669.6L795 1669.6L795.8 1669.6L796.5 1669.6L797.3 1669.6L798.1 1669.6L798.9 1669.6L799.7 1669.6L800.5 1669.6L801.3 1669.6L802 1669.6L802.8 1669.6L803.6 1669.6L804.4 1669.6L805.2 1669.6L806 1669.6L806.8 1669.6L807.6 1669.6L808.3 1669.6L809.1 1669.6L809.9 1669.6L810.7 1669.6L811.5 1669.6L812.3 1669.6L813.1 1669.6L813.8 1669.6L814.6 1669.6L815.4 1669.6L816.2 1669.6L817 1669.6L817.8 1669.6L818.6 1669.6L819.3 1669.6L820.1 1669.6L820.9 1669.6L821.7 1669.6L822.5 1669.6L823.3 1669.6L824.1 1669.6L824.9 1669.6L825.6 1669.6L826.4 1669.6L827.2 1669.6L828 1669.6L828.8 1669.6L829.6 1669.6L830.4 1669.6L831.1 1669.6L831.9 1669.6L832.7 1669.6L833.5 1669.6L834.3 1669.6L835.1 1669.6L835.9 1669.6L836.6 1669.6L837.4 1669.6L838.2 1669.6L839 1669.6L839.8 1669.6L840.6 1669.6L841.4 1669.6L842.1 1669.6L842.9 1669.6L843.7 1669.6L844.5 1669.6L845.3 1669.6L846.1 1669.6L846.9 1669.6L847.7 1669.6L848.4 1669.6L849.2 1669.6L850 1669.6L850.8 1669.6L851.6 1669.6L852.4 1669.6L853.2 1669.6L853.9 1669.6L854.7 1669.6L855.5 1669.6L856.3 1669.6L857.1 1669.6L857.9 1669.6L858.7 1669.6L859.4 1669.6L860.2 1669.5L861 1669.5L861.8 1669.4L862.6 1669.2L863.4 1668.8L864.2 1668.3L865 1667.5L865.7 1666.4L866.5 1665L867.3 1663.2L868.1 1661.2L868.9 1659.2L869.7 1657.2L870.5 1655.6L871.2 1654.5L872 1654.1L872.8 1654.5L873.6 1655.6L874.4 1657.2L875.2 1659.2L876 1661.2L876.7 1663.2L877.5 1665L878.3 1666.4L879.1 1667.5L879.9 1668.3L880.7 1668.8L881.5 1669.2L882.2 1669.4L883 1669.5L883.8 1669.5L884.6 1669.6L885.4 1669.6L886.2 1669.6L887 1669.6L887.8 1669.6L888.5 1669.6L889.3 1669.6L890.1 1669.6L890.9 1669.6L891.7 1669.6L892.5 1669.6L893.3 1669.6L894 1669.6L894.8 1669.6L895.6 1669.6L896.4 1669.6L897.2 1669.6L898 1669.6L898.8 1669.6L899.5 1669.6L900.3 1669.6L901.1 1669.6L901.9 1669.6L902.7 1669.6L903.5 1669.6L904.3 1669.6L905 1669.6L905.8 1669.6L906.6 1669.6L907.4 1669.6L908.2 1669.6L909 1669.6L909.8 1669.6L910.6 1669.6L911.3 1669.6L912.1 1669.6L912.9 1669.6L913.7 1669.6L914.5 1669.6L915.3 1669.6L916.1 1669.6L916.8 1669.6L917.6 1669.6L918.4 1669.6L919.2 1669.6L920 1669.6L920.8 1669.6L921.6 1669.6L922.3 1669.6L923.1 1669.6L923.9 1669.6L924.7 1669.6L925.5 1669.6L926.3 1669.6L927.1 1669.6L927.8 1669.6L928.6 1669.6L929.4 1669.6L930.2 1669.6L931 1669.6L931.8 1669.6L932.6 1669.6L933.4 1669.6L934.1 1669.6L934.9 1669.6L935.7 1669.6L936.5 1669.6L937.3 1669.6L938.1 1669.6L938.9 1669.6L939.6 1669.6L940.4 1669.6L941.2 1669.6L942 1669.6L942.8 1669.6L943.6 1669.6L944.4 1669.6L945.1 1669.6L945.9 1669.6L946.7 1669.6L947.5 1669.6L948.3 1669.6L949.1 1669.6L949.9 1669.6L950.7 1669.6L951.4 1669.6L952.2 1669.6L953 1669.6L953.8 1669.6L954.6 1669.6L955.4 1669.6L956.2 1669.6L956.9 1669.6L957.7 1669.6L958.5 1669.6L959.3 1669.6L960.1 1669.6L960.9 1669.6L961.7 1669.6L962.4 1669.6L963.2 1669.6L964 1669.6L964.8 1669.6L965.6 1669.6L966.4 1669.6L967.2 1669.6L967.9 1669.6L968.7 1669.6L969.5 1669.6L970.3 1669.6L971.1 1669.6L971.9 1669.6L972.7 1669.6L973.5 1669.6L974.2 1669.6L975 1669.6L975.8 1669.6L976.6 1669.6L977.4 1669.6L978.2 1669.6L979 1669.6L979.7 1669.6L980.5 1669.6L981.3 1669.6L982.1 1669.6L982.9 1669.6L983.7 1669.6L984.5 1669.6L985.2 1669.6L986 1669.6L986.8 1669.6L987.6 1669.6L988.4 1669.6L989.2 1669.6L990 1669.6L990.8 1669.6L991.5 1669.6L992.3 1669.6L993.1 1669.6L993.9 1669.6L994.7 1669.6L995.5 1669.6L996.3 1669.6L997 1669.6L997.8 1669.6L998.6 1669.6" fill="none" stroke="#1763ea" stroke-width="4.5" stroke-linejoin="round"/>
<path d="M912.1 1669.6L912.9 1669.6L913.7 1669.6L914.5 1669.6L915.3 1669.6L916.1 1669.6L916.8 1669.6L917.6 1669.6L918.4 1669.6L919.2 1669.6L920 1669.6L920.8 1669.6L921.6 1669.6L922.3 1669.5L923.1 1669.4L923.9 1669.1L924.7 1668.7L925.5 1667.9L926.3 1666.7L927.1 1664.7L927.8 1661.9L928.6 1658.1L929.4 1653.5L930.2 1648.2L931 1642.7L931.8 1637.8L932.6 1633.9L933.4 1631.9L934.1 1631.9L934.9 1633.9L935.7 1637.8L936.5 1642.7L937.3 1648.2L938.1 1653.5L938.9 1658.1L939.6 1661.9L940.4 1664.7L941.2 1666.7L942 1667.9L942.8 1668.7L943.6 1669.1L944.4 1669.4L945.1 1669.5L945.9 1669.6L946.7 1669.6L947.5 1669.6L948.3 1669.6L949.1 1669.6L949.9 1669.6L950.7 1669.6L951.4 1669.6L952.2 1669.6L953 1669.6L953.8 1669.6L954.6 1669.6L955.4 1669.6L956.2 1669.6L956.9 1669.6L957.7 1669.6L958.5 1669.6L959.3 1669.6" fill="none" stroke="#1763ea" stroke-width="4.5" stroke-linejoin="round"/>
<path d="M912.1 1669.6L912.9 1669.6L913.7 1669.6L914.5 1669.6L915.3 1669.6L916.1 1669.6L916.8 1669.6L917.6 1669.6L918.4 1669.6L919.2 1669.6L920 1669.6L920.8 1669.6L921.6 1669.6L922.3 1669.6L923.1 1669.6L923.9 1669.5L924.7 1669.5L925.5 1669.4L926.3 1669.1L927.1 1668.6L927.8 1667.8L928.6 1666.6L929.4 1664.7L930.2 1662.1L931 1658.8L931.8 1654.8L932.6 1650.5L933.4 1646.4L934.1 1642.8L934.9 1640.4L935.7 1639.6L936.5 1640.4L937.3 1642.8L938.1 1646.4L938.9 1650.5L939.6 1654.8L940.4 1658.8L941.2 1662.1L942 1664.7L942.8 1666.6L943.6 1667.8L944.4 1668.6L945.1 1669.1L945.9 1669.4L946.7 1669.5L947.5 1669.5L948.3 1669.6L949.1 1669.6L949.9 1669.6L950.7 1669.6L951.4 1669.6L952.2 1669.6L953 1669.6L953.8 1669.6L954.6 1669.6L955.4 1669.6L956.2 1669.6L956.9 1669.6L957.7 1669.6L958.5 1669.6L959.3 1669.6" fill="none" stroke="#1763ea" stroke-width="4.5" stroke-linejoin="round"/>
</g>
<path d="M872 1091V1209" stroke="#111" stroke-width="1.9" fill="none" stroke-dasharray="4.8 11.7"/>
<path d="M933 1091V1236" stroke="#111" stroke-width="1.9" fill="none" stroke-dasharray="4.8 11.7"/>
<path d="M936.5 1091V1208" stroke="#111" stroke-width="1.9" fill="none" stroke-dasharray="4.8 11.7"/>
<text transform="translate(886.8 1252.5) rotate(-90)" font-size="36" textLength="40.5" lengthAdjust="spacingAndGlyphs" stroke="#0a0a0a" stroke-width="0.5">Hζ</text>
<text transform="translate(928.5 1198.6) rotate(-90)" font-size="36" textLength="96" lengthAdjust="spacingAndGlyphs" stroke="#0a0a0a" stroke-width="0.5">[NeIII]</text>
<text transform="translate(949 1250) rotate(-90)" font-size="36" textLength="39" lengthAdjust="spacingAndGlyphs" stroke="#0a0a0a" stroke-width="0.5">Hε</text>
<path d="M330.3 1682v-12M330.3 1079.3v12M487.6 1682v-12M487.6 1079.3v12M644.8 1682v-12M644.8 1079.3v12M802 1682v-12M802 1079.3v12M959.3 1682v-12M959.3 1079.3v12" stroke="#000" stroke-width="4" fill="none"/>
<path d="M291 1682v-6M291 1079.3v6M330.3 1682v-6M330.3 1079.3v6M369.6 1682v-6M369.6 1079.3v6M408.9 1682v-6M408.9 1079.3v6M448.2 1682v-6M448.2 1079.3v6M487.6 1682v-6M487.6 1079.3v6M526.9 1682v-6M526.9 1079.3v6M566.2 1682v-6M566.2 1079.3v6M605.5 1682v-6M605.5 1079.3v6M644.8 1682v-6M644.8 1079.3v6M684.1 1682v-6M684.1 1079.3v6M723.4 1682v-6M723.4 1079.3v6M762.7 1682v-6M762.7 1079.3v6M802 1682v-6M802 1079.3v6M841.4 1682v-6M841.4 1079.3v6M880.7 1682v-6M880.7 1079.3v6M920 1682v-6M920 1079.3v6M959.3 1682v-6M959.3 1079.3v6M998.6 1682v-6M998.6 1079.3v6" stroke="#000" stroke-width="4" fill="none"/>
<path d="M290.2 1667.5h14M998.2 1667.5h-14M290.2 1515.2h14M998.2 1515.2h-14M290.2 1362.9h14M998.2 1362.9h-14M290.2 1210.6h14M998.2 1210.6h-14" stroke="#000" stroke-width="4" fill="none"/>
<path d="M290.2 1667.5h7M998.2 1667.5h-7M290.2 1652.3h7M998.2 1652.3h-7M290.2 1637h7M998.2 1637h-7M290.2 1621.8h7M998.2 1621.8h-7M290.2 1606.6h7M998.2 1606.6h-7M290.2 1591.4h7M998.2 1591.4h-7M290.2 1576.1h7M998.2 1576.1h-7M290.2 1560.9h7M998.2 1560.9h-7M290.2 1545.7h7M998.2 1545.7h-7M290.2 1530.4h7M998.2 1530.4h-7M290.2 1515.2h7M998.2 1515.2h-7M290.2 1500h7M998.2 1500h-7M290.2 1484.7h7M998.2 1484.7h-7M290.2 1469.5h7M998.2 1469.5h-7M290.2 1454.3h7M998.2 1454.3h-7M290.2 1439h7M998.2 1439h-7M290.2 1423.8h7M998.2 1423.8h-7M290.2 1408.6h7M998.2 1408.6h-7M290.2 1393.4h7M998.2 1393.4h-7M290.2 1378.1h7M998.2 1378.1h-7M290.2 1362.9h7M998.2 1362.9h-7M290.2 1347.7h7M998.2 1347.7h-7M290.2 1332.4h7M998.2 1332.4h-7M290.2 1317.2h7M998.2 1317.2h-7M290.2 1302h7M998.2 1302h-7M290.2 1286.8h7M998.2 1286.8h-7M290.2 1271.5h7M998.2 1271.5h-7M290.2 1256.3h7M998.2 1256.3h-7M290.2 1241.1h7M998.2 1241.1h-7M290.2 1225.8h7M998.2 1225.8h-7M290.2 1210.6h7M998.2 1210.6h-7M290.2 1195.4h7M998.2 1195.4h-7M290.2 1180.1h7M998.2 1180.1h-7M290.2 1164.9h7M998.2 1164.9h-7M290.2 1149.7h7M998.2 1149.7h-7M290.2 1134.5h7M998.2 1134.5h-7M290.2 1119.2h7M998.2 1119.2h-7M290.2 1104h7M998.2 1104h-7M290.2 1088.8h7M998.2 1088.8h-7" stroke="#000" stroke-width="4" fill="none"/>
<rect x="290.2" y="1079.3" width="708" height="602.7" fill="none" stroke="#000" stroke-width="4.2" stroke-linejoin="round"/>
<g clip-path="url(#kp4)">
<path d="M1197.1 1513.4L1198.9 1508.4L1200.6 1510.4L1202.4 1501.9L1204.2 1502.8L1206 1501.5L1207.7 1499.8L1209.5 1504.1L1211.3 1496L1213.1 1495.3L1214.8 1500.9L1216.6 1498.8L1218.4 1502.2L1220.2 1498.9L1221.9 1504.4L1223.7 1514L1225.5 1510L1227.3 1507.4L1229 1504.3L1230.8 1504.9L1232.6 1498L1234.4 1501.5L1236.1 1502.6L1237.9 1507.5L1239.7 1505.8L1241.5 1506.6L1243.2 1509.2L1245 1507.1L1246.8 1509.1L1248.5 1509.3L1250.3 1509.4L1252.1 1509L1253.9 1517L1255.6 1512.6L1257.4 1519L1259.2 1517.3L1261 1511.4L1262.7 1512.9L1264.5 1513.1L1266.3 1509L1268.1 1515.5L1269.8 1511.6L1271.6 1507.5L1273.4 1509.3L1275.2 1510.2L1276.9 1509.8L1278.7 1500.2L1280.5 1504.4L1282.3 1497.6L1284 1501.5L1285.8 1505.9L1287.6 1500.8L1289.3 1505.2L1291.1 1506L1292.9 1505.9L1294.7 1509.8L1296.4 1513.9L1298.2 1515.9L1300 1505.9L1301.8 1512L1303.5 1517.9L1305.3 1516.5L1307.1 1517.3L1308.9 1517.5L1310.6 1520.6L1312.4 1517.9L1314.2 1514L1316 1507.5L1317.7 1502.4L1319.5 1499.1L1321.3 1502.4L1323.1 1502L1324.8 1495.5L1326.6 1503L1328.4 1496.1L1330.1 1503.4L1331.9 1504.2L1333.7 1509.6L1335.5 1499.6L1337.2 1499L1339 1500.2L1340.8 1503.7L1342.6 1502.1L1344.3 1504.4L1346.1 1509.4L1347.9 1509.7L1349.7 1517L1351.4 1519.4L1353.2 1520.9L1355 1519.3L1356.8 1514.4L1358.5 1515.6L1360.3 1517.3L1362.1 1509.8L1363.9 1505.6L1365.6 1499.1L1367.4 1500.4L1369.2 1493.4L1371 1498.2L1372.7 1504.5L1374.5 1510.1L1376.3 1511.8L1378 1512.2L1379.8 1507.8L1381.6 1501.6L1383.4 1494.8L1385.1 1489.7L1386.9 1491.4L1388.7 1496.7L1390.5 1503.6L1392.2 1504.5L1394 1508.1L1395.8 1510.9L1397.6 1511.2L1399.3 1508.9L1401.1 1510.2L1402.9 1511.9L1404.7 1508.6L1406.4 1500.8L1408.2 1506.1L1410 1504.9L1411.8 1504.1L1413.5 1504.8L1415.3 1504.7L1417.1 1495.6L1418.8 1501.4L1420.6 1491.2L1422.4 1493.9L1424.2 1488L1425.9 1489.4L1427.7 1493.7L1429.5 1496.1L1431.3 1504.7L1433 1509.9L1434.8 1508.4L1436.6 1515.8L1438.4 1506.8L1440.1 1502.6L1441.9 1496.4L1443.7 1497.7L1445.5 1497.9L1447.2 1497.2L1449 1494.5L1450.8 1495.6L1452.6 1497.6L1454.3 1499.9L1456.1 1498.6L1457.9 1498.6L1459.7 1499.8L1461.4 1502.6L1463.2 1499.1L1465 1494.9L1466.7 1501.1L1468.5 1500.5L1470.3 1499.1L1472.1 1499.6L1473.8 1501.1L1475.6 1496L1477.4 1499.9L1479.2 1503.1L1480.9 1498.3L1482.7 1497.1L1484.5 1495L1486.3 1489.9L1488 1500.1L1489.8 1498.9L1491.6 1502.4L1493.4 1505L1495.1 1510.4L1496.9 1507.7L1498.7 1508.1L1500.5 1507.5L1502.2 1506.3L1504 1502.6L1505.8 1508.1L1507.5 1506.5L1509.3 1504.5L1511.1 1505L1512.9 1504L1514.6 1499.8L1516.4 1505.2L1518.2 1502.5L1520 1514.6L1521.7 1505.1L1523.5 1501.1L1525.3 1496.6L1527.1 1492.9L1528.8 1495.5L1530.6 1498.4L1532.4 1505.7L1534.2 1506L1535.9 1503.3L1537.7 1508.2L1539.5 1508.1L1541.3 1507.4L1543 1508.4L1544.8 1513.5L1546.6 1515.3L1548.4 1516.4L1550.1 1519.5L1551.9 1520.3L1553.7 1517.2L1555.4 1521.6L1557.2 1526.2L1559 1527.1L1560.8 1523.8L1562.5 1524.6L1564.3 1522.5L1566.1 1524.6L1567.9 1527.6L1569.6 1527L1571.4 1526.4L1573.2 1523.5L1575 1525L1576.7 1526L1578.5 1525.2L1580.3 1520.6L1582.1 1518L1583.8 1531.5L1585.6 1520.1L1587.4 1527.6L1589.2 1525.7L1590.9 1522L1592.7 1524.1L1594.5 1524.5L1596.2 1524.7L1598 1516.9L1599.8 1517.1L1601.6 1514.5L1603.3 1520.6L1605.1 1517.2L1606.9 1519.2L1608.7 1516.6L1610.4 1519.5L1612.2 1519.8L1614 1516.9L1615.8 1520.6L1617.5 1516.6L1619.3 1517.1L1621.1 1514.9L1622.9 1513.8L1624.6 1511.4L1626.4 1509.6L1628.2 1506.8L1630 1501.9L1631.7 1499.2L1633.5 1488.1L1635.3 1496.1L1637.1 1499.6L1638.8 1503.5L1640.6 1506.8L1642.4 1507.2L1644.1 1504.8L1645.9 1499.9L1647.7 1499.6L1649.5 1498.6L1651.2 1495.7L1653 1490.5L1654.8 1494.6L1656.6 1491.9L1658.3 1486.3L1660.1 1491.9L1661.9 1488.4L1663.7 1485.4L1665.4 1493.5L1667.2 1493.2L1669 1496.7L1670.8 1496.8L1672.5 1491.6L1674.3 1493.7L1676.1 1492.8L1677.9 1491L1679.6 1492.5L1681.4 1491.6L1683.2 1492.2L1684.9 1488L1686.7 1487.8L1688.5 1478.2L1690.3 1482.8L1692 1476.8L1693.8 1477.7L1695.6 1482.8L1697.4 1482.5L1699.1 1490.1L1700.9 1493.4L1702.7 1491.2L1704.5 1495.1L1706.2 1494.4L1708 1496.5L1709.8 1488.7L1711.6 1492.2L1713.3 1484.3L1715.1 1487.1L1716.9 1488.9L1718.7 1493L1720.4 1495.4L1722.2 1492L1724 1498L1725.8 1492L1727.5 1497.7L1729.3 1494.5L1731.1 1495L1732.8 1504.3L1734.6 1512.2L1736.4 1511.5L1738.2 1509L1739.9 1512.3L1741.7 1513.9L1743.5 1513.1L1745.3 1514.5L1747 1506.8L1748.8 1498.4L1750.6 1503.3L1752.4 1512L1754.1 1514L1755.9 1508.7L1757.7 1508.5L1759.5 1509.6L1761.2 1500.1L1763 1500.3L1764.8 1497.3L1766.6 1496.6L1768.3 1495.8L1770.1 1497.5L1771.9 1486.9L1773.7 1495.1L1775.4 1494.4L1777.2 1488.9L1779 1490.5L1780.7 1491L1782.5 1488.4L1784.3 1496.3L1786.1 1503.3L1787.8 1504.5L1789.6 1509.4L1791.4 1507.6L1793.2 1499.3L1794.9 1496.3L1796.7 1497.6L1798.5 1495.5L1800.3 1499.9L1802 1503.5L1803.8 1499.8L1805.6 1492.8L1807.4 1492.5L1809.1 1492.7L1810.9 1496.3L1812.7 1507.1L1814.5 1513.5L1816.2 1509.6L1818 1524.3L1819.8 1543.6L1821.5 1531.5L1823.3 1522.4L1825.1 1521.9L1826.9 1504.3L1828.6 1499L1830.4 1513.8L1832.2 1519.6L1834 1538.9L1835.7 1548.9L1837.5 1521.6L1839.3 1525.9L1841.1 1517.1L1842.8 1510.4L1844.6 1510.7L1846.4 1507L1848.2 1503.4L1849.9 1502.9L1851.7 1500.3L1853.5 1499.9L1855.3 1499.4L1857 1498.1L1858.8 1503.2L1860.6 1501.4L1862.3 1496.2L1864.1 1498.3L1865.9 1497L1867.7 1495.7L1869.4 1492.9L1871.2 1491L1873 1489.1L1874.8 1493L1876.5 1497.9L1878.3 1498.1L1880.1 1503.8L1881.9 1503.1L1883.6 1502L1885.4 1501.8L1887.2 1506.8L1889 1500.5L1890.7 1503.1L1892.5 1500.3L1894.3 1501.1L1896.1 1497.8L1897.8 1495.5L1899.6 1497.2L1901.4 1498.9L1903.2 1498.8L1904.9 1508.3L1906.7 1507.1" fill="none" stroke="#111" stroke-width="2.3" stroke-dasharray="2.3 3.4"/>
<path d="M1197.8 1514.7H1905.2" stroke="#0a0a0a" stroke-width="4.6" fill="none" stroke-dasharray="4.6 10.2"/>
<path d="M1197.1 1670L1198 1670L1198.9 1670L1199.8 1670L1200.6 1670L1201.5 1670L1202.4 1670L1203.3 1670L1204.2 1670L1205.1 1670L1206 1670L1206.9 1670L1207.7 1670L1208.6 1670L1209.5 1670L1210.4 1670L1211.3 1670L1212.2 1670L1213.1 1670L1214 1670L1214.8 1670L1215.7 1670L1216.6 1670L1217.5 1670L1218.4 1670L1219.3 1670L1220.2 1670L1221 1670L1221.9 1670L1222.8 1670L1223.7 1670L1224.6 1670L1225.5 1670L1226.4 1670L1227.3 1670L1228.1 1670L1229 1670L1229.9 1670L1230.8 1670L1231.7 1670L1232.6 1670L1233.5 1670L1234.4 1670L1235.2 1670L1236.1 1670L1237 1670L1237.9 1670L1238.8 1670L1239.7 1670L1240.6 1670L1241.5 1670L1242.3 1670L1243.2 1670L1244.1 1670L1245 1670L1245.9 1670L1246.8 1670L1247.7 1670L1248.5 1670L1249.4 1670L1250.3 1670L1251.2 1670L1252.1 1670L1253 1670L1253.9 1670L1254.8 1670L1255.6 1670L1256.5 1670L1257.4 1670L1258.3 1670L1259.2 1670L1260.1 1670L1261 1670L1261.9 1670L1262.7 1670L1263.6 1670L1264.5 1670L1265.4 1670L1266.3 1670L1267.2 1670L1268.1 1670L1268.9 1670L1269.8 1670L1270.7 1670L1271.6 1670L1272.5 1670L1273.4 1670L1274.3 1670L1275.2 1670L1276 1670L1276.9 1670L1277.8 1670L1278.7 1670L1279.6 1670L1280.5 1670L1281.4 1670L1282.3 1670L1283.1 1670L1284 1670L1284.9 1670L1285.8 1670L1286.7 1670L1287.6 1670L1288.5 1670L1289.3 1670L1290.2 1670L1291.1 1670L1292 1670L1292.9 1670L1293.8 1670L1294.7 1670L1295.6 1670L1296.4 1670L1297.3 1670L1298.2 1670L1299.1 1670L1300 1670L1300.9 1670L1301.8 1670L1302.7 1670L1303.5 1670L1304.4 1670L1305.3 1670L1306.2 1670L1307.1 1670L1308 1670L1308.9 1670L1309.7 1670L1310.6 1670L1311.5 1670L1312.4 1670L1313.3 1670L1314.2 1670L1315.1 1670L1316 1670L1316.8 1670L1317.7 1670L1318.6 1670L1319.5 1670L1320.4 1670L1321.3 1670L1322.2 1670L1323.1 1670L1323.9 1670L1324.8 1670L1325.7 1670L1326.6 1670L1327.5 1670L1328.4 1670L1329.3 1670L1330.1 1670L1331 1670L1331.9 1670L1332.8 1670L1333.7 1670L1334.6 1670L1335.5 1670L1336.4 1670L1337.2 1670L1338.1 1670L1339 1670L1339.9 1670L1340.8 1670L1341.7 1670L1342.6 1670L1343.5 1670L1344.3 1670L1345.2 1670L1346.1 1670L1347 1670L1347.9 1670L1348.8 1670L1349.7 1670L1350.6 1670L1351.4 1670L1352.3 1670L1353.2 1670L1354.1 1670L1355 1670L1355.9 1670L1356.8 1670L1357.6 1670L1358.5 1670L1359.4 1670L1360.3 1670L1361.2 1670L1362.1 1670L1363 1670L1363.9 1670L1364.7 1670L1365.6 1670L1366.5 1670L1367.4 1670L1368.3 1670L1369.2 1670L1370.1 1670L1371 1670L1371.8 1670L1372.7 1670L1373.6 1670L1374.5 1670L1375.4 1669.9L1376.3 1669.9L1377.2 1669.9L1378 1669.9L1378.9 1669.9L1379.8 1669.9L1380.7 1669.9L1381.6 1669.9L1382.5 1669.9L1383.4 1669.9L1384.3 1669.9L1385.1 1669.9L1386 1669.9L1386.9 1669.9L1387.8 1669.9L1388.7 1669.9L1389.6 1669.9L1390.5 1669.8L1391.4 1669.8L1392.2 1669.8L1393.1 1669.8L1394 1669.8L1394.9 1669.8L1395.8 1669.8L1396.7 1669.8L1397.6 1669.8L1398.4 1669.7L1399.3 1669.7L1400.2 1669.7L1401.1 1669.7L1402 1669.7L1402.9 1669.6L1403.8 1669.6L1404.7 1669.6L1405.5 1669.6L1406.4 1669.6L1407.3 1669.5L1408.2 1669.5L1409.1 1669.5L1410 1669.5L1410.9 1669.4L1411.8 1669.4L1412.6 1669.4L1413.5 1669.3L1414.4 1669.3L1415.3 1669.2L1416.2 1669.2L1417.1 1669.2L1418 1669.1L1418.8 1669.1L1419.7 1669L1420.6 1669L1421.5 1668.9L1422.4 1668.9L1423.3 1668.8L1424.2 1668.8L1425.1 1668.7L1425.9 1668.6L1426.8 1668.6L1427.7 1668.5L1428.6 1668.4L1429.5 1668.3L1430.4 1668.2L1431.3 1668.2L1432.2 1668.1L1433 1668L1433.9 1667.9L1434.8 1667.8L1435.7 1667.7L1436.6 1667.6L1437.5 1667.5L1438.4 1667.4L1439.3 1667.2L1440.1 1667.1L1441 1667L1441.9 1666.8L1442.8 1666.7L1443.7 1666.6L1444.6 1666.4L1445.5 1666.3L1446.3 1666.1L1447.2 1665.9L1448.1 1665.8L1449 1665.6L1449.9 1665.4L1450.8 1665.2L1451.7 1665L1452.6 1664.8L1453.4 1664.6L1454.3 1664.4L1455.2 1664.1L1456.1 1663.9L1457 1663.7L1457.9 1663.4L1458.8 1663.2L1459.7 1662.9L1460.5 1662.6L1461.4 1662.4L1462.3 1662.1L1463.2 1661.8L1464.1 1661.5L1465 1661.2L1465.9 1660.9L1466.7 1660.5L1467.6 1660.2L1468.5 1659.8L1469.4 1659.5L1470.3 1659.1L1471.2 1658.8L1472.1 1658.4L1473 1658L1473.8 1657.6L1474.7 1657.2L1475.6 1656.8L1476.5 1656.3L1477.4 1655.9L1478.3 1655.4L1479.2 1655L1480.1 1654.5L1480.9 1654L1481.8 1653.5L1482.7 1653L1483.6 1652.5L1484.5 1652L1485.4 1651.5L1486.3 1650.9L1487.1 1650.4L1488 1649.8L1488.9 1649.3L1489.8 1648.7L1490.7 1648.1L1491.6 1647.5L1492.5 1646.9L1493.4 1646.3L1494.2 1645.7L1495.1 1645L1496 1644.4L1496.9 1643.7L1497.8 1643.1L1498.7 1642.4L1499.6 1641.7L1500.5 1641L1501.3 1640.3L1502.2 1639.6L1503.1 1638.9L1504 1638.2L1504.9 1637.5L1505.8 1636.8L1506.7 1636L1507.5 1635.3L1508.4 1634.5L1509.3 1633.8L1510.2 1633L1511.1 1632.3L1512 1631.5L1512.9 1630.7L1513.8 1630L1514.6 1629.2L1515.5 1628.4L1516.4 1627.6L1517.3 1626.9L1518.2 1626.1L1519.1 1625.3L1520 1624.5L1520.9 1623.7L1521.7 1622.9L1522.6 1622.2L1523.5 1621.4L1524.4 1620.6L1525.3 1619.8L1526.2 1619L1527.1 1618.3L1528 1617.5L1528.8 1616.7L1529.7 1616L1530.6 1615.2L1531.5 1614.5L1532.4 1613.8L1533.3 1613L1534.2 1612.3L1535 1611.6L1535.9 1610.9L1536.8 1610.2L1537.7 1609.5L1538.6 1608.8L1539.5 1608.1L1540.4 1607.5L1541.3 1606.8L1542.1 1606.2L1543 1605.6L1543.9 1605L1544.8 1604.4L1545.7 1603.8L1546.6 1603.2L1547.5 1602.7L1548.4 1602.2L1549.2 1601.7L1550.1 1601.2L1551 1600.7L1551.9 1600.2L1552.8 1599.8L1553.7 1599.3L1554.6 1598.9L1555.4 1598.5L1556.3 1598.2L1557.2 1597.8L1558.1 1597.5L1559 1597.2L1559.9 1596.9L1560.8 1596.6L1561.7 1596.3L1562.5 1596.1L1563.4 1595.9L1564.3 1595.7L1565.2 1595.5L1566.1 1595.4L1567 1595.3L1567.9 1595.2L1568.8 1595.1L1569.6 1595L1570.5 1595L1571.4 1595L1572.3 1595L1573.2 1595L1574.1 1595.1L1575 1595.2L1575.8 1595.3L1576.7 1595.4L1577.6 1595.5L1578.5 1595.7L1579.4 1595.9L1580.3 1596.1L1581.2 1596.3L1582.1 1596.6L1582.9 1596.9L1583.8 1597.2L1584.7 1597.5L1585.6 1597.8L1586.5 1598.2L1587.4 1598.5L1588.3 1598.9L1589.2 1599.3L1590 1599.8L1590.9 1600.2L1591.8 1600.7L1592.7 1601.2L1593.6 1601.7L1594.5 1602.2L1595.4 1602.7L1596.2 1603.2L1597.1 1603.8L1598 1604.4L1598.9 1605L1599.8 1605.6L1600.7 1606.2L1601.6 1606.8L1602.5 1607.5L1603.3 1608.1L1604.2 1608.8L1605.1 1609.5L1606 1610.2L1606.9 1610.9L1607.8 1611.6L1608.7 1612.3L1609.6 1613L1610.4 1613.8L1611.3 1614.5L1612.2 1615.2L1613.1 1616L1614 1616.7L1614.9 1617.5L1615.8 1618.3L1616.7 1619L1617.5 1619.8L1618.4 1620.6L1619.3 1621.4L1620.2 1622.2L1621.1 1622.9L1622 1623.7L1622.9 1624.5L1623.7 1625.3L1624.6 1626.1L1625.5 1626.9L1626.4 1627.6L1627.3 1628.4L1628.2 1629.2L1629.1 1630L1630 1630.7L1630.8 1631.5L1631.7 1632.3L1632.6 1633L1633.5 1633.8L1634.4 1634.5L1635.3 1635.3L1636.2 1636L1637.1 1636.8L1637.9 1637.5L1638.8 1638.2L1639.7 1638.9L1640.6 1639.6L1641.5 1640.3L1642.4 1641L1643.3 1641.7L1644.1 1642.4L1645 1643.1L1645.9 1643.7L1646.8 1644.4L1647.7 1645L1648.6 1645.7L1649.5 1646.3L1650.4 1646.9L1651.2 1647.5L1652.1 1648.1L1653 1648.7L1653.9 1649.3L1654.8 1649.8L1655.7 1650.4L1656.6 1650.9L1657.5 1651.5L1658.3 1652L1659.2 1652.5L1660.1 1653L1661 1653.5L1661.9 1654L1662.8 1654.5L1663.7 1655L1664.5 1655.4L1665.4 1655.9L1666.3 1656.3L1667.2 1656.8L1668.1 1657.2L1669 1657.6L1669.9 1658L1670.8 1658.4L1671.6 1658.8L1672.5 1659.1L1673.4 1659.5L1674.3 1659.8L1675.2 1660.2L1676.1 1660.5L1677 1660.9L1677.9 1661.2L1678.7 1661.5L1679.6 1661.8L1680.5 1662.1L1681.4 1662.4L1682.3 1662.6L1683.2 1662.9L1684.1 1663.2L1684.9 1663.4L1685.8 1663.7L1686.7 1663.9L1687.6 1664.1L1688.5 1664.4L1689.4 1664.6L1690.3 1664.8L1691.2 1665L1692 1665.2L1692.9 1665.4L1693.8 1665.6L1694.7 1665.8L1695.6 1665.9L1696.5 1666.1L1697.4 1666.3L1698.3 1666.4L1699.1 1666.6L1700 1666.7L1700.9 1666.8L1701.8 1667L1702.7 1667.1L1703.6 1667.2L1704.5 1667.4L1705.4 1667.5L1706.2 1667.6L1707.1 1667.7L1708 1667.8L1708.9 1667.9L1709.8 1668L1710.7 1668.1L1711.6 1668.2L1712.4 1668.2L1713.3 1668.3L1714.2 1668.4L1715.1 1668.5L1716 1668.6L1716.9 1668.6L1717.8 1668.7L1718.7 1668.8L1719.5 1668.8L1720.4 1668.9L1721.3 1668.9L1722.2 1669L1723.1 1669L1724 1669.1L1724.9 1669.1L1725.8 1669.2L1726.6 1669.2L1727.5 1669.2L1728.4 1669.3L1729.3 1669.3L1730.2 1669.4L1731.1 1669.4L1732 1669.4L1732.8 1669.5L1733.7 1669.5L1734.6 1669.5L1735.5 1669.5L1736.4 1669.6L1737.3 1669.6L1738.2 1669.6L1739.1 1669.6L1739.9 1669.6L1740.8 1669.7L1741.7 1669.7L1742.6 1669.7L1743.5 1669.7L1744.4 1669.7L1745.3 1669.8L1746.2 1669.8L1747 1669.8L1747.9 1669.8L1748.8 1669.8L1749.7 1669.8L1750.6 1669.8L1751.5 1669.8L1752.4 1669.8L1753.2 1669.9L1754.1 1669.9L1755 1669.9L1755.9 1669.9L1756.8 1669.9L1757.7 1669.9L1758.6 1669.9L1759.5 1669.9L1760.3 1669.9L1761.2 1669.9L1762.1 1669.9L1763 1669.9L1763.9 1669.9L1764.8 1669.9L1765.7 1669.9L1766.6 1669.9L1767.4 1669.9L1768.3 1670L1769.2 1670L1770.1 1670L1771 1670L1771.9 1670L1772.8 1670L1773.7 1670L1774.5 1670L1775.4 1670L1776.3 1670L1777.2 1670L1778.1 1670L1779 1670L1779.9 1670L1780.7 1670L1781.6 1670L1782.5 1670L1783.4 1670L1784.3 1670L1785.2 1670L1786.1 1670L1787 1670L1787.8 1670L1788.7 1670L1789.6 1670L1790.5 1670L1791.4 1670L1792.3 1670L1793.2 1670L1794.1 1670L1794.9 1670L1795.8 1670L1796.7 1670L1797.6 1670L1798.5 1670L1799.4 1670L1800.3 1670L1801.1 1670L1802 1670L1802.9 1670L1803.8 1670L1804.7 1670L1805.6 1670L1806.5 1670L1807.4 1670L1808.2 1670L1809.1 1670L1810 1670L1810.9 1670L1811.8 1670L1812.7 1670L1813.6 1670L1814.5 1670L1815.3 1670L1816.2 1670L1817.1 1670L1818 1670L1818.9 1670L1819.8 1670L1820.7 1670L1821.5 1670L1822.4 1670L1823.3 1670L1824.2 1670L1825.1 1670L1826 1670L1826.9 1670L1827.8 1670L1828.6 1670L1829.5 1670L1830.4 1670L1831.3 1670L1832.2 1670L1833.1 1670L1834 1670L1834.9 1670L1835.7 1670L1836.6 1670L1837.5 1670L1838.4 1670L1839.3 1670L1840.2 1670L1841.1 1670L1841.9 1670L1842.8 1670L1843.7 1670L1844.6 1670L1845.5 1670L1846.4 1670L1847.3 1670L1848.2 1670L1849 1670L1849.9 1670L1850.8 1670L1851.7 1670L1852.6 1670L1853.5 1670L1854.4 1670L1855.3 1670L1856.1 1670L1857 1670L1857.9 1670L1858.8 1670L1859.7 1670L1860.6 1670L1861.5 1670L1862.3 1670L1863.2 1670L1864.1 1670L1865 1670L1865.9 1670L1866.8 1670L1867.7 1670L1868.6 1670L1869.4 1670L1870.3 1670L1871.2 1670L1872.1 1670L1873 1670L1873.9 1670L1874.8 1670L1875.7 1670L1876.5 1670L1877.4 1670L1878.3 1670L1879.2 1670L1880.1 1670L1881 1670L1881.9 1670L1882.8 1670L1883.6 1670L1884.5 1670L1885.4 1670L1886.3 1670L1887.2 1670L1888.1 1670L1889 1670L1889.8 1670L1890.7 1670L1891.6 1670L1892.5 1670L1893.4 1670L1894.3 1670L1895.2 1670L1896.1 1670L1896.9 1670L1897.8 1670L1898.7 1670L1899.6 1670L1900.5 1670L1901.4 1670L1902.3 1670L1903.2 1670L1904 1670L1904.9 1670L1905.8 1670L1906.7 1670" fill="none" stroke="#36cc66" stroke-width="3.8" stroke-linejoin="round"/>
<path d="M1216.6 1670L1217.5 1670L1218.4 1670L1219.3 1670L1220.2 1670L1221 1670L1221.9 1670L1222.8 1670L1223.7 1670L1224.6 1670L1225.5 1670L1226.4 1670L1227.3 1670L1228.1 1670L1229 1670L1229.9 1670L1230.8 1670L1231.7 1670L1232.6 1670L1233.5 1670L1234.4 1670L1235.2 1669.9L1236.1 1669.9L1237 1669.9L1237.9 1669.8L1238.8 1669.7L1239.7 1669.6L1240.6 1669.5L1241.5 1669.4L1242.3 1669.2L1243.2 1668.9L1244.1 1668.7L1245 1668.3L1245.9 1667.9L1246.8 1667.4L1247.7 1666.9L1248.5 1666.3L1249.4 1665.6L1250.3 1664.9L1251.2 1664.1L1252.1 1663.3L1253 1662.4L1253.9 1661.6L1254.8 1660.8L1255.6 1660L1256.5 1659.3L1257.4 1658.7L1258.3 1658.2L1259.2 1657.8L1260.1 1657.6L1261 1657.5L1261.9 1657.6L1262.7 1657.8L1263.6 1658.2L1264.5 1658.7L1265.4 1659.3L1266.3 1660L1267.2 1660.8L1268.1 1661.6L1268.9 1662.4L1269.8 1663.3L1270.7 1664.1L1271.6 1664.9L1272.5 1665.6L1273.4 1666.3L1274.3 1666.9L1275.2 1667.4L1276 1667.9L1276.9 1668.3L1277.8 1668.7L1278.7 1668.9L1279.6 1669.2L1280.5 1669.4L1281.4 1669.5L1282.3 1669.6L1283.1 1669.7L1284 1669.8L1284.9 1669.9L1285.8 1669.9L1286.7 1669.9L1287.6 1670L1288.5 1670L1289.3 1670L1290.2 1670L1291.1 1670L1292 1670L1292.9 1670L1293.8 1670L1294.7 1670L1295.6 1670L1296.4 1670L1297.3 1670L1298.2 1670L1299.1 1670L1300 1670L1300.9 1670L1301.8 1670L1302.7 1670L1303.5 1670L1304.4 1670L1305.3 1670" fill="none" stroke="#1763ea" stroke-width="3.8" stroke-linejoin="round"/>
<path d="M1261.5 1670L1262.4 1670L1263.3 1670L1264.2 1670L1265 1670L1265.9 1670L1266.8 1670L1267.7 1670L1268.6 1670L1269.5 1670L1270.4 1670L1271.3 1670L1272.1 1670L1273 1670L1273.9 1670L1274.8 1670L1275.7 1670L1276.6 1670L1277.5 1670L1278.3 1670L1279.2 1669.9L1280.1 1669.9L1281 1669.9L1281.9 1669.8L1282.8 1669.7L1283.7 1669.6L1284.6 1669.5L1285.4 1669.4L1286.3 1669.1L1287.2 1668.9L1288.1 1668.6L1289 1668.2L1289.9 1667.7L1290.8 1667.1L1291.7 1666.5L1292.5 1665.8L1293.4 1664.9L1294.3 1664L1295.2 1663L1296.1 1661.9L1297 1660.8L1297.9 1659.7L1298.8 1658.5L1299.6 1657.4L1300.5 1656.4L1301.4 1655.4L1302.3 1654.6L1303.2 1653.9L1304.1 1653.4L1305 1653.1L1305.8 1653L1306.7 1653.1L1307.6 1653.4L1308.5 1653.9L1309.4 1654.6L1310.3 1655.4L1311.2 1656.4L1312.1 1657.4L1312.9 1658.5L1313.8 1659.7L1314.7 1660.8L1315.6 1661.9L1316.5 1663L1317.4 1664L1318.3 1664.9L1319.2 1665.8L1320 1666.5L1320.9 1667.1L1321.8 1667.7L1322.7 1668.2L1323.6 1668.6L1324.5 1668.9L1325.4 1669.1L1326.2 1669.4L1327.1 1669.5L1328 1669.6L1328.9 1669.7L1329.8 1669.8L1330.7 1669.9L1331.6 1669.9L1332.5 1669.9L1333.3 1670L1334.2 1670L1335.1 1670L1336 1670L1336.9 1670L1337.8 1670L1338.7 1670L1339.6 1670L1340.4 1670L1341.3 1670L1342.2 1670L1343.1 1670L1344 1670L1344.9 1670L1345.8 1670L1346.6 1670L1347.5 1670L1348.4 1670L1349.3 1670L1350.2 1670" fill="none" stroke="#1763ea" stroke-width="3.8" stroke-linejoin="round"/>
<path d="M1312.8 1670L1313.7 1670L1314.5 1670L1315.4 1670L1316.3 1670L1317.2 1670L1318.1 1670L1319 1670L1319.9 1670L1320.7 1670L1321.6 1670L1322.5 1670L1323.4 1670L1324.3 1670L1325.2 1670L1326.1 1670L1327 1670L1327.8 1670L1328.7 1670L1329.6 1669.9L1330.5 1669.9L1331.4 1669.9L1332.3 1669.8L1333.2 1669.8L1334.1 1669.7L1334.9 1669.6L1335.8 1669.5L1336.7 1669.3L1337.6 1669L1338.5 1668.8L1339.4 1668.4L1340.3 1668L1341.1 1667.4L1342 1666.8L1342.9 1666.1L1343.8 1665.3L1344.7 1664.3L1345.6 1663.3L1346.5 1662.2L1347.4 1661L1348.2 1659.8L1349.1 1658.5L1350 1657.2L1350.9 1656L1351.8 1654.8L1352.7 1653.7L1353.6 1652.8L1354.5 1652L1355.3 1651.5L1356.2 1651.1L1357.1 1651L1358 1651.1L1358.9 1651.5L1359.8 1652L1360.7 1652.8L1361.5 1653.7L1362.4 1654.8L1363.3 1656L1364.2 1657.2L1365.1 1658.5L1366 1659.8L1366.9 1661L1367.8 1662.2L1368.6 1663.3L1369.5 1664.3L1370.4 1665.3L1371.3 1666.1L1372.2 1666.8L1373.1 1667.4L1374 1668L1374.9 1668.4L1375.7 1668.8L1376.6 1669L1377.5 1669.3L1378.4 1669.5L1379.3 1669.6L1380.2 1669.7L1381.1 1669.8L1382 1669.8L1382.8 1669.9L1383.7 1669.9L1384.6 1669.9L1385.5 1670L1386.4 1670L1387.3 1670L1388.2 1670L1389 1670L1389.9 1670L1390.8 1670L1391.7 1670L1392.6 1670L1393.5 1670L1394.4 1670L1395.3 1670L1396.1 1670L1397 1670L1397.9 1670L1398.8 1670L1399.7 1670L1400.6 1670L1401.5 1670" fill="none" stroke="#1763ea" stroke-width="3.8" stroke-linejoin="round"/>
<path d="M1527.6 1670L1528.5 1670L1529.4 1670L1530.3 1670L1531.1 1670L1532 1670L1532.9 1670L1533.8 1670L1534.7 1670L1535.6 1670L1536.5 1670L1537.4 1670L1538.2 1670L1539.1 1670L1540 1670L1540.9 1670L1541.8 1670L1542.7 1670L1543.6 1669.9L1544.4 1669.9L1545.3 1669.8L1546.2 1669.8L1547.1 1669.7L1548 1669.5L1548.9 1669.4L1549.8 1669.1L1550.7 1668.8L1551.5 1668.4L1552.4 1667.9L1553.3 1667.3L1554.2 1666.5L1555.1 1665.6L1556 1664.5L1556.9 1663.1L1557.8 1661.6L1558.6 1659.8L1559.5 1657.8L1560.4 1655.6L1561.3 1653.1L1562.2 1650.6L1563.1 1647.9L1564 1645.1L1564.9 1642.4L1565.7 1639.7L1566.6 1637.2L1567.5 1634.9L1568.4 1632.9L1569.3 1631.2L1570.2 1630L1571.1 1629.3L1571.9 1629L1572.8 1629.3L1573.7 1630L1574.6 1631.2L1575.5 1632.9L1576.4 1634.9L1577.3 1637.2L1578.2 1639.7L1579 1642.4L1579.9 1645.1L1580.8 1647.9L1581.7 1650.6L1582.6 1653.1L1583.5 1655.6L1584.4 1657.8L1585.3 1659.8L1586.1 1661.6L1587 1663.1L1587.9 1664.5L1588.8 1665.6L1589.7 1666.5L1590.6 1667.3L1591.5 1667.9L1592.3 1668.4L1593.2 1668.8L1594.1 1669.1L1595 1669.4L1595.9 1669.5L1596.8 1669.7L1597.7 1669.8L1598.6 1669.8L1599.4 1669.9L1600.3 1669.9L1601.2 1670L1602.1 1670L1603 1670L1603.9 1670L1604.8 1670L1605.7 1670L1606.5 1670L1607.4 1670L1608.3 1670L1609.2 1670L1610.1 1670L1611 1670L1611.9 1670L1612.7 1670L1613.6 1670L1614.5 1670L1615.4 1670L1616.3 1670" fill="none" stroke="#1763ea" stroke-width="3.8" stroke-linejoin="round"/>
<path d="M1700.7 1670L1701.6 1670L1702.5 1670L1703.4 1670L1704.3 1670L1705.2 1670L1706.1 1670L1706.9 1670L1707.8 1670L1708.7 1670L1709.6 1670L1710.5 1670L1711.4 1670L1712.3 1670L1713.2 1670L1714 1670L1714.9 1669.9L1715.8 1669.9L1716.7 1669.9L1717.6 1669.8L1718.5 1669.8L1719.4 1669.6L1720.3 1669.5L1721.1 1669.3L1722 1669L1722.9 1668.7L1723.8 1668.2L1724.7 1667.6L1725.6 1666.8L1726.5 1665.9L1727.3 1664.7L1728.2 1663.2L1729.1 1661.5L1730 1659.4L1730.9 1657L1731.8 1654.3L1732.7 1651.2L1733.6 1647.8L1734.4 1644.1L1735.3 1640.1L1736.2 1636L1737.1 1631.8L1738 1627.6L1738.9 1623.4L1739.8 1619.6L1740.7 1616L1741.5 1612.9L1742.4 1610.4L1743.3 1608.5L1744.2 1607.4L1745.1 1607L1746 1607.4L1746.9 1608.5L1747.7 1610.4L1748.6 1612.9L1749.5 1616L1750.4 1619.6L1751.3 1623.4L1752.2 1627.6L1753.1 1631.8L1754 1636L1754.8 1640.1L1755.7 1644.1L1756.6 1647.8L1757.5 1651.2L1758.4 1654.3L1759.3 1657L1760.2 1659.4L1761.1 1661.5L1761.9 1663.2L1762.8 1664.7L1763.7 1665.9L1764.6 1666.8L1765.5 1667.6L1766.4 1668.2L1767.3 1668.7L1768.2 1669L1769 1669.3L1769.9 1669.5L1770.8 1669.6L1771.7 1669.8L1772.6 1669.8L1773.5 1669.9L1774.4 1669.9L1775.2 1669.9L1776.1 1670L1777 1670L1777.9 1670L1778.8 1670L1779.7 1670L1780.6 1670L1781.5 1670L1782.3 1670L1783.2 1670L1784.1 1670L1785 1670L1785.9 1670L1786.8 1670L1787.7 1670L1788.6 1670L1789.4 1670" fill="none" stroke="#1763ea" stroke-width="3.8" stroke-linejoin="round"/>
<path d="M1785.7 1670L1786.6 1670L1787.5 1670L1788.4 1670L1789.3 1670L1790.1 1670L1791 1670L1791.9 1670L1792.8 1670L1793.7 1670L1794.6 1670L1795.5 1670L1796.4 1670L1797.2 1670L1798.1 1669.9L1799 1669.9L1799.9 1669.9L1800.8 1669.8L1801.7 1669.7L1802.6 1669.5L1803.5 1669.3L1804.3 1669L1805.2 1668.6L1806.1 1668L1807 1667.2L1807.9 1666.2L1808.8 1664.9L1809.7 1663.2L1810.5 1661L1811.4 1658.3L1812.3 1654.9L1813.2 1650.8L1814.1 1645.8L1815 1640L1815.9 1633.2L1816.8 1625.5L1817.6 1616.7L1818.5 1607.1L1819.4 1596.6L1820.3 1585.4L1821.2 1573.7L1822.1 1561.7L1823 1549.7L1823.9 1538L1824.7 1527L1825.6 1516.9L1826.5 1508.2L1827.4 1501.1L1828.3 1495.8L1829.2 1492.5L1830.1 1491.4L1831 1492.5L1831.8 1495.8L1832.7 1501.1L1833.6 1508.2L1834.5 1516.9L1835.4 1527L1836.3 1538L1837.2 1549.7L1838 1561.7L1838.9 1573.7L1839.8 1585.4L1840.7 1596.6L1841.6 1607.1L1842.5 1616.7L1843.4 1625.5L1844.3 1633.2L1845.1 1640L1846 1645.8L1846.9 1650.8L1847.8 1654.9L1848.7 1658.3L1849.6 1661L1850.5 1663.2L1851.4 1664.9L1852.2 1666.2L1853.1 1667.2L1854 1668L1854.9 1668.6L1855.8 1669L1856.7 1669.3L1857.6 1669.5L1858.4 1669.7L1859.3 1669.8L1860.2 1669.9L1861.1 1669.9L1862 1669.9L1862.9 1670L1863.8 1670L1864.7 1670L1865.5 1670L1866.4 1670L1867.3 1670L1868.2 1670L1869.1 1670L1870 1670L1870.9 1670L1871.8 1670L1872.6 1670L1873.5 1670L1874.4 1670" fill="none" stroke="#1763ea" stroke-width="3.8" stroke-linejoin="round"/>
<line x1="1197.8" y1="1670" x2="1905.2" y2="1670" stroke="#1763ea" stroke-width="5.2" />
<path d="M1197.1 1352.5L1198 1352.5L1198 1350.1L1199.8 1350.1L1199.8 1349L1201.5 1349L1201.5 1344.1L1203.3 1344.1L1203.3 1341.5L1205.1 1341.5L1205.1 1339.4L1206.9 1339.4L1206.9 1336.1L1208.6 1336.1L1208.6 1333.4L1210.4 1333.4L1210.4 1330.8L1212.2 1330.8L1212.2 1332.6L1214 1332.6L1214 1333.6L1215.7 1333.6L1215.7 1335.6L1217.5 1335.6L1217.5 1336.6L1219.3 1336.6L1219.3 1341.9L1221 1341.9L1221 1349.4L1222.8 1349.4L1222.8 1354.9L1224.6 1354.9L1224.6 1357.3L1226.4 1357.3L1226.4 1355.6L1228.1 1355.6L1228.1 1352L1229.9 1352L1229.9 1350.7L1231.7 1350.7L1231.7 1349.4L1233.5 1349.4L1233.5 1349.3L1235.2 1349.3L1235.2 1347.9L1237 1347.9L1237 1347.6L1238.8 1347.6L1238.8 1347.2L1240.6 1347.2L1240.6 1347.1L1242.3 1347.1L1242.3 1346.6L1244.1 1346.6L1244.1 1346.3L1245.9 1346.3L1245.9 1346.4L1247.7 1346.4L1247.7 1345L1249.4 1345L1249.4 1344.9L1251.2 1344.9L1251.2 1345L1253 1345L1253 1345.2L1254.8 1345.2L1254.8 1343.8L1256.5 1343.8L1256.5 1344.5L1258.3 1344.5L1258.3 1341.4L1260.1 1341.4L1260.1 1341.5L1261.9 1341.5L1261.9 1341.9L1263.6 1341.9L1263.6 1342.6L1265.4 1342.6L1265.4 1344.7L1267.2 1344.7L1267.2 1346.9L1268.9 1346.9L1268.9 1346.7L1270.7 1346.7L1270.7 1345.7L1272.5 1345.7L1272.5 1345.3L1274.3 1345.3L1274.3 1346.8L1276 1346.8L1276 1345.8L1277.8 1345.8L1277.8 1346.5L1279.6 1346.5L1279.6 1346.2L1281.4 1346.2L1281.4 1345.9L1283.1 1345.9L1283.1 1346.7L1284.9 1346.7L1284.9 1349.3L1286.7 1349.3L1286.7 1350.1L1288.5 1350.1L1288.5 1350.6L1290.2 1350.6L1290.2 1352.3L1292 1352.3L1292 1351.8L1293.8 1351.8L1293.8 1350.6L1295.6 1350.6L1295.6 1351.2L1297.3 1351.2L1297.3 1352.7L1299.1 1352.7L1299.1 1349.5L1300.9 1349.5L1300.9 1350.7L1302.7 1350.7L1302.7 1349.8L1304.4 1349.8L1304.4 1348.9L1306.2 1348.9L1306.2 1348L1308 1348L1308 1346.7L1309.7 1346.7L1309.7 1344.8L1311.5 1344.8L1311.5 1344.2L1313.3 1344.2L1313.3 1340.6L1315.1 1340.6L1315.1 1336.9L1316.8 1336.9L1316.8 1336.8L1318.6 1336.8L1318.6 1332L1320.4 1332L1320.4 1333.6L1322.2 1333.6L1322.2 1331.5L1323.9 1331.5L1323.9 1331.9L1325.7 1331.9L1325.7 1336.5L1327.5 1336.5L1327.5 1339L1329.3 1339L1329.3 1342.2L1331 1342.2L1331 1344.5L1332.8 1344.5L1332.8 1347.2L1334.6 1347.2L1334.6 1345.3L1336.4 1345.3L1336.4 1346.2L1338.1 1346.2L1338.1 1346.8L1339.9 1346.8L1339.9 1347.3L1341.7 1347.3L1341.7 1345.4L1343.5 1345.4L1343.5 1344L1345.2 1344L1345.2 1342.5L1347 1342.5L1347 1344L1348.8 1344L1348.8 1345.9L1350.6 1345.9L1350.6 1345.7L1352.3 1345.7L1352.3 1347.2L1354.1 1347.2L1354.1 1343.2L1355.9 1343.2L1355.9 1337L1357.6 1337L1357.6 1336.8L1359.4 1336.8L1359.4 1331.6L1361.2 1331.6L1361.2 1329.4L1363 1329.4L1363 1327.2L1364.7 1327.2L1364.7 1327.7L1366.5 1327.7L1366.5 1327.2L1368.3 1327.2L1368.3 1323.9L1370.1 1323.9L1370.1 1328.8L1371.8 1328.8L1371.8 1334.1L1373.6 1334.1L1373.6 1339.2L1375.4 1339.2L1375.4 1341.6L1377.2 1341.6L1377.2 1347.2L1378.9 1347.2L1378.9 1342.6L1380.7 1342.6L1380.7 1339.2L1382.5 1339.2L1382.5 1333.6L1384.3 1333.6L1384.3 1330.2L1386 1330.2L1386 1333.7L1387.8 1333.7L1387.8 1340.5L1389.6 1340.5L1389.6 1344.3L1391.4 1344.3L1391.4 1348.9L1393.1 1348.9L1393.1 1349.1L1394.9 1349.1L1394.9 1349.9L1396.7 1349.9L1396.7 1349.9L1398.4 1349.9L1398.4 1349.5L1400.2 1349.5L1400.2 1350.6L1402 1350.6L1402 1350.5L1403.8 1350.5L1403.8 1348.8L1405.5 1348.8L1405.5 1347.8L1407.3 1347.8L1407.3 1347.4L1409.1 1347.4L1409.1 1345.7L1410.9 1345.7L1410.9 1344.1L1412.6 1344.1L1412.6 1340.3L1414.4 1340.3L1414.4 1337.5L1416.2 1337.5L1416.2 1334L1418 1334L1418 1331.6L1419.7 1331.6L1419.7 1325.8L1421.5 1325.8L1421.5 1323.2L1423.3 1323.2L1423.3 1318.1L1425.1 1318.1L1425.1 1322.4L1426.8 1322.4L1426.8 1325.7L1428.6 1325.7L1428.6 1331.4L1430.4 1331.4L1430.4 1335.3L1432.2 1335.3L1432.2 1341.4L1433.9 1341.4L1433.9 1344.6L1435.7 1344.6L1435.7 1348.9L1437.5 1348.9L1437.5 1346.7L1439.3 1346.7L1439.3 1341.8L1441 1341.8L1441 1337.2L1442.8 1337.2L1442.8 1332.9L1444.6 1332.9L1444.6 1331.8L1446.3 1331.8L1446.3 1329.9L1448.1 1329.9L1448.1 1328.4L1449.9 1328.4L1449.9 1326.2L1451.7 1326.2L1451.7 1326.4L1453.4 1326.4L1453.4 1327.4L1455.2 1327.4L1455.2 1328.2L1457 1328.2L1457 1329.9L1458.8 1329.9L1458.8 1335L1460.5 1335L1460.5 1332.6L1462.3 1332.6L1462.3 1332.3L1464.1 1332.3L1464.1 1331.2L1465.9 1331.2L1465.9 1332.4L1467.6 1332.4L1467.6 1330.8L1469.4 1330.8L1469.4 1332.3L1471.2 1332.3L1471.2 1331.4L1473 1331.4L1473 1330.6L1474.7 1330.6L1474.7 1328.9L1476.5 1328.9L1476.5 1328.9L1478.3 1328.9L1478.3 1328.5L1480.1 1328.5L1480.1 1327.1L1481.8 1327.1L1481.8 1326.2L1483.6 1326.2L1483.6 1325.4L1485.4 1325.4L1485.4 1323.7L1487.1 1323.7L1487.1 1327.2L1488.9 1327.2L1488.9 1327.7L1490.7 1327.7L1490.7 1329.2L1492.5 1329.2L1492.5 1331.8L1494.2 1331.8L1494.2 1334L1496 1334L1496 1331.1L1497.8 1331.1L1497.8 1328.7L1499.6 1328.7L1499.6 1328.7L1501.3 1328.7L1501.3 1324.9L1503.1 1324.9L1503.1 1324L1504.9 1324L1504.9 1322.8L1506.7 1322.8L1506.7 1322.6L1508.4 1322.6L1508.4 1321.7L1510.2 1321.7L1510.2 1316L1512 1316L1512 1313.1L1513.8 1313.1L1513.8 1309.5L1515.5 1309.5L1515.5 1313.8L1517.3 1313.8L1517.3 1315.8L1519.1 1315.8L1519.1 1320.8L1520.9 1320.8L1520.9 1315.3L1522.6 1315.3L1522.6 1308.2L1524.4 1308.2L1524.4 1303.7L1526.2 1303.7L1526.2 1297.3L1528 1297.3L1528 1297.6L1529.7 1297.6L1529.7 1297.5L1531.5 1297.5L1531.5 1298.9L1533.3 1298.9L1533.3 1300.4L1535 1300.4L1535 1298.4L1536.8 1298.4L1536.8 1298.6L1538.6 1298.6L1538.6 1299.1L1540.4 1299.1L1540.4 1298.3L1542.1 1298.3L1542.1 1297.9L1543.9 1297.9L1543.9 1299.8L1545.7 1299.8L1545.7 1300.6L1547.5 1300.6L1547.5 1302.4L1549.2 1302.4L1549.2 1302.4L1551 1302.4L1551 1303.1L1552.8 1303.1L1552.8 1301.2L1554.6 1301.2L1554.6 1301.5L1556.3 1301.5L1556.3 1301.5L1558.1 1301.5L1558.1 1301.1L1559.9 1301.1L1559.9 1302.1L1561.7 1302.1L1561.7 1299.2L1563.4 1299.2L1563.4 1297L1565.2 1297L1565.2 1297.2L1567 1297.2L1567 1295.7L1568.8 1295.7L1568.8 1294.8L1570.5 1294.8L1570.5 1292L1572.3 1292L1572.3 1292.4L1574.1 1292.4L1574.1 1292.3L1575.8 1292.3L1575.8 1292.9L1577.6 1292.9L1577.6 1291.2L1579.4 1291.2L1579.4 1291.4L1581.2 1291.4L1581.2 1292.3L1582.9 1292.3L1582.9 1295.5L1584.7 1295.5L1584.7 1296.1L1586.5 1296.1L1586.5 1298.5L1588.3 1298.5L1588.3 1300.3L1590 1300.3L1590 1300.9L1591.8 1300.9L1591.8 1302.2L1593.6 1302.2L1593.6 1302.1L1595.4 1302.1L1595.4 1301.5L1597.1 1301.5L1597.1 1300.8L1598.9 1300.8L1598.9 1301.1L1600.7 1301.1L1600.7 1301.9L1602.5 1301.9L1602.5 1304L1604.2 1304L1604.2 1304.6L1606 1304.6L1606 1307.1L1607.8 1307.1L1607.8 1310.2L1609.6 1310.2L1609.6 1313.3L1611.3 1313.3L1611.3 1315.6L1613.1 1315.6L1613.1 1317.7L1614.9 1317.7L1614.9 1322.6L1616.7 1322.6L1616.7 1324.3L1618.4 1324.3L1618.4 1322.5L1620.2 1322.5L1620.2 1320.9L1622 1320.9L1622 1318L1623.7 1318L1623.7 1315.7L1625.5 1315.7L1625.5 1312.2L1627.3 1312.2L1627.3 1308.5L1629.1 1308.5L1629.1 1304.7L1630.8 1304.7L1630.8 1301.3L1632.6 1301.3L1632.6 1297.5L1634.4 1297.5L1634.4 1303.9L1636.2 1303.9L1636.2 1309.6L1637.9 1309.6L1637.9 1312.9L1639.7 1312.9L1639.7 1317.5L1641.5 1317.5L1641.5 1317.6L1643.3 1317.6L1643.3 1317.2L1645 1317.2L1645 1315.9L1646.8 1315.9L1646.8 1315.6L1648.6 1315.6L1648.6 1314L1650.4 1314L1650.4 1310.6L1652.1 1310.6L1652.1 1310.2L1653.9 1310.2L1653.9 1311.1L1655.7 1311.1L1655.7 1315.5L1657.5 1315.5L1657.5 1314.9L1659.2 1314.9L1659.2 1317.3L1661 1317.3L1661 1319.7L1662.8 1319.7L1662.8 1322.1L1664.5 1322.1L1664.5 1325.9L1666.3 1325.9L1666.3 1327.6L1668.1 1327.6L1668.1 1331.5L1669.9 1331.5L1669.9 1333L1671.6 1333L1671.6 1335.9L1673.4 1335.9L1673.4 1335.2L1675.2 1335.2L1675.2 1335.3L1677 1335.3L1677 1335L1678.7 1335L1678.7 1334.7L1680.5 1334.7L1680.5 1332.5L1682.3 1332.5L1682.3 1332.3L1684.1 1332.3L1684.1 1328.7L1685.8 1328.7L1685.8 1326.9L1687.6 1326.9L1687.6 1321.8L1689.4 1321.8L1689.4 1317.9L1691.2 1317.9L1691.2 1313.5L1692.9 1313.5L1692.9 1316L1694.7 1316L1694.7 1320.2L1696.5 1320.2L1696.5 1324.1L1698.3 1324.1L1698.3 1328.1L1700 1328.1L1700 1332L1701.8 1332L1701.8 1334.5L1703.6 1334.5L1703.6 1338.1L1705.4 1338.1L1705.4 1340.6L1707.1 1340.6L1707.1 1336.5L1708.9 1336.5L1708.9 1332.9L1710.7 1332.9L1710.7 1329.3L1712.4 1329.3L1712.4 1325.1L1714.2 1325.1L1714.2 1326.2L1716 1326.2L1716 1328.3L1717.8 1328.3L1717.8 1330.7L1719.5 1330.7L1719.5 1329.4L1721.3 1329.4L1721.3 1326.6L1723.1 1326.6L1723.1 1324.9L1724.9 1324.9L1724.9 1319.3L1726.6 1319.3L1726.6 1320.5L1728.4 1320.5L1728.4 1317.4L1730.2 1317.4L1730.2 1316.3L1732 1316.3L1732 1317.4L1733.7 1317.4L1733.7 1315.5L1735.5 1315.5L1735.5 1308.6L1737.3 1308.6L1737.3 1302.9L1739.1 1302.9L1739.1 1296L1740.8 1296L1740.8 1295.1L1742.6 1295.1L1742.6 1290.9L1744.4 1290.9L1744.4 1293.6L1746.2 1293.6L1746.2 1295.1L1747.9 1295.1L1747.9 1297.2L1749.7 1297.2L1749.7 1305.3L1751.5 1305.3L1751.5 1316.7L1753.2 1316.7L1753.2 1327L1755 1327L1755 1333.7L1756.8 1333.7L1756.8 1332.1L1758.6 1332.1L1758.6 1334.3L1760.3 1334.3L1760.3 1333.5L1762.1 1333.5L1762.1 1334.2L1763.9 1334.2L1763.9 1334.2L1765.7 1334.2L1765.7 1333.1L1767.4 1333.1L1767.4 1333.6L1769.2 1333.6L1769.2 1332.3L1771 1332.3L1771 1332.2L1772.8 1332.2L1772.8 1333.7L1774.5 1333.7L1774.5 1335.5L1776.3 1335.5L1776.3 1335.9L1778.1 1335.9L1778.1 1336.6L1779.9 1336.6L1779.9 1338.4L1781.6 1338.4L1781.6 1339.8L1783.4 1339.8L1783.4 1346.5L1785.2 1346.5L1785.2 1350.1L1787 1350.1L1787 1353.3L1788.7 1353.3L1788.7 1359.2L1790.5 1359.2L1790.5 1352.6L1792.3 1352.6L1792.3 1347.5L1794.1 1347.5L1794.1 1339L1795.8 1339L1795.8 1339.7L1797.6 1339.7L1797.6 1339.7L1799.4 1339.7L1799.4 1342.8L1801.1 1342.8L1801.1 1343.3L1802.9 1343.3L1802.9 1338.9L1804.7 1338.9L1804.7 1332.7L1806.5 1332.7L1806.5 1326.6L1808.2 1326.6L1808.2 1327.8L1810 1327.8L1810 1326.5L1811.8 1326.5L1811.8 1326.7L1813.6 1326.7L1813.6 1327L1815.3 1327L1815.3 1322.3L1817.1 1322.3L1817.1 1315.2L1818.9 1315.2L1818.9 1307.6L1820.7 1307.6L1820.7 1283.2L1822.4 1283.2L1822.4 1258L1824.2 1258L1824.2 1223.2L1826 1223.2L1826 1191.5L1827.8 1191.5L1827.8 1179.2L1829.5 1179.2L1829.5 1189.7L1831.3 1189.7L1831.3 1202L1833.1 1202L1833.1 1235.6L1834.9 1235.6L1834.9 1267L1836.6 1267L1836.6 1288.2L1838.4 1288.2L1838.4 1312L1840.2 1312L1840.2 1316.6L1841.9 1316.6L1841.9 1325.1L1843.7 1325.1L1843.7 1329.6L1845.5 1329.6L1845.5 1336.9L1847.3 1336.9L1847.3 1343.3L1849 1343.3L1849 1348.4L1850.8 1348.4L1850.8 1348L1852.6 1348L1852.6 1349.4L1854.4 1349.4L1854.4 1349.2L1856.1 1349.2L1856.1 1350.3L1857.9 1350.3L1857.9 1351.5L1859.7 1351.5L1859.7 1348.7L1861.5 1348.7L1861.5 1347L1863.2 1347L1863.2 1345.2L1865 1345.2L1865 1343.1L1866.8 1343.1L1866.8 1342.6L1868.6 1342.6L1868.6 1338.5L1870.3 1338.5L1870.3 1336.4L1872.1 1336.4L1872.1 1333.2L1873.9 1333.2L1873.9 1337.1L1875.7 1337.1L1875.7 1341.8L1877.4 1341.8L1877.4 1345.8L1879.2 1345.8L1879.2 1349.2L1881 1349.2L1881 1351.5L1882.8 1351.5L1882.8 1354.2L1884.5 1354.2L1884.5 1354.5L1886.3 1354.5L1886.3 1357L1888.1 1357L1888.1 1354L1889.8 1354L1889.8 1351.6L1891.6 1351.6L1891.6 1350.2L1893.4 1350.2L1893.4 1347.4L1895.2 1347.4L1895.2 1345.8L1896.9 1345.8L1896.9 1344.7L1898.7 1344.7L1898.7 1347.3L1900.5 1347.3L1900.5 1347.7L1902.3 1347.7L1902.3 1348.2L1904 1348.2L1904 1352.5L1905.8 1352.5L1905.8 1354.4L1906.7 1354.4" fill="none" stroke="#0a0a0a" stroke-width="4.6" stroke-linejoin="miter"/>
<path d="M1197.1 1354.7L1198.9 1354.4L1200.6 1353.7L1202.4 1352.7L1204.2 1351.6L1206 1350.5L1207.7 1349.5L1209.5 1348.9L1211.3 1348.6L1213.1 1349L1214.8 1350.1L1216.6 1351.7L1218.4 1353.6L1220.2 1355.8L1221.9 1357.9L1223.7 1359.8L1225.5 1361.4L1227.3 1362.5L1229 1362.9L1230.8 1362.5L1232.6 1361.6L1234.4 1360.2L1236.1 1358.5L1237.9 1356.8L1239.7 1355.2L1241.5 1353.8L1243.2 1352.8L1245 1352.5L1246.8 1352L1248.5 1350.9L1250.3 1349.3L1252.1 1347.5L1253.9 1345.7L1255.6 1344.1L1257.4 1343L1259.2 1342.5L1261 1343.1L1262.7 1344.5L1264.5 1346.4L1266.3 1348.6L1268.1 1350.5L1269.8 1351.9L1271.6 1352.5L1273.4 1352.8L1275.2 1353.7L1276.9 1355L1278.7 1356.6L1280.5 1358.2L1282.3 1359.8L1284 1361.1L1285.8 1362L1287.6 1362.3L1289.3 1361.7L1291.1 1360.1L1292.9 1357.8L1294.7 1355.3L1296.4 1353.1L1298.2 1351.4L1300 1350.8L1301.8 1350.1L1303.5 1348.4L1305.3 1346.1L1307.1 1343.9L1308.9 1342.1L1310.6 1341.5L1312.4 1341.9L1314.2 1342.9L1316 1344.4L1317.7 1346.1L1319.5 1347.8L1321.3 1349.3L1323.1 1350.4L1324.8 1350.8L1326.6 1351.2L1328.4 1352.2L1330.1 1353.6L1331.9 1355.2L1333.7 1356.8L1335.5 1358.2L1337.2 1359.2L1339 1359.6L1340.8 1358.7L1342.6 1356.5L1344.3 1353.5L1346.1 1350.3L1347.9 1347.3L1349.7 1345.1L1351.4 1344.2L1353.2 1343.1L1355 1340.5L1356.8 1337.4L1358.5 1334.8L1360.3 1333.8L1362.1 1334.5L1363.9 1336.4L1365.6 1338.9L1367.4 1341.8L1369.2 1344.3L1371 1346.2L1372.7 1347L1374.5 1347.4L1376.3 1348.5L1378 1350L1379.8 1351.6L1381.6 1353.1L1383.4 1354.2L1385.1 1354.7L1386.9 1354.7L1388.7 1354.9L1390.5 1355.2L1392.2 1355.5L1394 1355.8L1395.8 1356.2L1397.6 1356.6L1399.3 1356.9L1401.1 1357.2L1402.9 1357.3L1404.7 1357.4L1406.4 1357.1L1408.2 1356.4L1410 1355.3L1411.8 1353.9L1413.5 1352.4L1415.3 1350.8L1417.1 1349.3L1418.8 1348L1420.6 1346.9L1422.4 1346.1L1424.2 1345.8L1425.9 1346.1L1427.7 1346.9L1429.5 1347.9L1431.3 1349.2L1433 1350.4L1434.8 1351.4L1436.6 1352.2L1438.4 1352.5L1440.1 1352.1L1441.9 1351.3L1443.7 1350.2L1445.5 1348.9L1447.2 1347.6L1449 1346.4L1450.8 1345.6L1452.6 1345.3L1454.3 1345.3L1456.1 1345.4L1457.9 1345.5L1459.7 1345.7L1461.4 1345.8L1463.2 1346L1465 1346.2L1466.7 1346.3L1468.5 1346.4L1470.3 1346.4L1472.1 1346.3L1473.8 1346L1475.6 1345.5L1477.4 1345L1479.2 1344.5L1480.9 1344L1482.7 1343.5L1484.5 1343.2L1486.3 1343.1L1488 1342.8L1489.8 1341.9L1491.6 1340.5L1493.4 1339L1495.1 1337.3L1496.9 1335.8L1498.7 1334.4L1500.5 1333.5L1502.2 1333.2L1504 1332.9L1505.8 1332.2L1507.5 1331.2L1509.3 1329.9L1511.1 1328.4L1512.9 1327L1514.6 1325.5L1516.4 1324.2L1518.2 1323.2L1520 1322.5L1521.7 1322.2L1523.5 1321.8L1525.3 1320.7L1527.1 1319L1528.8 1316.9L1530.6 1314.6L1532.4 1312.2L1534.2 1309.9L1535.9 1307.8L1537.7 1306.1L1539.5 1305L1541.3 1304.6L1543 1304.3L1544.8 1303.4L1546.6 1302L1548.4 1300.3L1550.1 1298.4L1551.9 1296.5L1553.7 1294.6L1555.4 1292.9L1557.2 1291.5L1559 1290.6L1560.8 1290.3L1562.5 1289.7L1564.3 1288.2L1566.1 1286.2L1567.9 1284.2L1569.6 1282.7L1571.4 1282L1573.2 1282.3L1575 1282.8L1576.7 1283.6L1578.5 1284.4L1580.3 1285.1L1582.1 1285.7L1583.8 1285.9L1585.6 1286.5L1587.4 1288L1589.2 1290L1590.9 1292.2L1592.7 1294.3L1594.5 1295.8L1596.2 1296.3L1598 1296.8L1599.8 1298.1L1601.6 1299.7L1603.3 1301.2L1605.1 1302.5L1606.9 1303L1608.7 1304.2L1610.4 1307.4L1612.2 1311.5L1614 1315.6L1615.8 1318.7L1617.5 1320L1619.3 1319.9L1621.1 1319.7L1622.9 1319.4L1624.6 1319L1626.4 1318.7L1628.2 1318.4L1630 1318.3L1631.7 1318.8L1633.5 1320.1L1635.3 1321.7L1637.1 1323.2L1638.8 1324.5L1640.6 1325L1642.4 1325.7L1644.1 1327.5L1645.9 1329.6L1647.7 1331.4L1649.5 1332.1L1651.2 1332.6L1653 1334L1654.8 1336.1L1656.6 1338.5L1658.3 1341.1L1660.1 1343.5L1661.9 1345.6L1663.7 1347L1665.4 1347.5L1667.2 1348.7L1669 1351.6L1670.8 1355L1672.5 1357.8L1674.3 1359L1676.1 1358.7L1677.9 1357.8L1679.6 1356.6L1681.4 1355.4L1683.2 1354.5L1684.9 1354.1L1686.7 1353.9L1688.5 1353.5L1690.3 1353L1692 1352.5L1693.8 1352.1L1695.6 1351.9L1697.4 1352.4L1699.1 1353.6L1700.9 1355.2L1702.7 1356.8L1704.5 1358L1706.2 1358.5L1708 1358L1709.8 1356.8L1711.6 1355L1713.3 1353.2L1715.1 1351.4L1716.9 1350.2L1718.7 1349.7L1720.4 1348.8L1722.2 1346.6L1724 1343.7L1725.8 1340.7L1727.5 1338.5L1729.3 1337.6L1731.1 1333.9L1732.8 1325.8L1734.6 1317.6L1736.4 1314L1738.2 1310.4L1739.9 1302.7L1741.7 1294.9L1743.5 1291.4L1745.3 1295.4L1747 1304L1748.8 1312.7L1750.6 1316.7L1752.4 1320.6L1754.1 1329.1L1755.9 1337.6L1757.7 1341.5L1759.5 1342.5L1761.2 1345.1L1763 1348.2L1764.8 1350.8L1766.6 1351.9L1768.3 1352.2L1770.1 1353L1771.9 1354.1L1773.7 1355.2L1775.4 1356L1777.2 1356.3L1779 1357.2L1780.7 1359.4L1782.5 1362L1784.3 1364.2L1786.1 1365.1L1787.8 1364.7L1789.6 1363.7L1791.4 1362.3L1793.2 1361L1794.9 1360L1796.7 1359.6L1798.5 1359.1L1800.3 1357.6L1802 1355.7L1803.8 1353.6L1805.6 1351.7L1807.4 1350.2L1809.1 1349.7L1810.9 1345.8L1812.7 1337.3L1814.5 1328.8L1816.2 1325L1818 1310L1819.8 1282.2L1821.5 1267.2L1823.3 1250.1L1825.1 1218.3L1826.9 1201.2L1828.6 1194L1830.4 1186.9L1832.2 1196.8L1834 1206.7L1835.7 1231.7L1837.5 1278L1839.3 1303L1841.1 1311.9L1842.8 1328.6L1844.6 1337.6L1846.4 1344.3L1848.2 1356.7L1849.9 1363.5L1851.7 1363.5L1853.5 1363.5L1855.3 1363.5L1857 1363.5L1858.8 1363.5L1860.6 1363.5L1862.3 1363.3L1864.1 1362.8L1865.9 1362.2L1867.7 1361.5L1869.4 1360.8L1871.2 1360.2L1873 1359.8L1874.8 1359.6L1876.5 1360.1L1878.3 1361.2L1880.1 1362.8L1881.9 1364.6L1883.6 1366.2L1885.4 1367.4L1887.2 1367.8L1889 1367.5L1890.7 1366.7L1892.5 1365.7L1894.3 1364.6L1896.1 1363.8L1897.8 1363.5L1899.6 1363.2L1901.4 1362.5L1903.2 1361.7L1904.9 1361L1906.7 1360.7" fill="none" stroke="#f5222a" stroke-width="4.6" stroke-dasharray="23 10 8 10" stroke-linejoin="round"/>
</g>
<path d="M1261 1091V1310" stroke="#111" stroke-width="1.9" fill="none" stroke-dasharray="4.3 4.9"/>
<path d="M1305.8 1091V1310" stroke="#111" stroke-width="1.9" fill="none" stroke-dasharray="4.3 4.9"/>
<path d="M1357.1 1091V1302" stroke="#111" stroke-width="1.9" fill="none" stroke-dasharray="4.3 4.9"/>
<path d="M1571.9 1091V1554" stroke="#111" stroke-width="1.9" fill="none" stroke-dasharray="4.3 4.9"/>
<path d="M1745.1 1091V1291" stroke="#111" stroke-width="1.9" fill="none" stroke-dasharray="4.3 4.9"/>
<path d="M1830.1 1091V1176" stroke="#111" stroke-width="1.9" fill="none" stroke-dasharray="4.3 4.9"/>
<text transform="translate(1257.4 1199) rotate(-90)" font-size="36" textLength="60.6" lengthAdjust="spacingAndGlyphs" stroke="#0a0a0a" stroke-width="0.5">HeII</text>
<text transform="translate(1302.4 1199) rotate(-90)" font-size="36" textLength="91" lengthAdjust="spacingAndGlyphs" stroke="#0a0a0a" stroke-width="0.5">[ArIV]</text>
<text transform="translate(1353.2 1199) rotate(-90)" font-size="36" textLength="91" lengthAdjust="spacingAndGlyphs" stroke="#0a0a0a" stroke-width="0.5">[ArIV]</text>
<text transform="translate(1567 1199) rotate(-90)" font-size="36" textLength="39" lengthAdjust="spacingAndGlyphs" stroke="#0a0a0a" stroke-width="0.5">Hβ</text>
<text transform="translate(1739.8 1198.5) rotate(-90)" font-size="36" textLength="76" lengthAdjust="spacingAndGlyphs" stroke="#0a0a0a" stroke-width="0.5">[OIII]</text>
<text transform="translate(1824.6 1198.5) rotate(-90)" font-size="36" textLength="76" lengthAdjust="spacingAndGlyphs" stroke="#0a0a0a" stroke-width="0.5">[OIII]</text>
<path d="M1285.8 1682v-11.5M1285.8 1079.3v11.5M1463.2 1682v-11.5M1463.2 1079.3v11.5M1640.6 1682v-11.5M1640.6 1079.3v11.5M1818 1682v-11.5M1818 1079.3v11.5" stroke="#000" stroke-width="4" fill="none"/>
<path d="M1214.8 1682v-5.5M1214.8 1079.3v5.5M1232.6 1682v-5.5M1232.6 1079.3v5.5M1250.3 1682v-5.5M1250.3 1079.3v5.5M1268.1 1682v-5.5M1268.1 1079.3v5.5M1285.8 1682v-5.5M1285.8 1079.3v5.5M1303.5 1682v-5.5M1303.5 1079.3v5.5M1321.3 1682v-5.5M1321.3 1079.3v5.5M1339 1682v-5.5M1339 1079.3v5.5M1356.8 1682v-5.5M1356.8 1079.3v5.5M1374.5 1682v-5.5M1374.5 1079.3v5.5M1392.2 1682v-5.5M1392.2 1079.3v5.5M1410 1682v-5.5M1410 1079.3v5.5M1427.7 1682v-5.5M1427.7 1079.3v5.5M1445.5 1682v-5.5M1445.5 1079.3v5.5M1463.2 1682v-5.5M1463.2 1079.3v5.5M1480.9 1682v-5.5M1480.9 1079.3v5.5M1498.7 1682v-5.5M1498.7 1079.3v5.5M1516.4 1682v-5.5M1516.4 1079.3v5.5M1534.2 1682v-5.5M1534.2 1079.3v5.5M1551.9 1682v-5.5M1551.9 1079.3v5.5M1569.6 1682v-5.5M1569.6 1079.3v5.5M1587.4 1682v-5.5M1587.4 1079.3v5.5M1605.1 1682v-5.5M1605.1 1079.3v5.5M1622.9 1682v-5.5M1622.9 1079.3v5.5M1640.6 1682v-5.5M1640.6 1079.3v5.5M1658.3 1682v-5.5M1658.3 1079.3v5.5M1676.1 1682v-5.5M1676.1 1079.3v5.5M1693.8 1682v-5.5M1693.8 1079.3v5.5M1711.6 1682v-5.5M1711.6 1079.3v5.5M1729.3 1682v-5.5M1729.3 1079.3v5.5M1747 1682v-5.5M1747 1079.3v5.5M1764.8 1682v-5.5M1764.8 1079.3v5.5M1782.5 1682v-5.5M1782.5 1079.3v5.5M1800.3 1682v-5.5M1800.3 1079.3v5.5M1818 1682v-5.5M1818 1079.3v5.5M1835.7 1682v-5.5M1835.7 1079.3v5.5M1853.5 1682v-5.5M1853.5 1079.3v5.5M1871.2 1682v-5.5M1871.2 1079.3v5.5M1889 1682v-5.5M1889 1079.3v5.5" stroke="#000" stroke-width="4" fill="none"/>
<path d="M1197.8 1624.7h14M1905.2 1624.7h-14M1197.8 1514.7h14M1905.2 1514.7h-14M1197.8 1404.7h14M1905.2 1404.7h-14M1197.8 1294.7h14M1905.2 1294.7h-14M1197.8 1184.7h14M1905.2 1184.7h-14" stroke="#000" stroke-width="4" fill="none"/>
<path d="M1197.8 1679.7h7M1905.2 1679.7h-7M1197.8 1652.2h7M1905.2 1652.2h-7M1197.8 1624.7h7M1905.2 1624.7h-7M1197.8 1597.2h7M1905.2 1597.2h-7M1197.8 1569.7h7M1905.2 1569.7h-7M1197.8 1542.2h7M1905.2 1542.2h-7M1197.8 1514.7h7M1905.2 1514.7h-7M1197.8 1487.2h7M1905.2 1487.2h-7M1197.8 1459.7h7M1905.2 1459.7h-7M1197.8 1432.2h7M1905.2 1432.2h-7M1197.8 1404.7h7M1905.2 1404.7h-7M1197.8 1377.2h7M1905.2 1377.2h-7M1197.8 1349.7h7M1905.2 1349.7h-7M1197.8 1322.2h7M1905.2 1322.2h-7M1197.8 1294.7h7M1905.2 1294.7h-7M1197.8 1267.2h7M1905.2 1267.2h-7M1197.8 1239.7h7M1905.2 1239.7h-7M1197.8 1212.2h7M1905.2 1212.2h-7M1197.8 1184.7h7M1905.2 1184.7h-7M1197.8 1157.2h7M1905.2 1157.2h-7M1197.8 1129.7h7M1905.2 1129.7h-7M1197.8 1102.2h7M1905.2 1102.2h-7" stroke="#000" stroke-width="4" fill="none"/>
<rect x="1197.8" y="1079.3" width="707.4" height="602.7" fill="none" stroke="#000" stroke-width="4.2" stroke-linejoin="round"/>
<g clip-path="url(#kp5)">
<path d="M2104.3 1507.1L2106.3 1505.2L2108.3 1505.6L2110.2 1505.6L2112.2 1506.9L2114.2 1504.4L2116.2 1502.9L2118.2 1505L2120.1 1503.6L2122.1 1505.2L2124.1 1504.2L2126.1 1505.4L2128.1 1511.8L2130 1509.2L2132 1508.6L2134 1507.3L2136 1504.5L2138 1506.1L2139.9 1502.9L2141.9 1502L2143.9 1502.5L2145.9 1501.9L2147.9 1501.9L2149.8 1503.1L2151.8 1502L2153.8 1493.9L2155.8 1498.1L2157.8 1500.6L2159.7 1502.6L2161.7 1507.9L2163.7 1510.4L2165.7 1509.5L2167.7 1511.7L2169.6 1513.8L2171.6 1518L2173.6 1520.6L2175.6 1519.4L2177.6 1519.1L2179.5 1516L2181.5 1516.2L2183.5 1516.8L2185.5 1516L2187.5 1518.4L2189.4 1514.1L2191.4 1516.8L2193.4 1517.3L2195.4 1511.8L2197.4 1510.2L2199.3 1508.4L2201.3 1508.6L2203.3 1511.8L2205.3 1511.3L2207.3 1510.8L2209.2 1509.5L2211.2 1506.7L2213.2 1504.2L2215.2 1506.8L2217.2 1503.5L2219.1 1504.7L2221.1 1501.9L2223.1 1503.5L2225.1 1504.4L2227.1 1501.7L2229 1500.9L2231 1501.4L2233 1503.6L2235 1501.5L2237 1501.5L2238.9 1498.1L2240.9 1499.5L2242.9 1501.3L2244.9 1502.7L2246.9 1502.4L2248.8 1505.3L2250.8 1508.2L2252.8 1506.3L2254.8 1510.8L2256.8 1509.1L2258.7 1510.6L2260.7 1505.4L2262.7 1503.1L2264.7 1503L2266.7 1503.9L2268.6 1496.9L2270.6 1499.4L2272.6 1497.7L2274.6 1500.7L2276.6 1500.2L2278.5 1499.2L2280.5 1502.3L2282.5 1500.4L2284.5 1498.1L2286.5 1498.3L2288.4 1503L2290.4 1497.5L2292.4 1510.4L2294.4 1512.8L2296.4 1512.1L2298.3 1515.3L2300.3 1515.3L2302.3 1511.6L2304.3 1511.6L2306.3 1510.8L2308.2 1515.4L2310.2 1512.8L2312.2 1510.6L2314.2 1513.5L2316.2 1513.2L2318.1 1510.8L2320.1 1510.1L2322.1 1507L2324.1 1505.9L2326.1 1504.5L2328 1498.9L2330 1495.7L2332 1500.9L2334 1502.3L2336 1506.2L2337.9 1506.8L2339.9 1507.4L2341.9 1503.4L2343.9 1500.8L2345.9 1501.1L2347.8 1504.7L2349.8 1501.4L2351.8 1503.3L2353.8 1506.3L2355.8 1508.8L2357.7 1506.7L2359.7 1501.8L2361.7 1503.9L2363.7 1501.5L2365.7 1502.9L2367.6 1499L2369.6 1502.3L2371.6 1495.8L2373.6 1495.8L2375.6 1503.1L2377.5 1500.2L2379.5 1506.1L2381.5 1509.6L2383.5 1506.7L2385.5 1509.1L2387.4 1509.8L2389.4 1508.7L2391.4 1507.6L2393.4 1505.5L2395.4 1504.5L2397.3 1505.1L2399.3 1502L2401.3 1502.7L2403.3 1502L2405.3 1503.4L2407.2 1506.1L2409.2 1504.6L2411.2 1507.5L2413.2 1508.9L2415.2 1507.4L2417.1 1506.5L2419.1 1503.7L2421.1 1505.5L2423.1 1507.6L2425.1 1506L2427 1506.5L2429 1506.5L2431 1506.6L2433 1509.6L2435 1508.4L2436.9 1508L2438.9 1506.1L2440.9 1505.6L2442.9 1506.1L2444.9 1504.8L2446.8 1503.7L2448.8 1501.5L2450.8 1502.6L2452.8 1501.4L2454.8 1503.4L2456.7 1504.4L2458.7 1500.9L2460.7 1501.4L2462.7 1502.5L2464.7 1501.1L2466.6 1497.8L2468.6 1501.1L2470.6 1497.1L2472.6 1500.4L2474.6 1498.2L2476.5 1506.1L2478.5 1505.9L2480.5 1509.3L2482.5 1506.1L2484.5 1505.4L2486.4 1505.5L2488.4 1503.2L2490.4 1508L2492.4 1501.9L2494.4 1502.8L2496.3 1506.2L2498.3 1503.6L2500.3 1503.3L2502.3 1502.1L2504.3 1500.1L2506.2 1499.2L2508.2 1501.6L2510.2 1502L2512.2 1503L2514.2 1501.1L2516.1 1499.8L2518.1 1499.9L2520.1 1501.3L2522.1 1502.8L2524.1 1501L2526 1504L2528 1503.7L2530 1505.2L2532 1502.3L2534 1500.9L2535.9 1502.2L2537.9 1502.8L2539.9 1503L2541.9 1503.5L2543.9 1501.3L2545.8 1505.1L2547.8 1506.9L2549.8 1507.6L2551.8 1510.4L2553.8 1508.9L2555.7 1507.8L2557.7 1509.6L2559.7 1507.6L2561.7 1508.6L2563.7 1506.9L2565.6 1508.2L2567.6 1506.7L2569.6 1507L2571.6 1507.1L2573.6 1507.7L2575.5 1507.7L2577.5 1511L2579.5 1507.3L2581.5 1510.3L2583.5 1513.9L2585.4 1515.4L2587.4 1517.2L2589.4 1516.1L2591.4 1516.3L2593.4 1516.8L2595.3 1521.6L2597.3 1520.1L2599.3 1525.8L2601.3 1526.5L2603.3 1522.4L2605.2 1522.4L2607.2 1524.7L2609.2 1522L2611.2 1522.8L2613.2 1522.8L2615.1 1521.1L2617.1 1517L2619.1 1517.7L2621.1 1520.2L2623.1 1519.8L2625 1521.9L2627 1515L2629 1517.8L2631 1517.2L2633 1520.2L2634.9 1520L2636.9 1519.2L2638.9 1520.1L2640.9 1513.6L2642.9 1515.5L2644.8 1515.9L2646.8 1517L2648.8 1514.8L2650.8 1512.9L2652.8 1512.4L2654.7 1514.1L2656.7 1515.5L2658.7 1515.3L2660.7 1514.1L2662.7 1514.8L2664.6 1509.5L2666.6 1510.1L2668.6 1513.1L2670.6 1514.1L2672.6 1515L2674.5 1512.9L2676.5 1513.9L2678.5 1510.6L2680.5 1514L2682.5 1514.8L2684.4 1516.2L2686.4 1516.8L2688.4 1518.8L2690.4 1512.6L2692.4 1514.7L2694.3 1518.3L2696.3 1518.4L2698.3 1518.3L2700.3 1514.7L2702.3 1514.3L2704.2 1510.9L2706.2 1508.1L2708.2 1505L2710.2 1507L2712.2 1512.1L2714.1 1509.5L2716.1 1507L2718.1 1504.4L2720.1 1506.3L2722.1 1504.1L2724 1503.2L2726 1507.3L2728 1509.5L2730 1515.5L2732 1513.5L2733.9 1513L2735.9 1511.6L2737.9 1514.2L2739.9 1510.9L2741.9 1506.4L2743.8 1515.5L2745.8 1510.2L2747.8 1510.3L2749.8 1517.2L2751.8 1514L2753.7 1507.4L2755.7 1509.5L2757.7 1522.4L2759.7 1518.5L2761.7 1513.5L2763.6 1517.3L2765.6 1521L2767.6 1516.2L2769.6 1513.8L2771.6 1514.2L2773.5 1515.7L2775.5 1516.3L2777.5 1517.1L2779.5 1514.5L2781.5 1515.7L2783.4 1514.3L2785.4 1513.8L2787.4 1515.8L2789.4 1520.9L2791.4 1516L2793.3 1518.7L2795.3 1518.3L2797.3 1515.2L2799.3 1512.4L2801.3 1511.7L2803.2 1512.9L2805.2 1515.1L2807.2 1516L2809.2 1516.3L2811.2 1518.8L2813.1 1519.5L2815.1 1516.1L2817.1 1517.2L2819.1 1521.1L2821.1 1518.8L2823 1520.5L2825 1522L2827 1521.4L2829 1519.8L2831 1520.3L2832.9 1519.5L2834.9 1515.8L2836.9 1516.6L2838.9 1513.1L2840.9 1516.2L2842.8 1514.1L2844.8 1518.4L2846.8 1513.7L2848.8 1512.7L2850.8 1512.9L2852.7 1510.4L2854.7 1511.3L2856.7 1508.4L2858.7 1506.9L2860.7 1509L2862.6 1509.5L2864.6 1509.5L2866.6 1509.6L2868.6 1510.5L2870.6 1508.6L2872.5 1510.2L2874.5 1512.1L2876.5 1509.1L2878.5 1510.6L2880.5 1508.3L2882.4 1509.3L2884.4 1506.2L2886.4 1505.5L2888.4 1507.2L2890.4 1509.5L2892.3 1511.5L2894.3 1514.9L2896.3 1515.9L2898.3 1511.6L2900.3 1514.7L2902.2 1512.6L2904.2 1513.7L2906.2 1513.6L2908.2 1515L2910.2 1513.3L2912.1 1511.7L2914.1 1512.6L2916.1 1517L2918.1 1522.9L2920.1 1530.5L2922 1539.1L2924 1545L2926 1544.1L2928 1553.1L2930 1555.8L2931.9 1555.9L2933.9 1558.6L2935.9 1559.5L2937.9 1553.7L2939.9 1550.7L2941.8 1542L2943.8 1538.1L2945.8 1536.6L2947.8 1529.8L2949.8 1533.3L2951.7 1528.4L2953.7 1530.2L2955.7 1533.1L2957.7 1535L2959.7 1534L2961.6 1536L2963.6 1533.5L2965.6 1535L2967.6 1536.8L2969.6 1536.4L2971.5 1534.8L2973.5 1533.6L2975.5 1536.9L2977.5 1537.7L2979.5 1532L2981.4 1534.4L2983.4 1532.7L2985.4 1532.3L2987.4 1533.4L2989.4 1530.4L2991.3 1533.8L2993.3 1529.7L2995.3 1529.7L2997.3 1528.4L2999.3 1528.7L3001.2 1526.1L3003.2 1519.6L3005.2 1512.4L3007.2 1514.4L3009.2 1514.4L3011.1 1517.8L3013.1 1516.7L3015.1 1517.5L3017.1 1521L3019.1 1520.3L3021 1516.8L3023 1516L3025 1517.2L3027 1517L3029 1515.1L3030.9 1513.6L3032.9 1511.8L3034.9 1511.8L3036.9 1518.8L3038.9 1517L3040.8 1517.7L3042.8 1522.6L3044.8 1526L3046.8 1523L3048.8 1530.2L3050.7 1530.4L3052.7 1530.4L3054.7 1527.4L3056.7 1527.1L3058.7 1528.3L3060.6 1527.9L3062.6 1524.9L3064.6 1526.3L3066.6 1526.2L3068.6 1522.8L3070.5 1525.3L3072.5 1522.3L3074.5 1522.9L3076.5 1522.7L3078.5 1520.1L3080.4 1523L3082.4 1521.5L3084.4 1520.1L3086.4 1518.8L3088.4 1524.4L3090.3 1524.2L3092.3 1522.1L3094.3 1524.5" fill="none" stroke="#111" stroke-width="2.3" stroke-dasharray="2.3 3.4"/>
<path d="M2104.6 1515.4H3094" stroke="#0a0a0a" stroke-width="4.6" fill="none" stroke-dasharray="4.6 10.2"/>
<path d="M2104.3 1670L2105.3 1670L2106.3 1670L2107.3 1670L2108.3 1670L2109.2 1670L2110.2 1670L2111.2 1670L2112.2 1670L2113.2 1670L2114.2 1670L2115.2 1670L2116.2 1670L2117.2 1670L2118.2 1670L2119.2 1670L2120.1 1670L2121.1 1670L2122.1 1670L2123.1 1670L2124.1 1670L2125.1 1670L2126.1 1670L2127.1 1670L2128.1 1670L2129.1 1670L2130 1670L2131 1670L2132 1670L2133 1670L2134 1670L2135 1670L2136 1670L2137 1670L2138 1670L2138.9 1670L2139.9 1670L2140.9 1670L2141.9 1670L2142.9 1670L2143.9 1670L2144.9 1670L2145.9 1670L2146.9 1670L2147.9 1670L2148.8 1670L2149.8 1670L2150.8 1670L2151.8 1670L2152.8 1670L2153.8 1670L2154.8 1670L2155.8 1670L2156.8 1670L2157.8 1670L2158.8 1670L2159.7 1670L2160.7 1670L2161.7 1670L2162.7 1670L2163.7 1670L2164.7 1670L2165.7 1670L2166.7 1670L2167.7 1670L2168.7 1670L2169.6 1670L2170.6 1670L2171.6 1670L2172.6 1670L2173.6 1670L2174.6 1670L2175.6 1670L2176.6 1670L2177.6 1670L2178.6 1670L2179.5 1670L2180.5 1670L2181.5 1670L2182.5 1670L2183.5 1670L2184.5 1670L2185.5 1670L2186.5 1670L2187.5 1670L2188.4 1670L2189.4 1670L2190.4 1670L2191.4 1670L2192.4 1670L2193.4 1670L2194.4 1670L2195.4 1670L2196.4 1670L2197.4 1670L2198.3 1670L2199.3 1670L2200.3 1670L2201.3 1670L2202.3 1670L2203.3 1670L2204.3 1670L2205.3 1670L2206.3 1670L2207.3 1670L2208.2 1670L2209.2 1670L2210.2 1670L2211.2 1670L2212.2 1670L2213.2 1670L2214.2 1670L2215.2 1670L2216.2 1670L2217.2 1670L2218.2 1670L2219.1 1670L2220.1 1670L2221.1 1670L2222.1 1670L2223.1 1670L2224.1 1670L2225.1 1670L2226.1 1670L2227.1 1670L2228.1 1670L2229 1670L2230 1670L2231 1670L2232 1670L2233 1670L2234 1670L2235 1670L2236 1670L2237 1670L2237.9 1670L2238.9 1670L2239.9 1670L2240.9 1670L2241.9 1670L2242.9 1670L2243.9 1670L2244.9 1670L2245.9 1670L2246.9 1670L2247.8 1670L2248.8 1670L2249.8 1670L2250.8 1670L2251.8 1670L2252.8 1670L2253.8 1670L2254.8 1670L2255.8 1670L2256.8 1670L2257.8 1670L2258.7 1670L2259.7 1670L2260.7 1670L2261.7 1670L2262.7 1670L2263.7 1670L2264.7 1670L2265.7 1670L2266.7 1670L2267.7 1670L2268.6 1670L2269.6 1670L2270.6 1670L2271.6 1670L2272.6 1670L2273.6 1670L2274.6 1670L2275.6 1670L2276.6 1670L2277.6 1670L2278.5 1670L2279.5 1670L2280.5 1670L2281.5 1670L2282.5 1670L2283.5 1670L2284.5 1670L2285.5 1670L2286.5 1670L2287.4 1670L2288.4 1670L2289.4 1670L2290.4 1670L2291.4 1670L2292.4 1670L2293.4 1670L2294.4 1670L2295.4 1670L2296.4 1670L2297.3 1670L2298.3 1670L2299.3 1670L2300.3 1670L2301.3 1670L2302.3 1670L2303.3 1670L2304.3 1670L2305.3 1670L2306.3 1670L2307.2 1670L2308.2 1670L2309.2 1670L2310.2 1670L2311.2 1670L2312.2 1670L2313.2 1670L2314.2 1670L2315.2 1670L2316.2 1670L2317.2 1670L2318.1 1670L2319.1 1670L2320.1 1670L2321.1 1670L2322.1 1670L2323.1 1670L2324.1 1670L2325.1 1670L2326.1 1670L2327.1 1670L2328 1670L2329 1670L2330 1670L2331 1670L2332 1670L2333 1670L2334 1670L2335 1670L2336 1670L2336.9 1670L2337.9 1670L2338.9 1670L2339.9 1670L2340.9 1670L2341.9 1670L2342.9 1670L2343.9 1670L2344.9 1670L2345.9 1670L2346.8 1670L2347.8 1670L2348.8 1670L2349.8 1670L2350.8 1670L2351.8 1670L2352.8 1670L2353.8 1670L2354.8 1670L2355.8 1670L2356.8 1670L2357.7 1670L2358.7 1670L2359.7 1670L2360.7 1670L2361.7 1670L2362.7 1670L2363.7 1670L2364.7 1670L2365.7 1670L2366.7 1670L2367.6 1670L2368.6 1670L2369.6 1670L2370.6 1670L2371.6 1670L2372.6 1670L2373.6 1670L2374.6 1670L2375.6 1670L2376.6 1670L2377.5 1670L2378.5 1670L2379.5 1670L2380.5 1670L2381.5 1670L2382.5 1670L2383.5 1670L2384.5 1670L2385.5 1670L2386.4 1670L2387.4 1670L2388.4 1670L2389.4 1670L2390.4 1670L2391.4 1670L2392.4 1670L2393.4 1670L2394.4 1670L2395.4 1670L2396.3 1670L2397.3 1670L2398.3 1670L2399.3 1670L2400.3 1670L2401.3 1670L2402.3 1669.9L2403.3 1669.9L2404.3 1669.9L2405.3 1669.9L2406.2 1669.9L2407.2 1669.9L2408.2 1669.9L2409.2 1669.9L2410.2 1669.9L2411.2 1669.9L2412.2 1669.9L2413.2 1669.9L2414.2 1669.9L2415.2 1669.9L2416.2 1669.9L2417.1 1669.9L2418.1 1669.9L2419.1 1669.9L2420.1 1669.9L2421.1 1669.9L2422.1 1669.9L2423.1 1669.8L2424.1 1669.8L2425.1 1669.8L2426.1 1669.8L2427 1669.8L2428 1669.8L2429 1669.8L2430 1669.8L2431 1669.8L2432 1669.8L2433 1669.8L2434 1669.7L2435 1669.7L2435.9 1669.7L2436.9 1669.7L2437.9 1669.7L2438.9 1669.7L2439.9 1669.7L2440.9 1669.6L2441.9 1669.6L2442.9 1669.6L2443.9 1669.6L2444.9 1669.6L2445.8 1669.6L2446.8 1669.5L2447.8 1669.5L2448.8 1669.5L2449.8 1669.5L2450.8 1669.4L2451.8 1669.4L2452.8 1669.4L2453.8 1669.4L2454.8 1669.3L2455.8 1669.3L2456.7 1669.3L2457.7 1669.3L2458.7 1669.2L2459.7 1669.2L2460.7 1669.1L2461.7 1669.1L2462.7 1669.1L2463.7 1669L2464.7 1669L2465.7 1669L2466.6 1668.9L2467.6 1668.9L2468.6 1668.8L2469.6 1668.8L2470.6 1668.7L2471.6 1668.7L2472.6 1668.6L2473.6 1668.6L2474.6 1668.5L2475.6 1668.4L2476.5 1668.4L2477.5 1668.3L2478.5 1668.2L2479.5 1668.2L2480.5 1668.1L2481.5 1668L2482.5 1667.9L2483.5 1667.9L2484.5 1667.8L2485.4 1667.7L2486.4 1667.6L2487.4 1667.5L2488.4 1667.4L2489.4 1667.3L2490.4 1667.2L2491.4 1667.1L2492.4 1667L2493.4 1666.9L2494.4 1666.8L2495.3 1666.7L2496.3 1666.6L2497.3 1666.4L2498.3 1666.3L2499.3 1666.2L2500.3 1666L2501.3 1665.9L2502.3 1665.7L2503.3 1665.6L2504.3 1665.4L2505.2 1665.3L2506.2 1665.1L2507.2 1665L2508.2 1664.8L2509.2 1664.6L2510.2 1664.4L2511.2 1664.2L2512.2 1664.1L2513.2 1663.9L2514.2 1663.7L2515.2 1663.4L2516.1 1663.2L2517.1 1663L2518.1 1662.8L2519.1 1662.6L2520.1 1662.3L2521.1 1662.1L2522.1 1661.8L2523.1 1661.6L2524.1 1661.3L2525.1 1661L2526 1660.8L2527 1660.5L2528 1660.2L2529 1659.9L2530 1659.6L2531 1659.3L2532 1659L2533 1658.6L2534 1658.3L2534.9 1658L2535.9 1657.6L2536.9 1657.3L2537.9 1656.9L2538.9 1656.5L2539.9 1656.2L2540.9 1655.8L2541.9 1655.4L2542.9 1655L2543.9 1654.6L2544.8 1654.1L2545.8 1653.7L2546.8 1653.3L2547.8 1652.8L2548.8 1652.4L2549.8 1651.9L2550.8 1651.4L2551.8 1651L2552.8 1650.5L2553.8 1650L2554.8 1649.5L2555.7 1648.9L2556.7 1648.4L2557.7 1647.9L2558.7 1647.3L2559.7 1646.8L2560.7 1646.2L2561.7 1645.7L2562.7 1645.1L2563.7 1644.5L2564.7 1643.9L2565.6 1643.3L2566.6 1642.7L2567.6 1642L2568.6 1641.4L2569.6 1640.8L2570.6 1640.1L2571.6 1639.4L2572.6 1638.8L2573.6 1638.1L2574.6 1637.4L2575.5 1636.7L2576.5 1636L2577.5 1635.3L2578.5 1634.5L2579.5 1633.8L2580.5 1633.1L2581.5 1632.3L2582.5 1631.6L2583.5 1630.8L2584.4 1630L2585.4 1629.2L2586.4 1628.4L2587.4 1627.6L2588.4 1626.8L2589.4 1626L2590.4 1625.2L2591.4 1624.4L2592.4 1623.5L2593.4 1622.7L2594.3 1621.8L2595.3 1621L2596.3 1620.1L2597.3 1619.2L2598.3 1618.4L2599.3 1617.5L2600.3 1616.6L2601.3 1615.7L2602.3 1614.8L2603.3 1613.9L2604.2 1613L2605.2 1612.1L2606.2 1611.2L2607.2 1610.3L2608.2 1609.4L2609.2 1608.4L2610.2 1607.5L2611.2 1606.6L2612.2 1605.7L2613.2 1604.7L2614.2 1603.8L2615.1 1602.9L2616.1 1601.9L2617.1 1601L2618.1 1600.1L2619.1 1599.1L2620.1 1598.2L2621.1 1597.3L2622.1 1596.3L2623.1 1595.4L2624.1 1594.5L2625 1593.5L2626 1592.6L2627 1591.7L2628 1590.8L2629 1589.9L2630 1588.9L2631 1588L2632 1587.1L2633 1586.2L2633.9 1585.4L2634.9 1584.5L2635.9 1583.6L2636.9 1582.7L2637.9 1581.9L2638.9 1581L2639.9 1580.2L2640.9 1579.3L2641.9 1578.5L2642.9 1577.7L2643.8 1576.9L2644.8 1576L2645.8 1575.3L2646.8 1574.5L2647.8 1573.7L2648.8 1572.9L2649.8 1572.2L2650.8 1571.5L2651.8 1570.7L2652.8 1570L2653.8 1569.3L2654.7 1568.6L2655.7 1568L2656.7 1567.3L2657.7 1566.7L2658.7 1566L2659.7 1565.4L2660.7 1564.8L2661.7 1564.3L2662.7 1563.7L2663.7 1563.1L2664.6 1562.6L2665.6 1562.1L2666.6 1561.6L2667.6 1561.1L2668.6 1560.7L2669.6 1560.2L2670.6 1559.8L2671.6 1559.4L2672.6 1559L2673.6 1558.6L2674.5 1558.3L2675.5 1557.9L2676.5 1557.6L2677.5 1557.3L2678.5 1557L2679.5 1556.8L2680.5 1556.5L2681.5 1556.3L2682.5 1556.1L2683.4 1556L2684.4 1555.8L2685.4 1555.7L2686.4 1555.6L2687.4 1555.5L2688.4 1555.4L2689.4 1555.3L2690.4 1555.3L2691.4 1555.3L2692.4 1555.3L2693.3 1555.3L2694.3 1555.4L2695.3 1555.5L2696.3 1555.6L2697.3 1555.7L2698.3 1555.8L2699.3 1556L2700.3 1556.1L2701.3 1556.3L2702.3 1556.5L2703.2 1556.8L2704.2 1557L2705.2 1557.3L2706.2 1557.6L2707.2 1557.9L2708.2 1558.3L2709.2 1558.6L2710.2 1559L2711.2 1559.4L2712.2 1559.8L2713.2 1560.2L2714.1 1560.7L2715.1 1561.1L2716.1 1561.6L2717.1 1562.1L2718.1 1562.6L2719.1 1563.1L2720.1 1563.7L2721.1 1564.3L2722.1 1564.8L2723.1 1565.4L2724 1566L2725 1566.7L2726 1567.3L2727 1568L2728 1568.6L2729 1569.3L2730 1570L2731 1570.7L2732 1571.5L2732.9 1572.2L2733.9 1572.9L2734.9 1573.7L2735.9 1574.5L2736.9 1575.3L2737.9 1576L2738.9 1576.9L2739.9 1577.7L2740.9 1578.5L2741.9 1579.3L2742.8 1580.2L2743.8 1581L2744.8 1581.9L2745.8 1582.7L2746.8 1583.6L2747.8 1584.5L2748.8 1585.4L2749.8 1586.2L2750.8 1587.1L2751.8 1588L2752.8 1588.9L2753.7 1589.9L2754.7 1590.8L2755.7 1591.7L2756.7 1592.6L2757.7 1593.5L2758.7 1594.5L2759.7 1595.4L2760.7 1596.3L2761.7 1597.3L2762.7 1598.2L2763.6 1599.1L2764.6 1600.1L2765.6 1601L2766.6 1601.9L2767.6 1602.9L2768.6 1603.8L2769.6 1604.7L2770.6 1605.7L2771.6 1606.6L2772.6 1607.5L2773.5 1608.4L2774.5 1609.4L2775.5 1610.3L2776.5 1611.2L2777.5 1612.1L2778.5 1613L2779.5 1613.9L2780.5 1614.8L2781.5 1615.7L2782.4 1616.6L2783.4 1617.5L2784.4 1618.4L2785.4 1619.2L2786.4 1620.1L2787.4 1621L2788.4 1621.8L2789.4 1622.7L2790.4 1623.5L2791.4 1624.4L2792.3 1625.2L2793.3 1626L2794.3 1626.8L2795.3 1627.6L2796.3 1628.4L2797.3 1629.2L2798.3 1630L2799.3 1630.8L2800.3 1631.6L2801.3 1632.3L2802.2 1633.1L2803.2 1633.8L2804.2 1634.5L2805.2 1635.3L2806.2 1636L2807.2 1636.7L2808.2 1637.4L2809.2 1638.1L2810.2 1638.8L2811.2 1639.4L2812.2 1640.1L2813.1 1640.8L2814.1 1641.4L2815.1 1642L2816.1 1642.7L2817.1 1643.3L2818.1 1643.9L2819.1 1644.5L2820.1 1645.1L2821.1 1645.7L2822.1 1646.2L2823 1646.8L2824 1647.3L2825 1647.9L2826 1648.4L2827 1648.9L2828 1649.5L2829 1650L2830 1650.5L2831 1651L2831.9 1651.4L2832.9 1651.9L2833.9 1652.4L2834.9 1652.8L2835.9 1653.3L2836.9 1653.7L2837.9 1654.1L2838.9 1654.6L2839.9 1655L2840.9 1655.4L2841.8 1655.8L2842.8 1656.2L2843.8 1656.5L2844.8 1656.9L2845.8 1657.3L2846.8 1657.6L2847.8 1658L2848.8 1658.3L2849.8 1658.6L2850.8 1659L2851.8 1659.3L2852.7 1659.6L2853.7 1659.9L2854.7 1660.2L2855.7 1660.5L2856.7 1660.8L2857.7 1661L2858.7 1661.3L2859.7 1661.6L2860.7 1661.8L2861.7 1662.1L2862.6 1662.3L2863.6 1662.6L2864.6 1662.8L2865.6 1663L2866.6 1663.2L2867.6 1663.4L2868.6 1663.7L2869.6 1663.9L2870.6 1664.1L2871.6 1664.2L2872.5 1664.4L2873.5 1664.6L2874.5 1664.8L2875.5 1665L2876.5 1665.1L2877.5 1665.3L2878.5 1665.4L2879.5 1665.6L2880.5 1665.7L2881.4 1665.9L2882.4 1666L2883.4 1666.2L2884.4 1666.3L2885.4 1666.4L2886.4 1666.6L2887.4 1666.7L2888.4 1666.8L2889.4 1666.9L2890.4 1667L2891.3 1667.1L2892.3 1667.2L2893.3 1667.3L2894.3 1667.4L2895.3 1667.5L2896.3 1667.6L2897.3 1667.7L2898.3 1667.8L2899.3 1667.9L2900.3 1667.9L2901.2 1668L2902.2 1668.1L2903.2 1668.2L2904.2 1668.2L2905.2 1668.3L2906.2 1668.4L2907.2 1668.4L2908.2 1668.5L2909.2 1668.6L2910.2 1668.6L2911.2 1668.7L2912.1 1668.7L2913.1 1668.8L2914.1 1668.8L2915.1 1668.9L2916.1 1668.9L2917.1 1669L2918.1 1669L2919.1 1669L2920.1 1669.1L2921.1 1669.1L2922 1669.1L2923 1669.2L2924 1669.2L2925 1669.3L2926 1669.3L2927 1669.3L2928 1669.3L2929 1669.4L2930 1669.4L2930.9 1669.4L2931.9 1669.4L2932.9 1669.5L2933.9 1669.5L2934.9 1669.5L2935.9 1669.5L2936.9 1669.6L2937.9 1669.6L2938.9 1669.6L2939.9 1669.6L2940.8 1669.6L2941.8 1669.6L2942.8 1669.7L2943.8 1669.7L2944.8 1669.7L2945.8 1669.7L2946.8 1669.7L2947.8 1669.7L2948.8 1669.7L2949.8 1669.8L2950.8 1669.8L2951.7 1669.8L2952.7 1669.8L2953.7 1669.8L2954.7 1669.8L2955.7 1669.8L2956.7 1669.8L2957.7 1669.8L2958.7 1669.8L2959.7 1669.8L2960.7 1669.9L2961.6 1669.9L2962.6 1669.9L2963.6 1669.9L2964.6 1669.9L2965.6 1669.9L2966.6 1669.9L2967.6 1669.9L2968.6 1669.9L2969.6 1669.9L2970.6 1669.9L2971.5 1669.9L2972.5 1669.9L2973.5 1669.9L2974.5 1669.9L2975.5 1669.9L2976.5 1669.9L2977.5 1669.9L2978.5 1669.9L2979.5 1669.9L2980.4 1669.9L2981.4 1670L2982.4 1670L2983.4 1670L2984.4 1670L2985.4 1670L2986.4 1670L2987.4 1670L2988.4 1670L2989.4 1670L2990.3 1670L2991.3 1670L2992.3 1670L2993.3 1670L2994.3 1670L2995.3 1670L2996.3 1670L2997.3 1670L2998.3 1670L2999.3 1670L3000.2 1670L3001.2 1670L3002.2 1670L3003.2 1670L3004.2 1670L3005.2 1670L3006.2 1670L3007.2 1670L3008.2 1670L3009.2 1670L3010.2 1670L3011.1 1670L3012.1 1670L3013.1 1670L3014.1 1670L3015.1 1670L3016.1 1670L3017.1 1670L3018.1 1670L3019.1 1670L3020.1 1670L3021 1670L3022 1670L3023 1670L3024 1670L3025 1670L3026 1670L3027 1670L3028 1670L3029 1670L3029.9 1670L3030.9 1670L3031.9 1670L3032.9 1670L3033.9 1670L3034.9 1670L3035.9 1670L3036.9 1670L3037.9 1670L3038.9 1670L3039.8 1670L3040.8 1670L3041.8 1670L3042.8 1670L3043.8 1670L3044.8 1670L3045.8 1670L3046.8 1670L3047.8 1670L3048.8 1670L3049.8 1670L3050.7 1670L3051.7 1670L3052.7 1670L3053.7 1670L3054.7 1670L3055.7 1670L3056.7 1670L3057.7 1670L3058.7 1670L3059.7 1670L3060.6 1670L3061.6 1670L3062.6 1670L3063.6 1670L3064.6 1670L3065.6 1670L3066.6 1670L3067.6 1670L3068.6 1670L3069.6 1670L3070.5 1670L3071.5 1670L3072.5 1670L3073.5 1670L3074.5 1670L3075.5 1670L3076.5 1670L3077.5 1670L3078.5 1670L3079.4 1670L3080.4 1670L3081.4 1670L3082.4 1670L3083.4 1670L3084.4 1670L3085.4 1670L3086.4 1670L3087.4 1670L3088.4 1670L3089.3 1670L3090.3 1670L3091.3 1670L3092.3 1670L3093.3 1670L3094.3 1670" fill="none" stroke="#36cc66" stroke-width="3.8" stroke-linejoin="round"/>
<path d="M2539.9 1670L2540.9 1670L2541.9 1670L2542.9 1670L2543.9 1670L2544.8 1670L2545.8 1670L2546.8 1670L2547.8 1670L2548.8 1670L2549.8 1670L2550.8 1670L2551.8 1670L2552.8 1670L2553.8 1670L2554.8 1670L2555.7 1670L2556.7 1670L2557.7 1670L2558.7 1670L2559.7 1670L2560.7 1670L2561.7 1670L2562.7 1670L2563.7 1670L2564.7 1670L2565.6 1670L2566.6 1670L2567.6 1670L2568.6 1670L2569.6 1670L2570.6 1670L2571.6 1670L2572.6 1670L2573.6 1670L2574.6 1670L2575.5 1670L2576.5 1670L2577.5 1670L2578.5 1670L2579.5 1670L2580.5 1670L2581.5 1670L2582.5 1670L2583.5 1670L2584.4 1670L2585.4 1670L2586.4 1670L2587.4 1670L2588.4 1670L2589.4 1670L2590.4 1670L2591.4 1670L2592.4 1670L2593.4 1670L2594.3 1670L2595.3 1670L2596.3 1670L2597.3 1670L2598.3 1670L2599.3 1670L2600.3 1670L2601.3 1670L2602.3 1670L2603.3 1670L2604.2 1670L2605.2 1670L2606.2 1670L2607.2 1670L2608.2 1670L2609.2 1670L2610.2 1670L2611.2 1670L2612.2 1670L2613.2 1670L2614.2 1670L2615.1 1670L2616.1 1670L2617.1 1670L2618.1 1670L2619.1 1670L2620.1 1670L2621.1 1670L2622.1 1670L2623.1 1670L2624.1 1670L2625 1670L2626 1670L2627 1670L2628 1670L2629 1670L2630 1670L2631 1670L2632 1670L2633 1670L2633.9 1670L2634.9 1670L2635.9 1670L2636.9 1670L2637.9 1670L2638.9 1670L2639.9 1670L2640.9 1670L2641.9 1670L2642.9 1670L2643.8 1670L2644.8 1670L2645.8 1670L2646.8 1670L2647.8 1670L2648.8 1669.9L2649.8 1669.9L2650.8 1669.9L2651.8 1669.9L2652.8 1669.9L2653.8 1669.9L2654.7 1669.9L2655.7 1669.9L2656.7 1669.9L2657.7 1669.9L2658.7 1669.9L2659.7 1669.9L2660.7 1669.9L2661.7 1669.9L2662.7 1669.9L2663.7 1669.9L2664.6 1669.8L2665.6 1669.8L2666.6 1669.8L2667.6 1669.8L2668.6 1669.8L2669.6 1669.8L2670.6 1669.8L2671.6 1669.8L2672.6 1669.7L2673.6 1669.7L2674.5 1669.7L2675.5 1669.7L2676.5 1669.7L2677.5 1669.7L2678.5 1669.6L2679.5 1669.6L2680.5 1669.6L2681.5 1669.6L2682.5 1669.5L2683.4 1669.5L2684.4 1669.5L2685.4 1669.5L2686.4 1669.4L2687.4 1669.4L2688.4 1669.4L2689.4 1669.3L2690.4 1669.3L2691.4 1669.3L2692.4 1669.2L2693.3 1669.2L2694.3 1669.1L2695.3 1669.1L2696.3 1669L2697.3 1669L2698.3 1668.9L2699.3 1668.9L2700.3 1668.8L2701.3 1668.8L2702.3 1668.7L2703.2 1668.7L2704.2 1668.6L2705.2 1668.5L2706.2 1668.5L2707.2 1668.4L2708.2 1668.3L2709.2 1668.2L2710.2 1668.1L2711.2 1668.1L2712.2 1668L2713.2 1667.9L2714.1 1667.8L2715.1 1667.7L2716.1 1667.6L2717.1 1667.5L2718.1 1667.4L2719.1 1667.3L2720.1 1667.2L2721.1 1667L2722.1 1666.9L2723.1 1666.8L2724 1666.7L2725 1666.5L2726 1666.4L2727 1666.3L2728 1666.1L2729 1666L2730 1665.8L2731 1665.7L2732 1665.5L2732.9 1665.4L2733.9 1665.2L2734.9 1665L2735.9 1664.9L2736.9 1664.7L2737.9 1664.5L2738.9 1664.3L2739.9 1664.1L2740.9 1664L2741.9 1663.8L2742.8 1663.6L2743.8 1663.4L2744.8 1663.2L2745.8 1663L2746.8 1662.8L2747.8 1662.5L2748.8 1662.3L2749.8 1662.1L2750.8 1661.9L2751.8 1661.7L2752.8 1661.4L2753.7 1661.2L2754.7 1661L2755.7 1660.8L2756.7 1660.5L2757.7 1660.3L2758.7 1660.1L2759.7 1659.8L2760.7 1659.6L2761.7 1659.3L2762.7 1659.1L2763.6 1658.9L2764.6 1658.6L2765.6 1658.4L2766.6 1658.1L2767.6 1657.9L2768.6 1657.6L2769.6 1657.4L2770.6 1657.2L2771.6 1656.9L2772.6 1656.7L2773.5 1656.4L2774.5 1656.2L2775.5 1656L2776.5 1655.7L2777.5 1655.5L2778.5 1655.3L2779.5 1655L2780.5 1654.8L2781.5 1654.6L2782.4 1654.4L2783.4 1654.2L2784.4 1654L2785.4 1653.8L2786.4 1653.6L2787.4 1653.4L2788.4 1653.2L2789.4 1653L2790.4 1652.8L2791.4 1652.6L2792.3 1652.5L2793.3 1652.3L2794.3 1652.1L2795.3 1652L2796.3 1651.8L2797.3 1651.7L2798.3 1651.6L2799.3 1651.5L2800.3 1651.3L2801.3 1651.2L2802.2 1651.1L2803.2 1651L2804.2 1650.9L2805.2 1650.9L2806.2 1650.8L2807.2 1650.7L2808.2 1650.7L2809.2 1650.6L2810.2 1650.6L2811.2 1650.5L2812.2 1650.5L2813.1 1650.5L2814.1 1650.5L2815.1 1650.5L2816.1 1650.5L2817.1 1650.5L2818.1 1650.6L2819.1 1650.6L2820.1 1650.6L2821.1 1650.7L2822.1 1650.7L2823 1650.8L2824 1650.9L2825 1651L2826 1651L2827 1651.1L2828 1651.2L2829 1651.4L2830 1651.5L2831 1651.6L2831.9 1651.7L2832.9 1651.9L2833.9 1652L2834.9 1652.2L2835.9 1652.3L2836.9 1652.5L2837.9 1652.7L2838.9 1652.8L2839.9 1653L2840.9 1653.2L2841.8 1653.4L2842.8 1653.6L2843.8 1653.8L2844.8 1654L2845.8 1654.2L2846.8 1654.4L2847.8 1654.6L2848.8 1654.9L2849.8 1655.1L2850.8 1655.3L2851.8 1655.5L2852.7 1655.8L2853.7 1656L2854.7 1656.2L2855.7 1656.5L2856.7 1656.7L2857.7 1657L2858.7 1657.2L2859.7 1657.4L2860.7 1657.7L2861.7 1657.9L2862.6 1658.2L2863.6 1658.4L2864.6 1658.7L2865.6 1658.9L2866.6 1659.1L2867.6 1659.4L2868.6 1659.6L2869.6 1659.9L2870.6 1660.1L2871.6 1660.3L2872.5 1660.6L2873.5 1660.8L2874.5 1661L2875.5 1661.3L2876.5 1661.5L2877.5 1661.7L2878.5 1661.9L2879.5 1662.2L2880.5 1662.4L2881.4 1662.6L2882.4 1662.8L2883.4 1663L2884.4 1663.2L2885.4 1663.4L2886.4 1663.6L2887.4 1663.8L2888.4 1664L2889.4 1664.2L2890.4 1664.4L2891.3 1664.5L2892.3 1664.7L2893.3 1664.9L2894.3 1665.1L2895.3 1665.2L2896.3 1665.4L2897.3 1665.6L2898.3 1665.7L2899.3 1665.9L2900.3 1666L2901.2 1666.2L2902.2 1666.3L2903.2 1666.4L2904.2 1666.6L2905.2 1666.7L2906.2 1666.8L2907.2 1666.9L2908.2 1667.1L2909.2 1667.2L2910.2 1667.3L2911.2 1667.4L2912.1 1667.5L2913.1 1667.6L2914.1 1667.7L2915.1 1667.8L2916.1 1667.9L2917.1 1668L2918.1 1668.1L2919.1 1668.2L2920.1 1668.2L2921.1 1668.3L2922 1668.4L2923 1668.5L2924 1668.5L2925 1668.6L2926 1668.7L2927 1668.7L2928 1668.8L2929 1668.8L2930 1668.9L2930.9 1669L2931.9 1669L2932.9 1669.1L2933.9 1669.1L2934.9 1669.1L2935.9 1669.2L2936.9 1669.2L2937.9 1669.3L2938.9 1669.3L2939.9 1669.3L2940.8 1669.4L2941.8 1669.4L2942.8 1669.4L2943.8 1669.5L2944.8 1669.5L2945.8 1669.5L2946.8 1669.6L2947.8 1669.6L2948.8 1669.6L2949.8 1669.6L2950.8 1669.6L2951.7 1669.7L2952.7 1669.7L2953.7 1669.7L2954.7 1669.7L2955.7 1669.7L2956.7 1669.8L2957.7 1669.8L2958.7 1669.8L2959.7 1669.8L2960.7 1669.8L2961.6 1669.8L2962.6 1669.8L2963.6 1669.8L2964.6 1669.8L2965.6 1669.9L2966.6 1669.9L2967.6 1669.9L2968.6 1669.9L2969.6 1669.9L2970.6 1669.9L2971.5 1669.9L2972.5 1669.9L2973.5 1669.9L2974.5 1669.9L2975.5 1669.9L2976.5 1669.9L2977.5 1669.9L2978.5 1669.9L2979.5 1669.9L2980.4 1669.9L2981.4 1670L2982.4 1670L2983.4 1670L2984.4 1670L2985.4 1670L2986.4 1670L2987.4 1670L2988.4 1670L2989.4 1670L2990.3 1670L2991.3 1670L2992.3 1670L2993.3 1670L2994.3 1670L2995.3 1670L2996.3 1670L2997.3 1670L2998.3 1670L2999.3 1670L3000.2 1670L3001.2 1670L3002.2 1670L3003.2 1670L3004.2 1670L3005.2 1670L3006.2 1670L3007.2 1670L3008.2 1670L3009.2 1670L3010.2 1670L3011.1 1670L3012.1 1670L3013.1 1670L3014.1 1670L3015.1 1670L3016.1 1670L3017.1 1670L3018.1 1670L3019.1 1670L3020.1 1670L3021 1670L3022 1670L3023 1670L3024 1670L3025 1670L3026 1670L3027 1670L3028 1670L3029 1670L3029.9 1670L3030.9 1670L3031.9 1670L3032.9 1670L3033.9 1670L3034.9 1670L3035.9 1670L3036.9 1670L3037.9 1670L3038.9 1670L3039.8 1670L3040.8 1670L3041.8 1670L3042.8 1670L3043.8 1670L3044.8 1670L3045.8 1670L3046.8 1670L3047.8 1670L3048.8 1670L3049.8 1670L3050.7 1670L3051.7 1670L3052.7 1670L3053.7 1670L3054.7 1670L3055.7 1670L3056.7 1670L3057.7 1670L3058.7 1670L3059.7 1670L3060.6 1670L3061.6 1670L3062.6 1670L3063.6 1670L3064.6 1670L3065.6 1670L3066.6 1670L3067.6 1670L3068.6 1670L3069.6 1670L3070.5 1670L3071.5 1670L3072.5 1670L3073.5 1670L3074.5 1670L3075.5 1670L3076.5 1670L3077.5 1670L3078.5 1670L3079.4 1670L3080.4 1670L3081.4 1670L3082.4 1670L3083.4 1670L3084.4 1670L3085.4 1670L3086.4 1670L3087.4 1670L3088.4 1670L3089.3 1670L3090.3 1670L3091.3 1670L3092.3 1670L3093.3 1670L3094.3 1670" fill="none" stroke="#36cc66" stroke-width="3.8" stroke-linejoin="round"/>
<path d="M2128.7 1670L2129.6 1670L2130.6 1670L2131.6 1670L2132.6 1670L2133.6 1670L2134.6 1670L2135.6 1670L2136.6 1670L2137.6 1670L2138.6 1670L2139.5 1670L2140.5 1670L2141.5 1670L2142.5 1670L2143.5 1670L2144.5 1670L2145.5 1670L2146.5 1669.9L2147.5 1669.9L2148.5 1669.9L2149.4 1669.9L2150.4 1669.8L2151.4 1669.8L2152.4 1669.7L2153.4 1669.6L2154.4 1669.5L2155.4 1669.3L2156.4 1669.1L2157.4 1668.9L2158.4 1668.6L2159.3 1668.3L2160.3 1667.9L2161.3 1667.5L2162.3 1666.9L2163.3 1666.3L2164.3 1665.6L2165.3 1664.8L2166.3 1663.9L2167.3 1662.9L2168.3 1661.8L2169.2 1660.7L2170.2 1659.4L2171.2 1658.1L2172.2 1656.8L2173.2 1655.4L2174.2 1654L2175.2 1652.7L2176.2 1651.4L2177.2 1650.1L2178.2 1649L2179.1 1648L2180.1 1647.1L2181.1 1646.4L2182.1 1645.9L2183.1 1645.6L2184.1 1645.5L2185.1 1645.6L2186.1 1645.9L2187.1 1646.4L2188.1 1647.1L2189 1648L2190 1649L2191 1650.1L2192 1651.4L2193 1652.7L2194 1654L2195 1655.4L2196 1656.8L2197 1658.1L2198 1659.4L2198.9 1660.7L2199.9 1661.8L2200.9 1662.9L2201.9 1663.9L2202.9 1664.8L2203.9 1665.6L2204.9 1666.3L2205.9 1666.9L2206.9 1667.5L2207.9 1667.9L2208.8 1668.3L2209.8 1668.6L2210.8 1668.9L2211.8 1669.1L2212.8 1669.3L2213.8 1669.5L2214.8 1669.6L2215.8 1669.7L2216.8 1669.8L2217.8 1669.8L2218.7 1669.9L2219.7 1669.9L2220.7 1669.9L2221.7 1669.9L2222.7 1670L2223.7 1670L2224.7 1670L2225.7 1670L2226.7 1670L2227.7 1670L2228.6 1670L2229.6 1670L2230.6 1670L2231.6 1670L2232.6 1670L2233.6 1670L2234.6 1670L2235.6 1670L2236.6 1670L2237.6 1670L2238.5 1670L2239.5 1670" fill="none" stroke="#1763ea" stroke-width="3.8" stroke-linejoin="round"/>
<path d="M2254.4 1670L2255.4 1670L2256.4 1670L2257.4 1670L2258.3 1670L2259.3 1670L2260.3 1670L2261.3 1670L2262.3 1670L2263.3 1670L2264.3 1670L2265.3 1670L2266.3 1670L2267.3 1670L2268.2 1670L2269.2 1670L2270.2 1670L2271.2 1670L2272.2 1670L2273.2 1670L2274.2 1670L2275.2 1670L2276.2 1669.9L2277.2 1669.9L2278.1 1669.9L2279.1 1669.9L2280.1 1669.8L2281.1 1669.8L2282.1 1669.7L2283.1 1669.6L2284.1 1669.5L2285.1 1669.4L2286.1 1669.3L2287.1 1669.1L2288 1669L2289 1668.7L2290 1668.5L2291 1668.2L2292 1667.9L2293 1667.6L2294 1667.2L2295 1666.8L2296 1666.4L2297 1666L2297.9 1665.5L2298.9 1665.1L2299.9 1664.6L2300.9 1664.1L2301.9 1663.7L2302.9 1663.3L2303.9 1662.9L2304.9 1662.5L2305.9 1662.3L2306.9 1662L2307.8 1661.8L2308.8 1661.7L2309.8 1661.7L2310.8 1661.7L2311.8 1661.8L2312.8 1662L2313.8 1662.3L2314.8 1662.5L2315.8 1662.9L2316.8 1663.3L2317.7 1663.7L2318.7 1664.1L2319.7 1664.6L2320.7 1665.1L2321.7 1665.5L2322.7 1666L2323.7 1666.4L2324.7 1666.8L2325.7 1667.2L2326.7 1667.6L2327.6 1667.9L2328.6 1668.2L2329.6 1668.5L2330.6 1668.7L2331.6 1669L2332.6 1669.1L2333.6 1669.3L2334.6 1669.4L2335.6 1669.5L2336.6 1669.6L2337.5 1669.7L2338.5 1669.8L2339.5 1669.8L2340.5 1669.9L2341.5 1669.9L2342.5 1669.9L2343.5 1669.9L2344.5 1670L2345.5 1670L2346.5 1670L2347.4 1670L2348.4 1670L2349.4 1670L2350.4 1670L2351.4 1670L2352.4 1670L2353.4 1670L2354.4 1670L2355.4 1670L2356.4 1670L2357.3 1670L2358.3 1670L2359.3 1670L2360.3 1670L2361.3 1670L2362.3 1670L2363.3 1670L2364.3 1670L2365.3 1670" fill="none" stroke="#1763ea" stroke-width="3.8" stroke-linejoin="round"/>
<path d="M2619.1 1670L2620.1 1670L2621.1 1670L2622.1 1670L2623.1 1670L2624.1 1670L2625 1670L2626 1670L2627 1670L2628 1670L2629 1670L2630 1670L2631 1670L2632 1670L2633 1670L2633.9 1670L2634.9 1670L2635.9 1670L2636.9 1669.9L2637.9 1669.9L2638.9 1669.9L2639.9 1669.8L2640.9 1669.8L2641.9 1669.7L2642.9 1669.6L2643.8 1669.5L2644.8 1669.4L2645.8 1669.2L2646.8 1669L2647.8 1668.7L2648.8 1668.4L2649.8 1668L2650.8 1667.6L2651.8 1667L2652.8 1666.4L2653.8 1665.7L2654.7 1664.8L2655.7 1663.9L2656.7 1662.8L2657.7 1661.7L2658.7 1660.4L2659.7 1659.1L2660.7 1657.6L2661.7 1656.1L2662.7 1654.5L2663.7 1652.9L2664.6 1651.3L2665.6 1649.7L2666.6 1648.2L2667.6 1646.7L2668.6 1645.4L2669.6 1644.2L2670.6 1643.2L2671.6 1642.4L2672.6 1641.8L2673.6 1641.4L2674.5 1641.3L2675.5 1641.4L2676.5 1641.8L2677.5 1642.4L2678.5 1643.2L2679.5 1644.2L2680.5 1645.4L2681.5 1646.7L2682.5 1648.2L2683.4 1649.7L2684.4 1651.3L2685.4 1652.9L2686.4 1654.5L2687.4 1656.1L2688.4 1657.6L2689.4 1659.1L2690.4 1660.4L2691.4 1661.7L2692.4 1662.8L2693.3 1663.9L2694.3 1664.8L2695.3 1665.7L2696.3 1666.4L2697.3 1667L2698.3 1667.6L2699.3 1668L2700.3 1668.4L2701.3 1668.7L2702.3 1669L2703.2 1669.2L2704.2 1669.4L2705.2 1669.5L2706.2 1669.6L2707.2 1669.7L2708.2 1669.8L2709.2 1669.8L2710.2 1669.9L2711.2 1669.9L2712.2 1669.9L2713.2 1670L2714.1 1670L2715.1 1670L2716.1 1670L2717.1 1670L2718.1 1670L2719.1 1670L2720.1 1670L2721.1 1670L2722.1 1670L2723.1 1670L2724 1670L2725 1670L2726 1670L2727 1670L2728 1670L2729 1670L2730 1670" fill="none" stroke="#1763ea" stroke-width="3.8" stroke-linejoin="round"/>
<path d="M2648.6 1670L2649.6 1670L2650.6 1670L2651.6 1670L2652.6 1670L2653.6 1670L2654.5 1670L2655.5 1670L2656.5 1670L2657.5 1670L2658.5 1670L2659.5 1670L2660.5 1670L2661.5 1670L2662.5 1670L2663.5 1669.9L2664.4 1669.9L2665.4 1669.9L2666.4 1669.8L2667.4 1669.7L2668.4 1669.6L2669.4 1669.5L2670.4 1669.3L2671.4 1669.1L2672.4 1668.8L2673.4 1668.5L2674.3 1668L2675.3 1667.4L2676.3 1666.7L2677.3 1665.8L2678.3 1664.8L2679.3 1663.5L2680.3 1662L2681.3 1660.2L2682.3 1658.1L2683.3 1655.7L2684.2 1652.9L2685.2 1649.8L2686.2 1646.3L2687.2 1642.5L2688.2 1638.3L2689.2 1633.8L2690.2 1629L2691.2 1624L2692.2 1618.8L2693.2 1613.4L2694.1 1608.1L2695.1 1602.9L2696.1 1597.8L2697.1 1593L2698.1 1588.6L2699.1 1584.7L2700.1 1581.3L2701.1 1578.6L2702.1 1576.6L2703.1 1575.4L2704 1575L2705 1575.4L2706 1576.6L2707 1578.6L2708 1581.3L2709 1584.7L2710 1588.6L2711 1593L2712 1597.8L2713 1602.9L2713.9 1608.1L2714.9 1613.4L2715.9 1618.8L2716.9 1624L2717.9 1629L2718.9 1633.8L2719.9 1638.3L2720.9 1642.5L2721.9 1646.3L2722.9 1649.8L2723.8 1652.9L2724.8 1655.7L2725.8 1658.1L2726.8 1660.2L2727.8 1662L2728.8 1663.5L2729.8 1664.8L2730.8 1665.8L2731.8 1666.7L2732.8 1667.4L2733.7 1668L2734.7 1668.5L2735.7 1668.8L2736.7 1669.1L2737.7 1669.3L2738.7 1669.5L2739.7 1669.6L2740.7 1669.7L2741.7 1669.8L2742.7 1669.9L2743.6 1669.9L2744.6 1669.9L2745.6 1670L2746.6 1670L2747.6 1670L2748.6 1670L2749.6 1670L2750.6 1670L2751.6 1670L2752.6 1670L2753.5 1670L2754.5 1670L2755.5 1670L2756.5 1670L2757.5 1670L2758.5 1670L2759.5 1670" fill="none" stroke="#1763ea" stroke-width="3.8" stroke-linejoin="round"/>
<path d="M2689.2 1670L2690.2 1670L2691.2 1670L2692.2 1670L2693.2 1670L2694.1 1670L2695.1 1670L2696.1 1670L2697.1 1670L2698.1 1670L2699.1 1670L2700.1 1670L2701.1 1670L2702.1 1670L2703.1 1670L2704 1669.9L2705 1669.9L2706 1669.9L2707 1669.8L2708 1669.8L2709 1669.7L2710 1669.6L2711 1669.4L2712 1669.2L2713 1668.9L2713.9 1668.6L2714.9 1668.2L2715.9 1667.7L2716.9 1667L2717.9 1666.3L2718.9 1665.3L2719.9 1664.2L2720.9 1662.8L2721.9 1661.2L2722.9 1659.3L2723.8 1657.2L2724.8 1654.7L2725.8 1651.9L2726.8 1648.8L2727.8 1645.4L2728.8 1641.6L2729.8 1637.6L2730.8 1633.3L2731.8 1628.8L2732.8 1624.2L2733.7 1619.4L2734.7 1614.6L2735.7 1609.9L2736.7 1605.4L2737.7 1601.1L2738.7 1597.2L2739.7 1593.6L2740.7 1590.6L2741.7 1588.2L2742.7 1586.4L2743.6 1585.4L2744.6 1585L2745.6 1585.4L2746.6 1586.4L2747.6 1588.2L2748.6 1590.6L2749.6 1593.6L2750.6 1597.2L2751.6 1601.1L2752.6 1605.4L2753.5 1609.9L2754.5 1614.6L2755.5 1619.4L2756.5 1624.2L2757.5 1628.8L2758.5 1633.3L2759.5 1637.6L2760.5 1641.6L2761.5 1645.4L2762.5 1648.8L2763.4 1651.9L2764.4 1654.7L2765.4 1657.2L2766.4 1659.3L2767.4 1661.2L2768.4 1662.8L2769.4 1664.2L2770.4 1665.3L2771.4 1666.3L2772.4 1667L2773.3 1667.7L2774.3 1668.2L2775.3 1668.6L2776.3 1668.9L2777.3 1669.2L2778.3 1669.4L2779.3 1669.6L2780.3 1669.7L2781.3 1669.8L2782.3 1669.8L2783.2 1669.9L2784.2 1669.9L2785.2 1669.9L2786.2 1670L2787.2 1670L2788.2 1670L2789.2 1670L2790.2 1670L2791.2 1670L2792.2 1670L2793.1 1670L2794.1 1670L2795.1 1670L2796.1 1670L2797.1 1670L2798.1 1670L2799.1 1670L2800.1 1670" fill="none" stroke="#1763ea" stroke-width="3.8" stroke-linejoin="round"/>
<line x1="2104.6" y1="1670" x2="3094" y2="1670" stroke="#1763ea" stroke-width="5.2" />
<path d="M2104.3 1361.4L2105.3 1361.4L2105.3 1361.9L2107.3 1361.9L2107.3 1360.8L2109.2 1360.8L2109.2 1360.3L2111.2 1360.3L2111.2 1359L2113.2 1359L2113.2 1357.6L2115.2 1357.6L2115.2 1356.7L2117.2 1356.7L2117.2 1355.6L2119.2 1355.6L2119.2 1354.1L2121.1 1354.1L2121.1 1356.5L2123.1 1356.5L2123.1 1357.5L2125.1 1357.5L2125.1 1359.8L2127.1 1359.8L2127.1 1362.8L2129.1 1362.8L2129.1 1361.1L2131 1361.1L2131 1360.9L2133 1360.9L2133 1359.8L2135 1359.8L2135 1358.7L2137 1358.7L2137 1359.3L2138.9 1359.3L2138.9 1358.6L2140.9 1358.6L2140.9 1355.9L2142.9 1355.9L2142.9 1357.1L2144.9 1357.1L2144.9 1355.7L2146.9 1355.7L2146.9 1355.6L2148.8 1355.6L2148.8 1355.3L2150.8 1355.3L2150.8 1352.9L2152.8 1352.9L2152.8 1349L2154.8 1349L2154.8 1349.4L2156.8 1349.4L2156.8 1350.8L2158.8 1350.8L2158.8 1353.3L2160.7 1353.3L2160.7 1354.8L2162.7 1354.8L2162.7 1357.7L2164.7 1357.7L2164.7 1357L2166.7 1357L2166.7 1356.9L2168.7 1356.9L2168.7 1357L2170.6 1357L2170.6 1356.4L2172.6 1356.4L2172.6 1355.5L2174.6 1355.5L2174.6 1354L2176.6 1354L2176.6 1351.3L2178.6 1351.3L2178.6 1350.5L2180.5 1350.5L2180.5 1347.1L2182.5 1347.1L2182.5 1346.9L2184.5 1346.9L2184.5 1347.6L2186.5 1347.6L2186.5 1349.5L2188.4 1349.5L2188.4 1351L2190.4 1351L2190.4 1353.1L2192.4 1353.1L2192.4 1353.1L2194.4 1353.1L2194.4 1354.3L2196.4 1354.3L2196.4 1355.3L2198.3 1355.3L2198.3 1355.5L2200.3 1355.5L2200.3 1356.5L2202.3 1356.5L2202.3 1358.4L2204.3 1358.4L2204.3 1359.5L2206.3 1359.5L2206.3 1361.4L2208.2 1361.4L2208.2 1359.8L2210.2 1359.8L2210.2 1359.3L2212.2 1359.3L2212.2 1358.7L2214.2 1358.7L2214.2 1358.1L2216.2 1358.1L2216.2 1358L2218.2 1358L2218.2 1356.5L2220.1 1356.5L2220.1 1355.1L2222.1 1355.1L2222.1 1355.3L2224.1 1355.3L2224.1 1354.4L2226.1 1354.4L2226.1 1353.1L2228.1 1353.1L2228.1 1354.4L2230 1354.4L2230 1354.6L2232 1354.6L2232 1355.3L2234 1355.3L2234 1354.4L2236 1354.4L2236 1350.9L2237.9 1350.9L2237.9 1349.4L2239.9 1349.4L2239.9 1350.3L2241.9 1350.3L2241.9 1353L2243.9 1353L2243.9 1353.5L2245.9 1353.5L2245.9 1355.3L2247.8 1355.3L2247.8 1356.5L2249.8 1356.5L2249.8 1357.8L2251.8 1357.8L2251.8 1358.1L2253.8 1358.1L2253.8 1358.9L2255.8 1358.9L2255.8 1359.6L2257.8 1359.6L2257.8 1359.9L2259.7 1359.9L2259.7 1358.5L2261.7 1358.5L2261.7 1356.7L2263.7 1356.7L2263.7 1355.7L2265.7 1355.7L2265.7 1354L2267.7 1354L2267.7 1351.8L2269.6 1351.8L2269.6 1351.9L2271.6 1351.9L2271.6 1352.3L2273.6 1352.3L2273.6 1352.1L2275.6 1352.1L2275.6 1352.6L2277.6 1352.6L2277.6 1352.6L2279.5 1352.6L2279.5 1353.2L2281.5 1353.2L2281.5 1352.7L2283.5 1352.7L2283.5 1352.9L2285.5 1352.9L2285.5 1351.6L2287.4 1351.6L2287.4 1352.1L2289.4 1352.1L2289.4 1353L2291.4 1353L2291.4 1360.2L2293.4 1360.2L2293.4 1366.4L2295.4 1366.4L2295.4 1366L2297.3 1366L2297.3 1365.5L2299.3 1365.5L2299.3 1363.4L2301.3 1363.4L2301.3 1361.6L2303.3 1361.6L2303.3 1360.1L2305.3 1360.1L2305.3 1359.9L2307.2 1359.9L2307.2 1359.7L2309.2 1359.7L2309.2 1357.8L2311.2 1357.8L2311.2 1357.4L2313.2 1357.4L2313.2 1357.7L2315.2 1357.7L2315.2 1356.4L2317.2 1356.4L2317.2 1355.4L2319.1 1355.4L2319.1 1354.4L2321.1 1354.4L2321.1 1353.9L2323.1 1353.9L2323.1 1352.5L2325.1 1352.5L2325.1 1349.9L2327.1 1349.9L2327.1 1347.8L2329 1347.8L2329 1346.7L2331 1346.7L2331 1349.3L2333 1349.3L2333 1351.2L2335 1351.2L2335 1352.9L2336.9 1352.9L2336.9 1354.8L2338.9 1354.8L2338.9 1353.4L2340.9 1353.4L2340.9 1351.8L2342.9 1351.8L2342.9 1351.3L2344.9 1351.3L2344.9 1350.5L2346.8 1350.5L2346.8 1353.4L2348.8 1353.4L2348.8 1353L2350.8 1353L2350.8 1355.3L2352.8 1355.3L2352.8 1357.9L2354.8 1357.9L2354.8 1358.5L2356.8 1358.5L2356.8 1356.3L2358.7 1356.3L2358.7 1355.8L2360.7 1355.8L2360.7 1354.8L2362.7 1354.8L2362.7 1353.4L2364.7 1353.4L2364.7 1352.6L2366.7 1352.6L2366.7 1349.7L2368.6 1349.7L2368.6 1350.5L2370.6 1350.5L2370.6 1347.6L2372.6 1347.6L2372.6 1346.1L2374.6 1346.1L2374.6 1350.4L2376.6 1350.4L2376.6 1353.5L2378.5 1353.5L2378.5 1357.8L2380.5 1357.8L2380.5 1361.3L2382.5 1361.3L2382.5 1360.8L2384.5 1360.8L2384.5 1360.3L2386.4 1360.3L2386.4 1360.4L2388.4 1360.4L2388.4 1359.3L2390.4 1359.3L2390.4 1358.9L2392.4 1358.9L2392.4 1358.1L2394.4 1358.1L2394.4 1356.7L2396.3 1356.7L2396.3 1355.4L2398.3 1355.4L2398.3 1354.1L2400.3 1354.1L2400.3 1354.2L2402.3 1354.2L2402.3 1354.5L2404.3 1354.5L2404.3 1355.4L2406.2 1355.4L2406.2 1356L2408.2 1356L2408.2 1357.2L2410.2 1357.2L2410.2 1358.3L2412.2 1358.3L2412.2 1359.4L2414.2 1359.4L2414.2 1358L2416.2 1358L2416.2 1357.9L2418.1 1357.9L2418.1 1356.4L2420.1 1356.4L2420.1 1357.1L2422.1 1357.1L2422.1 1356.4L2424.1 1356.4L2424.1 1356.1L2426.1 1356.1L2426.1 1357.4L2428 1357.4L2428 1356.7L2430 1356.7L2430 1358.6L2432 1358.6L2432 1358.5L2434 1358.5L2434 1360.4L2435.9 1360.4L2435.9 1361.1L2437.9 1361.1L2437.9 1358.5L2439.9 1358.5L2439.9 1356.7L2441.9 1356.7L2441.9 1356.8L2443.9 1356.8L2443.9 1354.1L2445.8 1354.1L2445.8 1352.8L2447.8 1352.8L2447.8 1351.7L2449.8 1351.7L2449.8 1352.5L2451.8 1352.5L2451.8 1352.9L2453.8 1352.9L2453.8 1353.1L2455.8 1353.1L2455.8 1354.2L2457.7 1354.2L2457.7 1353L2459.7 1353L2459.7 1352.3L2461.7 1352.3L2461.7 1352L2463.7 1352L2463.7 1351.5L2465.7 1351.5L2465.7 1350.8L2467.6 1350.8L2467.6 1350.3L2469.6 1350.3L2469.6 1349.7L2471.6 1349.7L2471.6 1352.7L2473.6 1352.7L2473.6 1353.3L2475.6 1353.3L2475.6 1356.4L2477.5 1356.4L2477.5 1358L2479.5 1358L2479.5 1358.8L2481.5 1358.8L2481.5 1358.9L2483.5 1358.9L2483.5 1358.6L2485.4 1358.6L2485.4 1357.8L2487.4 1357.8L2487.4 1356.5L2489.4 1356.5L2489.4 1357.7L2491.4 1357.7L2491.4 1355.7L2493.4 1355.7L2493.4 1355L2495.3 1355L2495.3 1354.6L2497.3 1354.6L2497.3 1353.3L2499.3 1353.3L2499.3 1352.5L2501.3 1352.5L2501.3 1351.5L2503.3 1351.5L2503.3 1351.3L2505.2 1351.3L2505.2 1350.3L2507.2 1350.3L2507.2 1351.7L2509.2 1351.7L2509.2 1350.7L2511.2 1350.7L2511.2 1350L2513.2 1350L2513.2 1350.9L2515.2 1350.9L2515.2 1350.5L2517.1 1350.5L2517.1 1350.9L2519.1 1350.9L2519.1 1351.6L2521.1 1351.6L2521.1 1350.5L2523.1 1350.5L2523.1 1349.7L2525.1 1349.7L2525.1 1351L2527 1351L2527 1350.3L2529 1350.3L2529 1350.6L2531 1350.6L2531 1350.2L2533 1350.2L2533 1350.3L2534.9 1350.3L2534.9 1350.3L2536.9 1350.3L2536.9 1349.7L2538.9 1349.7L2538.9 1350.4L2540.9 1350.4L2540.9 1350L2542.9 1350L2542.9 1350.5L2544.8 1350.5L2544.8 1351.1L2546.8 1351.1L2546.8 1352.8L2548.8 1352.8L2548.8 1354.1L2550.8 1354.1L2550.8 1355L2552.8 1355L2552.8 1354.6L2554.8 1354.6L2554.8 1355.8L2556.7 1355.8L2556.7 1356L2558.7 1356L2558.7 1356.5L2560.7 1356.5L2560.7 1357.1L2562.7 1357.1L2562.7 1357.5L2564.7 1357.5L2564.7 1358.3L2566.6 1358.3L2566.6 1357L2568.6 1357L2568.6 1355.6L2570.6 1355.6L2570.6 1354.5L2572.6 1354.5L2572.6 1353.1L2574.6 1353.1L2574.6 1352.9L2576.5 1352.9L2576.5 1352.7L2578.5 1352.7L2578.5 1349.6L2580.5 1349.6L2580.5 1349.9L2582.5 1349.9L2582.5 1347.9L2584.4 1347.9L2584.4 1346L2586.4 1346L2586.4 1344.5L2588.4 1344.5L2588.4 1342.9L2590.4 1342.9L2590.4 1344.2L2592.4 1344.2L2592.4 1344.5L2594.3 1344.5L2594.3 1343.6L2596.3 1343.6L2596.3 1344.6L2598.3 1344.6L2598.3 1343.4L2600.3 1343.4L2600.3 1344.5L2602.3 1344.5L2602.3 1341.2L2604.2 1341.2L2604.2 1338L2606.2 1338L2606.2 1336.1L2608.2 1336.1L2608.2 1332.8L2610.2 1332.8L2610.2 1330.6L2612.2 1330.6L2612.2 1329L2614.2 1329L2614.2 1327.4L2616.1 1327.4L2616.1 1324.6L2618.1 1324.6L2618.1 1322.6L2620.1 1322.6L2620.1 1319.9L2622.1 1319.9L2622.1 1318.8L2624.1 1318.8L2624.1 1314.9L2626 1314.9L2626 1312.9L2628 1312.9L2628 1310.3L2630 1310.3L2630 1308.7L2632 1308.7L2632 1306L2633.9 1306L2633.9 1303.1L2635.9 1303.1L2635.9 1300.5L2637.9 1300.5L2637.9 1297.3L2639.9 1297.3L2639.9 1293.5L2641.9 1293.5L2641.9 1290.6L2643.8 1290.6L2643.8 1285L2645.8 1285L2645.8 1281.3L2647.8 1281.3L2647.8 1277.1L2649.8 1277.1L2649.8 1275.2L2651.8 1275.2L2651.8 1272.6L2653.8 1272.6L2653.8 1270.2L2655.7 1270.2L2655.7 1266.3L2657.7 1266.3L2657.7 1260.7L2659.7 1260.7L2659.7 1256.7L2661.7 1256.7L2661.7 1253.2L2663.7 1253.2L2663.7 1247.6L2665.6 1247.6L2665.6 1243.2L2667.6 1243.2L2667.6 1239.6L2669.6 1239.6L2669.6 1234.4L2671.6 1234.4L2671.6 1229.2L2673.6 1229.2L2673.6 1224.8L2675.5 1224.8L2675.5 1223.8L2677.5 1223.8L2677.5 1222.1L2679.5 1222.1L2679.5 1221.7L2681.5 1221.7L2681.5 1221.3L2683.4 1221.3L2683.4 1220L2685.4 1220L2685.4 1218.6L2687.4 1218.6L2687.4 1215.9L2689.4 1215.9L2689.4 1211.6L2691.4 1211.6L2691.4 1209.1L2693.3 1209.1L2693.3 1205.2L2695.3 1205.2L2695.3 1199.6L2697.3 1199.6L2697.3 1195L2699.3 1195L2699.3 1189.7L2701.3 1189.7L2701.3 1186.1L2703.2 1186.1L2703.2 1180.5L2705.2 1180.5L2705.2 1180.4L2707.2 1180.4L2707.2 1179.3L2709.2 1179.3L2709.2 1185.8L2711.2 1185.8L2711.2 1190L2713.2 1190L2713.2 1194.5L2715.1 1194.5L2715.1 1198.6L2717.1 1198.6L2717.1 1201.2L2719.1 1201.2L2719.1 1206.7L2721.1 1206.7L2721.1 1209L2723.1 1209L2723.1 1212.5L2725 1212.5L2725 1217.3L2727 1217.3L2727 1219.4L2729 1219.4L2729 1223.4L2731 1223.4L2731 1215.7L2732.9 1215.7L2732.9 1210L2734.9 1210L2734.9 1203.1L2736.9 1203.1L2736.9 1197.8L2738.9 1197.8L2738.9 1191.7L2740.9 1191.7L2740.9 1186.2L2742.8 1186.2L2742.8 1189.7L2744.8 1189.7L2744.8 1190.8L2746.8 1190.8L2746.8 1203.2L2748.8 1203.2L2748.8 1215.3L2750.8 1215.3L2750.8 1227.1L2752.8 1227.1L2752.8 1235.7L2754.7 1235.7L2754.7 1254L2756.7 1254L2756.7 1267.1L2758.7 1267.1L2758.7 1273.8L2760.7 1273.8L2760.7 1281.4L2762.7 1281.4L2762.7 1288.9L2764.6 1288.9L2764.6 1291.9L2766.6 1291.9L2766.6 1295.1L2768.6 1295.1L2768.6 1297.4L2770.6 1297.4L2770.6 1300.4L2772.6 1300.4L2772.6 1303.2L2774.5 1303.2L2774.5 1306.3L2776.5 1306.3L2776.5 1308.2L2778.5 1308.2L2778.5 1310.3L2780.5 1310.3L2780.5 1313.4L2782.4 1313.4L2782.4 1314.9L2784.4 1314.9L2784.4 1316.4L2786.4 1316.4L2786.4 1317.5L2788.4 1317.5L2788.4 1319.4L2790.4 1319.4L2790.4 1320.8L2792.3 1320.8L2792.3 1323.1L2794.3 1323.1L2794.3 1324.1L2796.3 1324.1L2796.3 1322.8L2798.3 1322.8L2798.3 1322L2800.3 1322L2800.3 1322.4L2802.2 1322.4L2802.2 1321.5L2804.2 1321.5L2804.2 1324.4L2806.2 1324.4L2806.2 1326.7L2808.2 1326.7L2808.2 1328L2810.2 1328L2810.2 1330.9L2812.2 1330.9L2812.2 1331.3L2814.1 1331.3L2814.1 1332.5L2816.1 1332.5L2816.1 1335.3L2818.1 1335.3L2818.1 1336.8L2820.1 1336.8L2820.1 1337.3L2822.1 1337.3L2822.1 1338.1L2824 1338.1L2824 1338.1L2826 1338.1L2826 1338.9L2828 1338.9L2828 1339.6L2830 1339.6L2830 1340.9L2831.9 1340.9L2831.9 1341.4L2833.9 1341.4L2833.9 1341L2835.9 1341L2835.9 1343.2L2837.9 1343.2L2837.9 1341.3L2839.9 1341.3L2839.9 1344.1L2841.8 1344.1L2841.8 1343.1L2843.8 1343.1L2843.8 1345.3L2845.8 1345.3L2845.8 1342.7L2847.8 1342.7L2847.8 1343L2849.8 1343L2849.8 1342.7L2851.8 1342.7L2851.8 1342.3L2853.7 1342.3L2853.7 1344.3L2855.7 1344.3L2855.7 1343.6L2857.7 1343.6L2857.7 1345.7L2859.7 1345.7L2859.7 1346.8L2861.7 1346.8L2861.7 1347.3L2863.6 1347.3L2863.6 1347.9L2865.6 1347.9L2865.6 1348.7L2867.6 1348.7L2867.6 1349.4L2869.6 1349.4L2869.6 1350.9L2871.6 1350.9L2871.6 1351.1L2873.5 1351.1L2873.5 1351.5L2875.5 1351.5L2875.5 1351.8L2877.5 1351.8L2877.5 1352.6L2879.5 1352.6L2879.5 1352.7L2881.4 1352.7L2881.4 1353.3L2883.4 1353.3L2883.4 1354.2L2885.4 1354.2L2885.4 1354.6L2887.4 1354.6L2887.4 1354.5L2889.4 1354.5L2889.4 1358.1L2891.3 1358.1L2891.3 1360.8L2893.3 1360.8L2893.3 1363L2895.3 1363L2895.3 1363.4L2897.3 1363.4L2897.3 1364.4L2899.3 1364.4L2899.3 1364.4L2901.2 1364.4L2901.2 1365.4L2903.2 1365.4L2903.2 1365.9L2905.2 1365.9L2905.2 1366.6L2907.2 1366.6L2907.2 1367.8L2909.2 1367.8L2909.2 1366.1L2911.2 1366.1L2911.2 1368L2913.1 1368L2913.1 1367.5L2915.1 1367.5L2915.1 1373.1L2917.1 1373.1L2917.1 1380.2L2919.1 1380.2L2919.1 1387.2L2921.1 1387.2L2921.1 1393L2923 1393L2923 1399.4L2925 1399.4L2925 1402.4L2927 1402.4L2927 1408.9L2929 1408.9L2929 1412.1L2930.9 1412.1L2930.9 1412.3L2932.9 1412.3L2932.9 1414.2L2934.9 1414.2L2934.9 1415.2L2936.9 1415.2L2936.9 1410.9L2938.9 1410.9L2938.9 1406.1L2940.8 1406.1L2940.8 1399.7L2942.8 1399.7L2942.8 1395.2L2944.8 1395.2L2944.8 1391.2L2946.8 1391.2L2946.8 1385.9L2948.8 1385.9L2948.8 1387.7L2950.8 1387.7L2950.8 1387.8L2952.7 1387.8L2952.7 1390.4L2954.7 1390.4L2954.7 1391L2956.7 1391L2956.7 1392.2L2958.7 1392.2L2958.7 1392.6L2960.7 1392.6L2960.7 1393.6L2962.6 1393.6L2962.6 1394.2L2964.6 1394.2L2964.6 1395.3L2966.6 1395.3L2966.6 1395L2968.6 1395L2968.6 1393.8L2970.6 1393.8L2970.6 1393.7L2972.5 1393.7L2972.5 1393L2974.5 1393L2974.5 1394.1L2976.5 1394.1L2976.5 1391.8L2978.5 1391.8L2978.5 1392.2L2980.4 1392.2L2980.4 1391.6L2982.4 1391.6L2982.4 1390.5L2984.4 1390.5L2984.4 1391.1L2986.4 1391.1L2986.4 1391.4L2988.4 1391.4L2988.4 1390L2990.3 1390L2990.3 1389.8L2992.3 1389.8L2992.3 1388.4L2994.3 1388.4L2994.3 1389.4L2996.3 1389.4L2996.3 1388.1L2998.3 1388.1L2998.3 1387.5L3000.2 1387.5L3000.2 1382.6L3002.2 1382.6L3002.2 1376.8L3004.2 1376.8L3004.2 1372.1L3006.2 1372.1L3006.2 1372.9L3008.2 1372.9L3008.2 1373.8L3010.2 1373.8L3010.2 1374.9L3012.1 1374.9L3012.1 1375.5L3014.1 1375.5L3014.1 1376L3016.1 1376L3016.1 1376.4L3018.1 1376.4L3018.1 1376.3L3020.1 1376.3L3020.1 1375.3L3022 1375.3L3022 1373.8L3024 1373.8L3024 1373.2L3026 1373.2L3026 1371.9L3028 1371.9L3028 1371.6L3029.9 1371.6L3029.9 1370.2L3031.9 1370.2L3031.9 1369.7L3033.9 1369.7L3033.9 1368.3L3035.9 1368.3L3035.9 1371.1L3037.9 1371.1L3037.9 1373.7L3039.8 1373.7L3039.8 1375L3041.8 1375L3041.8 1378.3L3043.8 1378.3L3043.8 1380.8L3045.8 1380.8L3045.8 1382.6L3047.8 1382.6L3047.8 1386L3049.8 1386L3049.8 1389L3051.7 1389L3051.7 1387.9L3053.7 1387.9L3053.7 1386.6L3055.7 1386.6L3055.7 1386.8L3057.7 1386.8L3057.7 1387.2L3059.7 1387.2L3059.7 1386.7L3061.6 1386.7L3061.6 1385.4L3063.6 1385.4L3063.6 1385.9L3065.6 1385.9L3065.6 1384.3L3067.6 1384.3L3067.6 1384.2L3069.6 1384.2L3069.6 1384L3071.5 1384L3071.5 1383.7L3073.5 1383.7L3073.5 1384.2L3075.5 1384.2L3075.5 1383.7L3077.5 1383.7L3077.5 1382.2L3079.4 1382.2L3079.4 1382.6L3081.4 1382.6L3081.4 1383.3L3083.4 1383.3L3083.4 1382.3L3085.4 1382.3L3085.4 1382.1L3087.4 1382.1L3087.4 1382.2L3089.3 1382.2L3089.3 1381.6L3091.3 1381.6L3091.3 1381.7L3093.3 1381.7L3093.3 1380.4L3094.3 1380.4" fill="none" stroke="#0a0a0a" stroke-width="4.6" stroke-linejoin="miter"/>
<path d="M2104.3 1369.7L2106.3 1369.7L2108.3 1369.5L2110.2 1369.2L2112.2 1368.9L2114.2 1368.6L2116.2 1368.2L2118.2 1367.9L2120.1 1367.7L2122.1 1367.5L2124.1 1367.4L2126.1 1367.5L2128.1 1367.7L2130 1367.9L2132 1368.2L2134 1368.6L2136 1368.9L2138 1369.2L2139.9 1369.5L2141.9 1369.7L2143.9 1369.7L2145.9 1369.6L2147.9 1369.1L2149.8 1368.5L2151.8 1367.7L2153.8 1366.9L2155.8 1366L2157.8 1365.2L2159.7 1364.6L2161.7 1364.1L2163.7 1364L2165.7 1363L2167.7 1360.7L2169.6 1357.6L2171.6 1354.5L2173.6 1352.2L2175.6 1351.2L2177.6 1350.4L2179.5 1348.6L2181.5 1346.9L2183.5 1346L2185.5 1347L2187.5 1349.2L2189.4 1351.4L2191.4 1352.4L2193.4 1353.3L2195.4 1355.7L2197.4 1358.8L2199.3 1361.8L2201.3 1364.2L2203.3 1365.1L2205.3 1365.4L2207.3 1366L2209.2 1366.9L2211.2 1367.7L2213.2 1368.3L2215.2 1368.6L2217.2 1368.6L2219.1 1368.5L2221.1 1368.3L2223.1 1368.1L2225.1 1367.9L2227.1 1367.7L2229 1367.4L2231 1367.2L2233 1367L2235 1366.7L2237 1366.5L2238.9 1366.4L2240.9 1366.3L2242.9 1366.3L2244.9 1366.3L2246.9 1366.4L2248.8 1366.5L2250.8 1366.7L2252.8 1366.9L2254.8 1367.1L2256.8 1367.3L2258.7 1367.5L2260.7 1367.8L2262.7 1368L2264.7 1368.2L2266.7 1368.3L2268.6 1368.5L2270.6 1368.6L2272.6 1368.6L2274.6 1368.6L2276.6 1368.5L2278.5 1368.4L2280.5 1368.3L2282.5 1368.2L2284.5 1368.1L2286.5 1367.9L2288.4 1367.8L2290.4 1367.7L2292.4 1367.6L2294.4 1367.5L2296.4 1367.5L2298.3 1367.4L2300.3 1367.1L2302.3 1366.2L2304.3 1364.9L2306.3 1363.4L2308.2 1361.9L2310.2 1360.6L2312.2 1359.7L2314.2 1359.3L2316.2 1359.5L2318.1 1359.9L2320.1 1360.5L2322.1 1361.3L2324.1 1362L2326.1 1362.8L2328 1363.4L2330 1363.8L2332 1364L2334 1364L2336 1364.1L2337.9 1364.2L2339.9 1364.4L2341.9 1364.6L2343.9 1364.8L2345.9 1365L2347.8 1365.2L2349.8 1365.5L2351.8 1365.7L2353.8 1365.9L2355.8 1366L2357.7 1366.2L2359.7 1366.2L2361.7 1366.3L2363.7 1366.3L2365.7 1366.3L2367.6 1366.3L2369.6 1366.4L2371.6 1366.5L2373.6 1366.5L2375.6 1366.6L2377.5 1366.7L2379.5 1366.8L2381.5 1366.9L2383.5 1366.9L2385.5 1367L2387.4 1367.1L2389.4 1367.2L2391.4 1367.3L2393.4 1367.3L2395.4 1367.4L2397.3 1367.4L2399.3 1367.4L2401.3 1367.4L2403.3 1367.4L2405.3 1367.4L2407.2 1367.4L2409.2 1367.3L2411.2 1367.3L2413.2 1367.2L2415.2 1367.1L2417.1 1367L2419.1 1366.9L2421.1 1366.9L2423.1 1366.8L2425.1 1366.7L2427 1366.6L2429 1366.5L2431 1366.5L2433 1366.4L2435 1366.3L2436.9 1366.3L2438.9 1366.3L2440.9 1366.3L2442.9 1366.3L2444.9 1366.3L2446.8 1366.3L2448.8 1366.4L2450.8 1366.5L2452.8 1366.5L2454.8 1366.6L2456.7 1366.7L2458.7 1366.8L2460.7 1366.9L2462.7 1366.9L2464.7 1367L2466.6 1367.1L2468.6 1367.2L2470.6 1367.3L2472.6 1367.3L2474.6 1367.4L2476.5 1367.4L2478.5 1367.4L2480.5 1367.4L2482.5 1367.4L2484.5 1367.4L2486.4 1367.3L2488.4 1367.2L2490.4 1367.1L2492.4 1366.9L2494.4 1366.8L2496.3 1366.6L2498.3 1366.4L2500.3 1366.3L2502.3 1366.1L2504.3 1365.9L2506.2 1365.8L2508.2 1365.6L2510.2 1365.5L2512.2 1365.4L2514.2 1365.3L2516.1 1365.2L2518.1 1365.1L2520.1 1365.1L2522.1 1365.1L2524.1 1365L2526 1364.8L2528 1364.5L2530 1364.2L2532 1363.9L2534 1363.6L2535.9 1363.2L2537.9 1362.9L2539.9 1362.6L2541.9 1362.3L2543.9 1362L2545.8 1361.8L2547.8 1361.7L2549.8 1361.7L2551.8 1361.8L2553.8 1362.2L2555.7 1362.7L2557.7 1363.4L2559.7 1364L2561.7 1364.6L2563.7 1365L2565.6 1365.1L2567.6 1364.6L2569.6 1363.5L2571.6 1362.1L2573.6 1361L2575.5 1360.5L2577.5 1359.6L2579.5 1357.2L2581.5 1353.9L2583.5 1350.3L2585.4 1347.1L2587.4 1344.7L2589.4 1343.7L2591.4 1343L2593.4 1341L2595.3 1338.5L2597.3 1336L2599.3 1334.1L2601.3 1333.3L2603.3 1332.7L2605.2 1331.2L2607.2 1329L2609.2 1326.7L2611.2 1324.5L2613.2 1323L2615.1 1322.3L2617.1 1321.5L2619.1 1319.4L2621.1 1316.6L2623.1 1313.8L2625 1311.6L2627 1310.8L2629 1309.7L2631 1306.9L2633 1303.3L2634.9 1299.7L2636.9 1296.9L2638.9 1295.8L2640.9 1294.4L2642.9 1291L2644.8 1286.5L2646.8 1282.1L2648.8 1278.6L2650.8 1277.3L2652.8 1275.6L2654.7 1271.6L2656.7 1266.3L2658.7 1261L2660.7 1256.9L2662.7 1255.3L2664.6 1253.2L2666.6 1248.1L2668.6 1241.4L2670.6 1234.7L2672.6 1229.6L2674.5 1227.6L2676.5 1226.7L2678.5 1224.7L2680.5 1222.7L2682.5 1221.8L2684.4 1220.2L2686.4 1216.9L2688.4 1213.5L2690.4 1212L2692.4 1209.2L2694.3 1203L2696.3 1196.8L2698.3 1194L2700.3 1191.5L2702.3 1186.8L2704.2 1184.2L2706.2 1186.2L2708.2 1189.8L2710.2 1191.7L2712.2 1194.9L2714.1 1201.8L2716.1 1208.8L2718.1 1212L2720.1 1214.2L2722.1 1219.2L2724 1224.1L2726 1226.4L2728 1224.9L2730 1222.1L2732 1220.6L2733.9 1215.4L2735.9 1205.6L2737.9 1200.4L2739.9 1197.7L2741.9 1192.7L2743.8 1190L2745.8 1196.4L2747.8 1208.4L2749.8 1214.8L2751.8 1225.3L2753.7 1244.8L2755.7 1255.3L2757.7 1260.3L2759.7 1271.2L2761.7 1282.1L2763.6 1287.1L2765.6 1288.8L2767.6 1293L2769.6 1298L2771.6 1302.1L2773.5 1303.9L2775.5 1304.8L2777.5 1307L2779.5 1309.9L2781.5 1312.8L2783.4 1315.1L2785.4 1316L2787.4 1316.4L2789.4 1317.3L2791.4 1318.7L2793.3 1320.3L2795.3 1321.9L2797.3 1323.3L2799.3 1324.3L2801.3 1324.7L2803.2 1324.9L2805.2 1325.4L2807.2 1326.2L2809.2 1327.3L2811.2 1328.4L2813.1 1329.6L2815.1 1330.7L2817.1 1331.7L2819.1 1332.6L2821.1 1333.1L2823 1333.3L2825 1333.6L2827 1334.3L2829 1335.3L2831 1336.6L2832.9 1338.1L2834.9 1339.6L2836.9 1341L2838.9 1342.3L2840.9 1343.4L2842.8 1344.1L2844.8 1344.3L2846.8 1344.5L2848.8 1345.1L2850.8 1346L2852.7 1347.1L2854.7 1348.3L2856.7 1349.6L2858.7 1350.8L2860.7 1351.9L2862.6 1352.8L2864.6 1353.3L2866.6 1353.6L2868.6 1353.8L2870.6 1354.3L2872.5 1355.2L2874.5 1356.3L2876.5 1357.5L2878.5 1358.8L2880.5 1360.1L2882.4 1361.3L2884.4 1362.3L2886.4 1363.2L2888.4 1363.8L2890.4 1364L2892.3 1364.1L2894.3 1364.5L2896.3 1365L2898.3 1365.8L2900.3 1366.6L2902.2 1367.4L2904.2 1368.3L2906.2 1369.1L2908.2 1369.8L2910.2 1370.4L2912.1 1370.8L2914.1 1370.9L2916.1 1370.9L2918.1 1371.1L2920.1 1371.2L2922 1371.4L2924 1371.6L2926 1371.9L2928 1372.1L2930 1372.3L2931.9 1372.5L2933.9 1372.6L2935.9 1372.6L2937.9 1372.6L2939.9 1372.7L2941.8 1372.7L2943.8 1372.8L2945.8 1372.8L2947.8 1372.9L2949.8 1373L2951.7 1373L2953.7 1373.1L2955.7 1373.2L2957.7 1373.3L2959.7 1373.4L2961.6 1373.5L2963.6 1373.5L2965.6 1373.6L2967.6 1373.7L2969.6 1373.7L2971.5 1373.8L2973.5 1373.8L2975.5 1373.8L2977.5 1373.8L2979.5 1373.8L2981.4 1373.7L2983.4 1373.7L2985.4 1373.6L2987.4 1373.6L2989.4 1373.5L2991.3 1373.5L2993.3 1373.4L2995.3 1373.4L2997.3 1373.3L2999.3 1373.3L3001.2 1373.2L3003.2 1373.2L3005.2 1373.2L3007.2 1373.2L3009.2 1373.1L3011.1 1373L3013.1 1372.9L3015.1 1372.8L3017.1 1372.6L3019.1 1372.4L3021 1372.3L3023 1372.1L3025 1371.9L3027 1371.8L3029 1371.7L3030.9 1371.6L3032.9 1371.5L3034.9 1371.5L3036.9 1371.5L3038.9 1371.6L3040.8 1371.8L3042.8 1372L3044.8 1372.2L3046.8 1372.5L3048.8 1372.8L3050.7 1373.1L3052.7 1373.4L3054.7 1373.6L3056.7 1373.9L3058.7 1374.1L3060.6 1374.2L3062.6 1374.3L3064.6 1374.4L3066.6 1374.4L3068.6 1374.5L3070.5 1374.7L3072.5 1375L3074.5 1375.2L3076.5 1375.5L3078.5 1375.7L3080.4 1375.9L3082.4 1376.1L3084.4 1376.1L3086.4 1375.7L3088.4 1374.9L3090.3 1373.9L3092.3 1373L3094.3 1372.6" fill="none" stroke="#f5222a" stroke-width="4.6" stroke-dasharray="23 10 8 10" stroke-linejoin="round"/>
</g>
<path d="M2184.1 1091V1315" stroke="#111" stroke-width="1.9" fill="none" stroke-dasharray="4.8 11.7"/>
<path d="M2309.8 1091V1317.5" stroke="#111" stroke-width="1.9" fill="none" stroke-dasharray="4.8 11.7"/>
<path d="M2674.5 1091V1128" stroke="#111" stroke-width="1.9" fill="none" stroke-dasharray="4.8 11.7"/>
<path d="M2691.4 1091V1506" stroke="#111" stroke-width="1.9" fill="none" stroke-dasharray="4.8 11.7"/>
<path d="M2704 1091V1176" stroke="#111" stroke-width="1.9" fill="none" stroke-dasharray="4.8 11.7"/>
<path d="M2744.6 1091V1186" stroke="#111" stroke-width="1.9" fill="none" stroke-dasharray="4.8 11.7"/>
<path d="M2814.5 1091V1640" stroke="#111" stroke-width="1.9" fill="none" stroke-dasharray="4.8 11.7"/>
<text transform="translate(2178.8 1199.5) rotate(-90)" font-size="36" textLength="55" lengthAdjust="spacingAndGlyphs" stroke="#0a0a0a" stroke-width="0.5">[OI]</text>
<text transform="translate(2304.5 1199.5) rotate(-90)" font-size="36" textLength="55" lengthAdjust="spacingAndGlyphs" stroke="#0a0a0a" stroke-width="0.5">[OI]</text>
<text transform="translate(2670 1197.5) rotate(-90)" font-size="36" textLength="64.5" lengthAdjust="spacingAndGlyphs" stroke="#0a0a0a" stroke-width="0.5">[NII]</text>
<text transform="translate(2739.5 1197.5) rotate(-90)" font-size="36" textLength="64.5" lengthAdjust="spacingAndGlyphs" stroke="#0a0a0a" stroke-width="0.5">[NII]</text>
<text transform="translate(2699 1199) rotate(-90)" font-size="36" textLength="39" lengthAdjust="spacingAndGlyphs" stroke="#0a0a0a" stroke-width="0.5">Hα</text>
<path d="M2183.5 1682v-11.5M2183.5 1079.3v11.5M2381.5 1682v-11.5M2381.5 1079.3v11.5M2579.5 1682v-11.5M2579.5 1079.3v11.5M2777.5 1682v-11.5M2777.5 1079.3v11.5M2975.5 1682v-11.5M2975.5 1079.3v11.5" stroke="#000" stroke-width="4" fill="none"/>
<path d="M2104.3 1682v-5.5M2104.3 1079.3v5.5M2124.1 1682v-5.5M2124.1 1079.3v5.5M2143.9 1682v-5.5M2143.9 1079.3v5.5M2163.7 1682v-5.5M2163.7 1079.3v5.5M2183.5 1682v-5.5M2183.5 1079.3v5.5M2203.3 1682v-5.5M2203.3 1079.3v5.5M2223.1 1682v-5.5M2223.1 1079.3v5.5M2242.9 1682v-5.5M2242.9 1079.3v5.5M2262.7 1682v-5.5M2262.7 1079.3v5.5M2282.5 1682v-5.5M2282.5 1079.3v5.5M2302.3 1682v-5.5M2302.3 1079.3v5.5M2322.1 1682v-5.5M2322.1 1079.3v5.5M2341.9 1682v-5.5M2341.9 1079.3v5.5M2361.7 1682v-5.5M2361.7 1079.3v5.5M2381.5 1682v-5.5M2381.5 1079.3v5.5M2401.3 1682v-5.5M2401.3 1079.3v5.5M2421.1 1682v-5.5M2421.1 1079.3v5.5M2440.9 1682v-5.5M2440.9 1079.3v5.5M2460.7 1682v-5.5M2460.7 1079.3v5.5M2480.5 1682v-5.5M2480.5 1079.3v5.5M2500.3 1682v-5.5M2500.3 1079.3v5.5M2520.1 1682v-5.5M2520.1 1079.3v5.5M2539.9 1682v-5.5M2539.9 1079.3v5.5M2559.7 1682v-5.5M2559.7 1079.3v5.5M2579.5 1682v-5.5M2579.5 1079.3v5.5M2599.3 1682v-5.5M2599.3 1079.3v5.5M2619.1 1682v-5.5M2619.1 1079.3v5.5M2638.9 1682v-5.5M2638.9 1079.3v5.5M2658.7 1682v-5.5M2658.7 1079.3v5.5M2678.5 1682v-5.5M2678.5 1079.3v5.5M2698.3 1682v-5.5M2698.3 1079.3v5.5M2718.1 1682v-5.5M2718.1 1079.3v5.5M2737.9 1682v-5.5M2737.9 1079.3v5.5M2757.7 1682v-5.5M2757.7 1079.3v5.5M2777.5 1682v-5.5M2777.5 1079.3v5.5M2797.3 1682v-5.5M2797.3 1079.3v5.5M2817.1 1682v-5.5M2817.1 1079.3v5.5M2836.9 1682v-5.5M2836.9 1079.3v5.5M2856.7 1682v-5.5M2856.7 1079.3v5.5M2876.5 1682v-5.5M2876.5 1079.3v5.5M2896.3 1682v-5.5M2896.3 1079.3v5.5M2916.1 1682v-5.5M2916.1 1079.3v5.5M2935.9 1682v-5.5M2935.9 1079.3v5.5M2955.7 1682v-5.5M2955.7 1079.3v5.5M2975.5 1682v-5.5M2975.5 1079.3v5.5M2995.3 1682v-5.5M2995.3 1079.3v5.5M3015.1 1682v-5.5M3015.1 1079.3v5.5M3034.9 1682v-5.5M3034.9 1079.3v5.5M3054.7 1682v-5.5M3054.7 1079.3v5.5M3074.5 1682v-5.5M3074.5 1079.3v5.5M3094.3 1682v-5.5M3094.3 1079.3v5.5" stroke="#000" stroke-width="4" fill="none"/>
<path d="M2104.6 1631h20M3094 1631h-20M2104.6 1515.4h20M3094 1515.4h-20M2104.6 1399.8h20M3094 1399.8h-20M2104.6 1284.2h20M3094 1284.2h-20M2104.6 1168.6h20M3094 1168.6h-20" stroke="#000" stroke-width="4" fill="none"/>
<path d="M2104.6 1659.9h10M3094 1659.9h-10M2104.6 1631h10M3094 1631h-10M2104.6 1602.1h10M3094 1602.1h-10M2104.6 1573.2h10M3094 1573.2h-10M2104.6 1544.3h10M3094 1544.3h-10M2104.6 1515.4h10M3094 1515.4h-10M2104.6 1486.5h10M3094 1486.5h-10M2104.6 1457.6h10M3094 1457.6h-10M2104.6 1428.7h10M3094 1428.7h-10M2104.6 1399.8h10M3094 1399.8h-10M2104.6 1370.9h10M3094 1370.9h-10M2104.6 1342h10M3094 1342h-10M2104.6 1313.1h10M3094 1313.1h-10M2104.6 1284.2h10M3094 1284.2h-10M2104.6 1255.3h10M3094 1255.3h-10M2104.6 1226.4h10M3094 1226.4h-10M2104.6 1197.5h10M3094 1197.5h-10M2104.6 1168.6h10M3094 1168.6h-10M2104.6 1139.7h10M3094 1139.7h-10M2104.6 1110.8h10M3094 1110.8h-10M2104.6 1081.9h10M3094 1081.9h-10" stroke="#000" stroke-width="4" fill="none"/>
<rect x="2104.6" y="1079.3" width="989.4" height="602.7" fill="none" stroke="#000" stroke-width="4.2" stroke-linejoin="round"/>
<text x="310.4" y="297.2" font-size="39" textLength="338.6" lengthAdjust="spacingAndGlyphs" stroke="#0a0a0a" stroke-width="0.5">BAT.index=1009</text>
<text x="310.4" y="347.1" font-size="39" textLength="405.6" lengthAdjust="spacingAndGlyphs" stroke="#0a0a0a" stroke-width="0.5">SWIFTJ1856.5−7851</text>
<text x="310.4" y="397.5" font-size="39" textLength="211.8" lengthAdjust="spacingAndGlyphs" stroke="#0a0a0a" stroke-width="0.5">Fairall189</text>
<text x="310.4" y="447.2" font-size="39" textLength="191.2" lengthAdjust="spacingAndGlyphs" stroke="#0a0a0a" stroke-width="0.5">z=0.0289</text>
<text x="2096.3" y="335.2" font-size="39" textLength="849.7" lengthAdjust="spacingAndGlyphs" stroke="#0a0a0a" stroke-width="0.5">telescope/instrument:UK Schmidt/6DF</text>
<text x="2096.3" y="385.5" font-size="39" textLength="408.7" lengthAdjust="spacingAndGlyphs" stroke="#0a0a0a" stroke-width="0.5">obs.date:09−09−09</text>
<text x="2096.3" y="435" font-size="39" textLength="14" lengthAdjust="spacingAndGlyphs" stroke="#0a0a0a" stroke-width="0.5">t</text>
<text x="2113.6" y="444.8" font-size="25" textLength="54.5" lengthAdjust="spacingAndGlyphs" font-weight="bold">exp.</text>
<text x="2172" y="435" font-size="39" textLength="184.7" lengthAdjust="spacingAndGlyphs" stroke="#0a0a0a" stroke-width="0.5">=1199[s]</text>
<text x="325.8" y="535.9" font-size="31" textLength="101" lengthAdjust="spacingAndGlyphs" stroke="#0a0a0a" stroke-width="0.4">DSS−1</text>
<text x="277.2" y="498.8" font-size="39" textLength="52" lengthAdjust="spacingAndGlyphs" text-anchor="end" stroke="#0a0a0a" stroke-width="0.5">1.0</text>
<text x="277.2" y="610.9" font-size="39" textLength="52" lengthAdjust="spacingAndGlyphs" text-anchor="end" stroke="#0a0a0a" stroke-width="0.5">0.5</text>
<text x="277.2" y="736" font-size="39" textLength="52" lengthAdjust="spacingAndGlyphs" text-anchor="end" stroke="#0a0a0a" stroke-width="0.5">0.0</text>
<text x="277.2" y="863.6" font-size="39" textLength="83.4" lengthAdjust="spacingAndGlyphs" text-anchor="end" stroke="#0a0a0a" stroke-width="0.5">−0.5</text>
<text x="277.2" y="974.6" font-size="39" textLength="83.4" lengthAdjust="spacingAndGlyphs" text-anchor="end" stroke="#0a0a0a" stroke-width="0.5">−1.0</text>
<text x="248.5" y="1027.8" font-size="39" textLength="80.8" lengthAdjust="spacingAndGlyphs" stroke="#0a0a0a" stroke-width="0.5">−1.0</text>
<text x="376" y="1027.8" font-size="39" textLength="81" lengthAdjust="spacingAndGlyphs" stroke="#0a0a0a" stroke-width="0.5">−0.5</text>
<text x="514" y="1027.8" font-size="39" textLength="52.4" lengthAdjust="spacingAndGlyphs" stroke="#0a0a0a" stroke-width="0.5">0.0</text>
<text x="639.4" y="1027.8" font-size="39" textLength="52.1" lengthAdjust="spacingAndGlyphs" stroke="#0a0a0a" stroke-width="0.5">0.5</text>
<text x="767" y="1027.8" font-size="39" textLength="51" lengthAdjust="spacingAndGlyphs" stroke="#0a0a0a" stroke-width="0.5">1.0</text>
<text x="471" y="1070.5" font-size="39" textLength="137" lengthAdjust="spacingAndGlyphs" stroke="#0a0a0a" stroke-width="0.5">arcmin</text>
<text transform="translate(161.5 792.5) rotate(-90)" font-size="39" textLength="135" lengthAdjust="spacingAndGlyphs" stroke="#0a0a0a" stroke-width="0.5">arcmin</text>
<text x="984" y="607.5" font-size="39" textLength="65.5" lengthAdjust="spacingAndGlyphs" text-anchor="end" stroke="#0a0a0a" stroke-width="0.5">600</text>
<text x="984" y="732.3" font-size="39" textLength="65.5" lengthAdjust="spacingAndGlyphs" text-anchor="end" stroke="#0a0a0a" stroke-width="0.5">400</text>
<text x="984" y="857" font-size="39" textLength="65.5" lengthAdjust="spacingAndGlyphs" text-anchor="end" stroke="#0a0a0a" stroke-width="0.5">200</text>
<text x="984" y="974.5" font-size="39" textLength="20.5" lengthAdjust="spacingAndGlyphs" text-anchor="end" stroke="#0a0a0a" stroke-width="0.5">0</text>
<text x="1096.5" y="1027.6" font-size="39" textLength="89" lengthAdjust="spacingAndGlyphs" text-anchor="middle" stroke="#0a0a0a" stroke-width="0.5">4000</text>
<text x="1408.5" y="1027.6" font-size="39" textLength="89" lengthAdjust="spacingAndGlyphs" text-anchor="middle" stroke="#0a0a0a" stroke-width="0.5">4500</text>
<text x="1720.5" y="1027.6" font-size="39" textLength="89" lengthAdjust="spacingAndGlyphs" text-anchor="middle" stroke="#0a0a0a" stroke-width="0.5">5000</text>
<text x="2032.5" y="1027.6" font-size="39" textLength="89" lengthAdjust="spacingAndGlyphs" text-anchor="middle" stroke="#0a0a0a" stroke-width="0.5">5500</text>
<text x="2344.5" y="1027.6" font-size="39" textLength="89" lengthAdjust="spacingAndGlyphs" text-anchor="middle" stroke="#0a0a0a" stroke-width="0.5">6000</text>
<text x="2656.5" y="1027.6" font-size="39" textLength="89" lengthAdjust="spacingAndGlyphs" text-anchor="middle" stroke="#0a0a0a" stroke-width="0.5">6500</text>
<text x="2968.5" y="1027.6" font-size="39" textLength="89" lengthAdjust="spacingAndGlyphs" text-anchor="middle" stroke="#0a0a0a" stroke-width="0.5">7000</text>
<text x="1992" y="1071.6" font-size="39" textLength="17" lengthAdjust="spacingAndGlyphs" stroke="#0a0a0a" stroke-width="0.5">λ</text>
<text x="2011" y="1082.1" font-size="25" textLength="34" lengthAdjust="spacingAndGlyphs" font-weight="bold">r.f.</text>
<path d="M2058.2 1042.4h-8.2v39.2h8.2M2086.8 1042.4h8.2v39.2h-8.2" fill="none" stroke="#0a0a0a" stroke-width="2.6"/>
<text x="2062" y="1072.5" font-size="39" textLength="22.5" lengthAdjust="spacingAndGlyphs" font-weight="bold">A</text>
<circle cx="2068.5" cy="1042" r="2.9" fill="none" stroke="#0a0a0a" stroke-width="1.7"/>
<text x="593" y="1784" font-size="39" textLength="17" lengthAdjust="spacingAndGlyphs" stroke="#0a0a0a" stroke-width="0.5">λ</text>
<text x="612" y="1794.5" font-size="25" textLength="34" lengthAdjust="spacingAndGlyphs" font-weight="bold">r.f.</text>
<path d="M659.2 1754.8h-8.2v39.2h8.2M687.8 1754.8h8.2v39.2h-8.2" fill="none" stroke="#0a0a0a" stroke-width="2.6"/>
<text x="663" y="1784.9" font-size="39" textLength="22.5" lengthAdjust="spacingAndGlyphs" font-weight="bold">A</text>
<circle cx="669.5" cy="1754.4" r="2.9" fill="none" stroke="#0a0a0a" stroke-width="1.7"/>
<text x="1499" y="1784" font-size="39" textLength="17" lengthAdjust="spacingAndGlyphs" stroke="#0a0a0a" stroke-width="0.5">λ</text>
<text x="1518" y="1794.5" font-size="25" textLength="34" lengthAdjust="spacingAndGlyphs" font-weight="bold">r.f.</text>
<path d="M1565.2 1754.8h-8.2v39.2h8.2M1593.8 1754.8h8.2v39.2h-8.2" fill="none" stroke="#0a0a0a" stroke-width="2.6"/>
<text x="1569" y="1784.9" font-size="39" textLength="22.5" lengthAdjust="spacingAndGlyphs" font-weight="bold">A</text>
<circle cx="1575.5" cy="1754.4" r="2.9" fill="none" stroke="#0a0a0a" stroke-width="1.7"/>
<text x="2544" y="1783.5" font-size="39" textLength="17" lengthAdjust="spacingAndGlyphs" stroke="#0a0a0a" stroke-width="0.5">λ</text>
<text x="2563" y="1794" font-size="25" textLength="34" lengthAdjust="spacingAndGlyphs" font-weight="bold">r.f.</text>
<path d="M2610.2 1754.3h-8.2v39.2h8.2M2638.8 1754.3h8.2v39.2h-8.2" fill="none" stroke="#0a0a0a" stroke-width="2.6"/>
<text x="2614" y="1784.4" font-size="39" textLength="22.5" lengthAdjust="spacingAndGlyphs" font-weight="bold">A</text>
<circle cx="2620.5" cy="1753.9" r="2.9" fill="none" stroke="#0a0a0a" stroke-width="1.7"/>
<g transform="translate(885.9 959) rotate(-90)">
<text x="0" y="0" font-size="39" textLength="76" lengthAdjust="spacingAndGlyphs" stroke="#0a0a0a" stroke-width="0.5">flux</text>
<path d="M87.8 -31.5h-8.3v41.5h8.3M456.6 -31.5h8.3v41.5h-8.3" fill="none" stroke="#0a0a0a" stroke-width="2.5"/>
<text x="96" y="0" font-size="39" textLength="38.2" lengthAdjust="spacingAndGlyphs" stroke="#0a0a0a" stroke-width="0.5">10</text>
<text x="140.3" y="-18" font-size="25" textLength="46" lengthAdjust="spacingAndGlyphs" stroke="#0a0a0a" stroke-width="0.4">−17</text>
<text x="184.6" y="0" font-size="39" textLength="59.4" lengthAdjust="spacingAndGlyphs" stroke="#0a0a0a" stroke-width="0.5">erg</text>
<text x="268.2" y="0" font-size="39" textLength="14.5" lengthAdjust="spacingAndGlyphs" stroke="#0a0a0a" stroke-width="0.5">s</text>
<text x="289.3" y="-18" font-size="25" textLength="28" lengthAdjust="spacingAndGlyphs" stroke="#0a0a0a" stroke-width="0.4">−1</text>
<text x="319" y="0" font-size="39" textLength="56.5" lengthAdjust="spacingAndGlyphs" stroke="#0a0a0a" stroke-width="0.5">cm</text>
<text x="380.5" y="-18" font-size="25" textLength="26.5" lengthAdjust="spacingAndGlyphs" stroke="#0a0a0a" stroke-width="0.4">−2</text>
<text x="411.5" y="0" font-size="39" textLength="21" lengthAdjust="spacingAndGlyphs" stroke="#0a0a0a" stroke-width="0.5">A</text>
<circle cx="416.5" cy="-31.8" r="3.2" fill="none" stroke="#0a0a0a" stroke-width="1.8"/>
<text x="424.5" y="-18" font-size="25" textLength="25.5" lengthAdjust="spacingAndGlyphs" stroke="#0a0a0a" stroke-width="0.4">−1</text>
</g>
<g transform="translate(148.4 1615.5) rotate(-90)">
<text x="0" y="0" font-size="39" textLength="76" lengthAdjust="spacingAndGlyphs" stroke="#0a0a0a" stroke-width="0.5">flux</text>
<path d="M87.8 -31.5h-8.3v41.5h8.3M456.6 -31.5h8.3v41.5h-8.3" fill="none" stroke="#0a0a0a" stroke-width="2.5"/>
<text x="96" y="0" font-size="39" textLength="38.2" lengthAdjust="spacingAndGlyphs" stroke="#0a0a0a" stroke-width="0.5">10</text>
<text x="140.3" y="-18" font-size="25" textLength="46" lengthAdjust="spacingAndGlyphs" stroke="#0a0a0a" stroke-width="0.4">−17</text>
<text x="184.6" y="0" font-size="39" textLength="59.4" lengthAdjust="spacingAndGlyphs" stroke="#0a0a0a" stroke-width="0.5">erg</text>
<text x="268.2" y="0" font-size="39" textLength="14.5" lengthAdjust="spacingAndGlyphs" stroke="#0a0a0a" stroke-width="0.5">s</text>
<text x="289.3" y="-18" font-size="25" textLength="28" lengthAdjust="spacingAndGlyphs" stroke="#0a0a0a" stroke-width="0.4">−1</text>
<text x="319" y="0" font-size="39" textLength="56.5" lengthAdjust="spacingAndGlyphs" stroke="#0a0a0a" stroke-width="0.5">cm</text>
<text x="380.5" y="-18" font-size="25" textLength="26.5" lengthAdjust="spacingAndGlyphs" stroke="#0a0a0a" stroke-width="0.4">−2</text>
<text x="411.5" y="0" font-size="39" textLength="21" lengthAdjust="spacingAndGlyphs" stroke="#0a0a0a" stroke-width="0.5">A</text>
<circle cx="416.5" cy="-31.8" r="3.2" fill="none" stroke="#0a0a0a" stroke-width="1.8"/>
<text x="424.5" y="-18" font-size="25" textLength="25.5" lengthAdjust="spacingAndGlyphs" stroke="#0a0a0a" stroke-width="0.4">−1</text>
</g>
<text x="1267" y="539.5" font-size="39" textLength="66" lengthAdjust="spacingAndGlyphs" stroke="#0a0a0a" stroke-width="0.5">obj.</text>
<text x="1267" y="589" font-size="39" textLength="40" lengthAdjust="spacingAndGlyphs" stroke="#0a0a0a" stroke-width="0.5">fit</text>
<text x="1267" y="639.5" font-size="39" textLength="65" lengthAdjust="spacingAndGlyphs" stroke="#0a0a0a" stroke-width="0.5">res.</text>
<text x="1267" y="689.3" font-size="39" textLength="77" lengthAdjust="spacingAndGlyphs" stroke="#0a0a0a" stroke-width="0.5">emi.</text>
<text x="1267" y="739.2" font-size="39" textLength="77" lengthAdjust="spacingAndGlyphs" stroke="#0a0a0a" stroke-width="0.5">emi.</text>
<text x="1347" y="749.5" font-size="25" textLength="26" lengthAdjust="spacingAndGlyphs" font-weight="bold" font-family="Liberation Sans">br</text>
<text x="275.6" y="1225.6" font-size="39" textLength="65" lengthAdjust="spacingAndGlyphs" text-anchor="end" stroke="#0a0a0a" stroke-width="0.5">200</text>
<text x="275.6" y="1377.5" font-size="39" textLength="65" lengthAdjust="spacingAndGlyphs" text-anchor="end" stroke="#0a0a0a" stroke-width="0.5">100</text>
<text x="275.6" y="1528.9" font-size="39" textLength="20.5" lengthAdjust="spacingAndGlyphs" text-anchor="end" stroke="#0a0a0a" stroke-width="0.5">0</text>
<text x="275.6" y="1681.7" font-size="39" textLength="92" lengthAdjust="spacingAndGlyphs" text-anchor="end" stroke="#0a0a0a" stroke-width="0.5">−100</text>
<text x="328.5" y="1736.4" font-size="39" textLength="88.5" lengthAdjust="spacingAndGlyphs" text-anchor="middle" stroke="#0a0a0a" stroke-width="0.5">3200</text>
<text x="485.8" y="1736.4" font-size="39" textLength="88.5" lengthAdjust="spacingAndGlyphs" text-anchor="middle" stroke="#0a0a0a" stroke-width="0.5">3400</text>
<text x="643" y="1736.4" font-size="39" textLength="88.5" lengthAdjust="spacingAndGlyphs" text-anchor="middle" stroke="#0a0a0a" stroke-width="0.5">3600</text>
<text x="800.2" y="1736.4" font-size="39" textLength="88.5" lengthAdjust="spacingAndGlyphs" text-anchor="middle" stroke="#0a0a0a" stroke-width="0.5">3800</text>
<text x="957.5" y="1736.4" font-size="39" textLength="88.5" lengthAdjust="spacingAndGlyphs" text-anchor="middle" stroke="#0a0a0a" stroke-width="0.5">4000</text>
<text x="1182.3" y="1196.9" font-size="39" textLength="65" lengthAdjust="spacingAndGlyphs" text-anchor="end" stroke="#0a0a0a" stroke-width="0.5">600</text>
<text x="1182.3" y="1307.7" font-size="39" textLength="65" lengthAdjust="spacingAndGlyphs" text-anchor="end" stroke="#0a0a0a" stroke-width="0.5">400</text>
<text x="1182.3" y="1417" font-size="39" textLength="65" lengthAdjust="spacingAndGlyphs" text-anchor="end" stroke="#0a0a0a" stroke-width="0.5">200</text>
<text x="1182.3" y="1527.5" font-size="39" textLength="20.5" lengthAdjust="spacingAndGlyphs" text-anchor="end" stroke="#0a0a0a" stroke-width="0.5">0</text>
<text x="1182.3" y="1638.3" font-size="39" textLength="91.5" lengthAdjust="spacingAndGlyphs" text-anchor="end" stroke="#0a0a0a" stroke-width="0.5">−200</text>
<text x="1283.8" y="1736.4" font-size="39" textLength="89" lengthAdjust="spacingAndGlyphs" text-anchor="middle" stroke="#0a0a0a" stroke-width="0.5">4700</text>
<text x="1461.2" y="1736.4" font-size="39" textLength="89" lengthAdjust="spacingAndGlyphs" text-anchor="middle" stroke="#0a0a0a" stroke-width="0.5">4800</text>
<text x="1638.6" y="1736.4" font-size="39" textLength="89" lengthAdjust="spacingAndGlyphs" text-anchor="middle" stroke="#0a0a0a" stroke-width="0.5">4900</text>
<text x="1816" y="1736.4" font-size="39" textLength="89" lengthAdjust="spacingAndGlyphs" text-anchor="middle" stroke="#0a0a0a" stroke-width="0.5">5000</text>
<text x="2090" y="1181.9" font-size="39" textLength="65" lengthAdjust="spacingAndGlyphs" text-anchor="end" stroke="#0a0a0a" stroke-width="0.5">600</text>
<text x="2090" y="1297.5" font-size="39" textLength="65" lengthAdjust="spacingAndGlyphs" text-anchor="end" stroke="#0a0a0a" stroke-width="0.5">400</text>
<text x="2090" y="1413.2" font-size="39" textLength="65" lengthAdjust="spacingAndGlyphs" text-anchor="end" stroke="#0a0a0a" stroke-width="0.5">200</text>
<text x="2090" y="1528.5" font-size="39" textLength="20.5" lengthAdjust="spacingAndGlyphs" text-anchor="end" stroke="#0a0a0a" stroke-width="0.5">0</text>
<text x="2090" y="1644" font-size="39" textLength="92.5" lengthAdjust="spacingAndGlyphs" text-anchor="end" stroke="#0a0a0a" stroke-width="0.5">−200</text>
<text x="2182" y="1736.8" font-size="39" textLength="90" lengthAdjust="spacingAndGlyphs" text-anchor="middle" stroke="#0a0a0a" stroke-width="0.5">6300</text>
<text x="2380" y="1736.8" font-size="39" textLength="90" lengthAdjust="spacingAndGlyphs" text-anchor="middle" stroke="#0a0a0a" stroke-width="0.5">6400</text>
<text x="2578" y="1736.8" font-size="39" textLength="90" lengthAdjust="spacingAndGlyphs" text-anchor="middle" stroke="#0a0a0a" stroke-width="0.5">6500</text>
<text x="2776" y="1736.8" font-size="39" textLength="90" lengthAdjust="spacingAndGlyphs" text-anchor="middle" stroke="#0a0a0a" stroke-width="0.5">6600</text>
<text x="2974" y="1736.8" font-size="39" textLength="90" lengthAdjust="spacingAndGlyphs" text-anchor="middle" stroke="#0a0a0a" stroke-width="0.5">6700</text>
<g transform="translate(1568 1470.7) rotate(-90)">
<text x="0" y="0" font-size="36" textLength="42" lengthAdjust="spacingAndGlyphs" stroke="#0a0a0a" stroke-width="0.5">Hβ</text>
<text x="43" y="9" font-size="24" textLength="25" lengthAdjust="spacingAndGlyphs" font-weight="bold" font-family="Liberation Sans">br</text>
</g>
<g transform="translate(2686 1229.5) rotate(-90)">
<text x="0" y="0" font-size="36" textLength="42" lengthAdjust="spacingAndGlyphs" stroke="#0a0a0a" stroke-width="0.5">Hα</text>
<text x="43" y="9" font-size="24" textLength="25" lengthAdjust="spacingAndGlyphs" font-weight="bold" font-family="Liberation Sans">br</text>
</g>
<g transform="translate(2810 1229.5) rotate(-90)">
<text x="0" y="0" font-size="36" textLength="42" lengthAdjust="spacingAndGlyphs" stroke="#0a0a0a" stroke-width="0.5">Hα</text>
<text x="43" y="9" font-size="24" textLength="25" lengthAdjust="spacingAndGlyphs" font-weight="bold" font-family="Liberation Sans">br</text>
</g>
</svg></body></html>
